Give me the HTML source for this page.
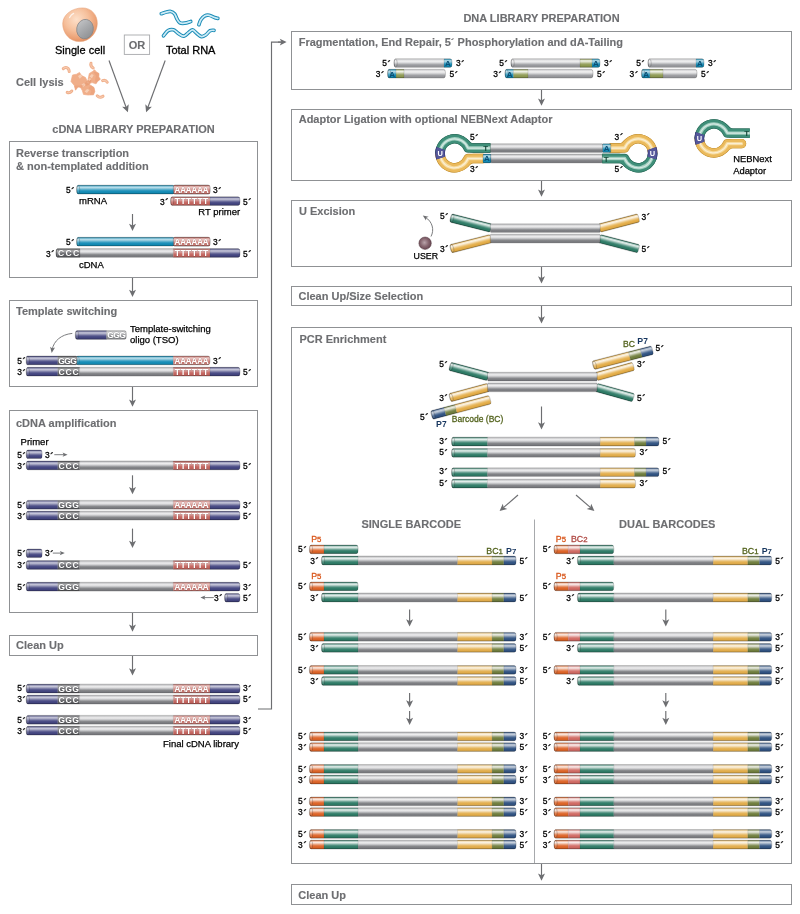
<!DOCTYPE html>
<html><head><meta charset="utf-8"><title>Library preparation workflow</title>
<style>
html,body{margin:0;padding:0;background:#fff;}
svg{display:block;}
text{font-family:"Liberation Sans",Arial,Helvetica,sans-serif;}
</style></head><body>
<svg width="800" height="914" viewBox="0 0 800 914">
<defs><linearGradient id="g_green" x1="0" y1="0" x2="0" y2="1"><stop offset="0" stop-color="#639d8d"/><stop offset="0.12" stop-color="#a1c4bb"/><stop offset="0.26" stop-color="#e2edea"/><stop offset="0.4" stop-color="#accbc2"/><stop offset="0.52" stop-color="#6da395"/><stop offset="0.64" stop-color="#408673"/><stop offset="0.76" stop-color="#2f7c67"/><stop offset="1" stop-color="#2b725f"/></linearGradient>
<linearGradient id="g_orange" x1="0" y1="0" x2="0" y2="1"><stop offset="0" stop-color="#e68b5e"/><stop offset="0.12" stop-color="#f0b99e"/><stop offset="0.26" stop-color="#fae9e1"/><stop offset="0.4" stop-color="#f1c1a9"/><stop offset="0.52" stop-color="#e79268"/><stop offset="0.64" stop-color="#e07039"/><stop offset="0.76" stop-color="#dd6428"/><stop offset="1" stop-color="#cb5c25"/></linearGradient>
<linearGradient id="g_grey" x1="0" y1="0" x2="0" y2="1"><stop offset="0" stop-color="#aaabae"/><stop offset="0.12" stop-color="#ceced0"/><stop offset="0.28" stop-color="#ededee"/><stop offset="0.42" stop-color="#d8d8da"/><stop offset="0.56" stop-color="#aeafb2"/><stop offset="0.68" stop-color="#8a8b8e"/><stop offset="0.78" stop-color="#7d7e82"/><stop offset="1" stop-color="#78797d"/></linearGradient>
<linearGradient id="g_yellow" x1="0" y1="0" x2="0" y2="1"><stop offset="0" stop-color="#ebc682"/><stop offset="0.12" stop-color="#f3ddb4"/><stop offset="0.27" stop-color="#faf2e2"/><stop offset="0.4" stop-color="#f4e0bb"/><stop offset="0.53" stop-color="#ebc682"/><stop offset="0.65" stop-color="#e4b45a"/><stop offset="0.76" stop-color="#e2ad4c"/><stop offset="1" stop-color="#d7a448"/></linearGradient>
<linearGradient id="g_olive" x1="0" y1="0" x2="0" y2="1"><stop offset="0" stop-color="#949e6e"/><stop offset="0.12" stop-color="#bfc5a8"/><stop offset="0.26" stop-color="#ebede4"/><stop offset="0.4" stop-color="#c6cbb2"/><stop offset="0.52" stop-color="#9ba578"/><stop offset="0.64" stop-color="#7b884d"/><stop offset="0.76" stop-color="#707e3e"/><stop offset="1" stop-color="#677439"/></linearGradient>
<linearGradient id="g_p7" x1="0" y1="0" x2="0" y2="1"><stop offset="0" stop-color="#5d789d"/><stop offset="0.12" stop-color="#91a3bc"/><stop offset="0.26" stop-color="#c8d1dd"/><stop offset="0.4" stop-color="#9aabc2"/><stop offset="0.52" stop-color="#667fa2"/><stop offset="0.64" stop-color="#3f5f8a"/><stop offset="0.76" stop-color="#315382"/><stop offset="1" stop-color="#2d4c78"/></linearGradient>
<linearGradient id="g_bc2" x1="0" y1="0" x2="0" y2="1"><stop offset="0" stop-color="#dc8f8b"/><stop offset="0.12" stop-color="#eabcb9"/><stop offset="0.26" stop-color="#f8eae9"/><stop offset="0.4" stop-color="#ecc3c1"/><stop offset="0.52" stop-color="#de9792"/><stop offset="0.64" stop-color="#d47670"/><stop offset="0.76" stop-color="#d06a64"/><stop offset="1" stop-color="#bf625c"/></linearGradient>
<linearGradient id="g_navy" x1="0" y1="0" x2="0" y2="1"><stop offset="0" stop-color="#696b9a"/><stop offset="0.12" stop-color="#9697b8"/><stop offset="0.26" stop-color="#c5c5d8"/><stop offset="0.4" stop-color="#9e9fbd"/><stop offset="0.52" stop-color="#71729f"/><stop offset="0.64" stop-color="#505289"/><stop offset="0.76" stop-color="#444681"/><stop offset="1" stop-color="#3f4077"/></linearGradient>
<linearGradient id="g_blue" x1="0" y1="0" x2="0" y2="1"><stop offset="0" stop-color="#43a3c5"/><stop offset="0.12" stop-color="#7bbfd6"/><stop offset="0.26" stop-color="#b6dbe8"/><stop offset="0.4" stop-color="#85c3d9"/><stop offset="0.52" stop-color="#4ca8c8"/><stop offset="0.64" stop-color="#2393bb"/><stop offset="0.76" stop-color="#148cb6"/><stop offset="1" stop-color="#1281a7"/></linearGradient>
<linearGradient id="g_pinkA" x1="0" y1="0" x2="0" y2="1"><stop offset="0" stop-color="#d6918b"/><stop offset="0.12" stop-color="#dfa9a5"/><stop offset="0.26" stop-color="#e9c2bf"/><stop offset="0.4" stop-color="#e1ada9"/><stop offset="0.52" stop-color="#d8958f"/><stop offset="0.64" stop-color="#d1837d"/><stop offset="0.76" stop-color="#cf7d76"/><stop offset="1" stop-color="#be736d"/></linearGradient>
<linearGradient id="g_pinkT" x1="0" y1="0" x2="0" y2="1"><stop offset="0" stop-color="#cd7c77"/><stop offset="0.12" stop-color="#d79894"/><stop offset="0.26" stop-color="#e2b4b2"/><stop offset="0.4" stop-color="#d99c99"/><stop offset="0.52" stop-color="#cf817c"/><stop offset="0.64" stop-color="#c76c67"/><stop offset="0.76" stop-color="#c4655f"/><stop offset="1" stop-color="#b45d57"/></linearGradient>
<linearGradient id="g_dgrey" x1="0" y1="0" x2="0" y2="1"><stop offset="0" stop-color="#757679"/><stop offset="0.12" stop-color="#8f9093"/><stop offset="0.26" stop-color="#ababad"/><stop offset="0.4" stop-color="#949497"/><stop offset="0.52" stop-color="#797a7e"/><stop offset="0.64" stop-color="#66676b"/><stop offset="0.76" stop-color="#5f6064"/><stop offset="1" stop-color="#57585c"/></linearGradient>
<linearGradient id="g_lgrey" x1="0" y1="0" x2="0" y2="1"><stop offset="0" stop-color="#a3a4a7"/><stop offset="0.12" stop-color="#bfbfc1"/><stop offset="0.26" stop-color="#dbdbdd"/><stop offset="0.4" stop-color="#c3c4c6"/><stop offset="0.52" stop-color="#a8a8ab"/><stop offset="0.64" stop-color="#939498"/><stop offset="0.76" stop-color="#8c8d91"/><stop offset="1" stop-color="#818285"/></linearGradient>
<linearGradient id="g_fgrey" x1="0" y1="0" x2="0" y2="1"><stop offset="0" stop-color="#bcbdbf"/><stop offset="0.12" stop-color="#d8d8da"/><stop offset="0.28" stop-color="#f1f1f1"/><stop offset="0.42" stop-color="#e0e0e2"/><stop offset="0.56" stop-color="#bfc0c2"/><stop offset="0.68" stop-color="#a2a3a7"/><stop offset="0.78" stop-color="#98999d"/><stop offset="1" stop-color="#929397"/></linearGradient>
<linearGradient id="g_folive" x1="0" y1="0" x2="0" y2="1"><stop offset="0" stop-color="#aab37d"/><stop offset="0.12" stop-color="#ccd2b1"/><stop offset="0.26" stop-color="#eff1e7"/><stop offset="0.4" stop-color="#d2d7ba"/><stop offset="0.52" stop-color="#b0b886"/><stop offset="0.64" stop-color="#97a260"/><stop offset="0.76" stop-color="#8e9a52"/><stop offset="1" stop-color="#838e4b"/></linearGradient>
<linearGradient id="g_yarm" x1="0" y1="0" x2="0" y2="1"><stop offset="0" stop-color="#ebc276"/><stop offset="0.12" stop-color="#f3daad"/><stop offset="0.26" stop-color="#fbf4e5"/><stop offset="0.4" stop-color="#f4deb6"/><stop offset="0.52" stop-color="#ecc67f"/><stop offset="0.64" stop-color="#e6b457"/><stop offset="0.76" stop-color="#e4ad48"/><stop offset="1" stop-color="#d29f42"/></linearGradient>

<linearGradient id="shade" x1="0" y1="0" x2="0" y2="1">
<stop offset="0" stop-color="#fff" stop-opacity="0.30"/>
<stop offset="0.12" stop-color="#fff" stop-opacity="0.60"/>
<stop offset="0.28" stop-color="#fff" stop-opacity="0.84"/>
<stop offset="0.42" stop-color="#fff" stop-opacity="0.66"/>
<stop offset="0.56" stop-color="#fff" stop-opacity="0.34"/>
<stop offset="0.68" stop-color="#fff" stop-opacity="0.08"/>
<stop offset="0.78" stop-color="#000" stop-opacity="0.0"/>
<stop offset="1" stop-color="#000" stop-opacity="0.05"/>
</linearGradient>
<radialGradient id="cellg" cx="0.40" cy="0.34" r="0.68">
<stop offset="0" stop-color="#fde0ca"/>
<stop offset="0.5" stop-color="#f6c09c"/>
<stop offset="0.85" stop-color="#eb9f73"/>
<stop offset="1" stop-color="#e08d5e"/>
</radialGradient>
<linearGradient id="nucg" x1="0" y1="0" x2="1" y2="1">
<stop offset="0" stop-color="#c9cacc"/>
<stop offset="0.45" stop-color="#a9abae"/>
<stop offset="1" stop-color="#87898c"/>
</linearGradient>
<radialGradient id="userg" cx="0.45" cy="0.45" r="0.6">
<stop offset="0" stop-color="#b9a3aa"/>
<stop offset="0.55" stop-color="#86656f"/>
<stop offset="1" stop-color="#64434e"/>
</radialGradient>
<clipPath id="c1"><rect x="173.00" y="185.20" width="37.00" height="8.80" rx="2.00" ry="3.20"/></clipPath>
<clipPath id="c2"><rect x="76.50" y="185.20" width="98.00" height="8.80" rx="2.00" ry="3.20"/></clipPath>
<clipPath id="c3"><rect x="173.30" y="185.20" width="36.70" height="8.80" rx="1.20" ry="1.92"/></clipPath>
<clipPath id="c4"><rect x="170.50" y="196.70" width="69.50" height="8.80" rx="2.00" ry="3.20"/></clipPath>
<clipPath id="c5"><rect x="173.00" y="237.30" width="37.00" height="8.80" rx="2.00" ry="3.20"/></clipPath>
<clipPath id="c6"><rect x="76.50" y="237.30" width="98.00" height="8.80" rx="2.00" ry="3.20"/></clipPath>
<clipPath id="c7"><rect x="173.30" y="237.30" width="36.70" height="8.80" rx="1.20" ry="1.92"/></clipPath>
<clipPath id="c8"><rect x="56.00" y="248.60" width="184.00" height="8.80" rx="2.00" ry="3.20"/></clipPath>
<clipPath id="c9"><rect x="75.30" y="330.60" width="51.10" height="8.80" rx="2.00" ry="3.20"/></clipPath>
<clipPath id="c10"><rect x="76.00" y="356.00" width="134.00" height="8.80" rx="2.00" ry="3.20"/></clipPath>
<clipPath id="c11"><rect x="26.20" y="356.00" width="51.00" height="8.80" rx="1.40" ry="2.24"/></clipPath>
<clipPath id="c12"><rect x="26.20" y="367.30" width="213.80" height="8.80" rx="2.00" ry="3.20"/></clipPath>
<clipPath id="c13"><rect x="26.20" y="450.00" width="16.00" height="8.60" rx="2.00" ry="3.20"/></clipPath>
<clipPath id="c14"><rect x="26.20" y="461.00" width="213.80" height="8.80" rx="2.00" ry="3.20"/></clipPath>
<clipPath id="c15"><rect x="26.20" y="500.40" width="213.80" height="8.80" rx="2.00" ry="3.20"/></clipPath>
<clipPath id="c16"><rect x="26.20" y="511.20" width="213.80" height="8.80" rx="2.00" ry="3.20"/></clipPath>
<clipPath id="c17"><rect x="26.20" y="549.00" width="16.00" height="8.60" rx="2.00" ry="3.20"/></clipPath>
<clipPath id="c18"><rect x="26.20" y="560.60" width="213.80" height="8.80" rx="2.00" ry="3.20"/></clipPath>
<clipPath id="c19"><rect x="26.20" y="582.30" width="213.80" height="8.80" rx="2.00" ry="3.20"/></clipPath>
<clipPath id="c20"><rect x="224.50" y="593.40" width="15.50" height="8.60" rx="2.00" ry="3.20"/></clipPath>
<clipPath id="c21"><rect x="26.20" y="684.20" width="213.80" height="8.80" rx="2.00" ry="3.20"/></clipPath>
<clipPath id="c22"><rect x="26.20" y="695.20" width="213.80" height="8.80" rx="2.00" ry="3.20"/></clipPath>
<clipPath id="c23"><rect x="26.20" y="715.40" width="213.80" height="8.80" rx="2.00" ry="3.20"/></clipPath>
<clipPath id="c24"><rect x="26.20" y="726.30" width="213.80" height="8.80" rx="2.00" ry="3.20"/></clipPath>
<clipPath id="c25"><rect x="394.00" y="58.70" width="58.00" height="8.70" rx="2.00" ry="3.20"/></clipPath>
<clipPath id="c26"><rect x="387.50" y="69.30" width="58.00" height="8.70" rx="2.00" ry="3.20"/></clipPath>
<clipPath id="c27"><rect x="511.00" y="58.70" width="89.00" height="8.70" rx="2.00" ry="3.20"/></clipPath>
<clipPath id="c28"><rect x="505.00" y="69.30" width="88.00" height="8.70" rx="2.00" ry="3.20"/></clipPath>
<clipPath id="c29"><rect x="648.00" y="58.70" width="56.00" height="8.70" rx="2.00" ry="3.20"/></clipPath>
<clipPath id="c30"><rect x="641.40" y="69.30" width="55.60" height="8.70" rx="2.00" ry="3.20"/></clipPath>
<clipPath id="c31"><rect x="483.00" y="154.10" width="8.00" height="8.80" rx="0.80" ry="1.28"/></clipPath>
<clipPath id="c32"><rect x="602.30" y="143.70" width="8.50" height="8.80" rx="0.80" ry="1.28"/></clipPath>
<clipPath id="c33"><rect x="490.30" y="143.70" width="112.30" height="8.80" rx="0.80" ry="1.28"/></clipPath>
<clipPath id="c34"><rect x="490.80" y="154.10" width="111.50" height="8.80" rx="0.80" ry="1.28"/></clipPath>
<clipPath id="c35"><rect x="450.50" y="213.55" width="42.08" height="8.60" rx="1.60" ry="2.56"/></clipPath>
<clipPath id="c36"><rect x="450.50" y="244.55" width="42.08" height="8.60" rx="1.60" ry="2.56"/></clipPath>
<clipPath id="c37"><rect x="599.20" y="223.85" width="40.92" height="8.60" rx="1.60" ry="2.56"/></clipPath>
<clipPath id="c38"><rect x="599.20" y="234.25" width="40.92" height="8.60" rx="1.60" ry="2.56"/></clipPath>
<clipPath id="c39"><rect x="490.30" y="223.80" width="109.90" height="8.70" rx="0.80" ry="1.28"/></clipPath>
<clipPath id="c40"><rect x="490.30" y="234.20" width="109.90" height="8.70" rx="0.80" ry="1.28"/></clipPath>
<clipPath id="c41"><rect x="431.50" y="410.75" width="60.83" height="8.90" rx="1.60" ry="2.56"/></clipPath>
<clipPath id="c42"><rect x="593.00" y="360.95" width="61.53" height="8.90" rx="1.60" ry="2.56"/></clipPath>
<clipPath id="c43"><rect x="449.70" y="361.95" width="40.17" height="8.60" rx="1.60" ry="2.56"/></clipPath>
<clipPath id="c44"><rect x="449.70" y="393.45" width="40.17" height="8.60" rx="1.60" ry="2.56"/></clipPath>
<clipPath id="c45"><rect x="596.20" y="372.35" width="38.82" height="8.60" rx="1.60" ry="2.56"/></clipPath>
<clipPath id="c46"><rect x="596.20" y="383.05" width="38.82" height="8.60" rx="1.60" ry="2.56"/></clipPath>
<clipPath id="c47"><rect x="487.50" y="372.30" width="109.70" height="8.70" rx="0.80" ry="1.28"/></clipPath>
<clipPath id="c48"><rect x="487.50" y="383.00" width="109.70" height="8.70" rx="0.80" ry="1.28"/></clipPath>
<clipPath id="c49"><rect x="451.50" y="437.20" width="207.50" height="8.80" rx="2.00" ry="3.20"/></clipPath>
<clipPath id="c50"><rect x="451.50" y="448.50" width="184.10" height="8.80" rx="2.00" ry="3.20"/></clipPath>
<clipPath id="c51"><rect x="451.50" y="467.80" width="207.50" height="8.80" rx="2.00" ry="3.20"/></clipPath>
<clipPath id="c52"><rect x="451.50" y="479.20" width="184.10" height="8.80" rx="2.00" ry="3.20"/></clipPath>
<clipPath id="c53"><rect x="309.40" y="545.00" width="48.70" height="8.70" rx="2.00" ry="3.20"/></clipPath>
<clipPath id="c54"><rect x="321.40" y="556.10" width="194.70" height="8.80" rx="2.00" ry="3.20"/></clipPath>
<clipPath id="c55"><rect x="309.40" y="582.00" width="48.70" height="8.70" rx="2.00" ry="3.20"/></clipPath>
<clipPath id="c56"><rect x="321.40" y="593.10" width="194.70" height="8.80" rx="2.00" ry="3.20"/></clipPath>
<clipPath id="c57"><rect x="309.40" y="632.40" width="206.70" height="8.80" rx="2.00" ry="3.20"/></clipPath>
<clipPath id="c58"><rect x="321.40" y="643.50" width="194.70" height="8.80" rx="2.00" ry="3.20"/></clipPath>
<clipPath id="c59"><rect x="309.40" y="665.50" width="206.70" height="8.80" rx="2.00" ry="3.20"/></clipPath>
<clipPath id="c60"><rect x="321.40" y="676.60" width="194.70" height="8.80" rx="2.00" ry="3.20"/></clipPath>
<clipPath id="c61"><rect x="309.40" y="732.00" width="206.70" height="8.80" rx="2.00" ry="3.20"/></clipPath>
<clipPath id="c62"><rect x="309.40" y="742.70" width="206.70" height="8.80" rx="2.00" ry="3.20"/></clipPath>
<clipPath id="c63"><rect x="309.40" y="764.50" width="206.70" height="8.80" rx="2.00" ry="3.20"/></clipPath>
<clipPath id="c64"><rect x="309.40" y="775.20" width="206.70" height="8.80" rx="2.00" ry="3.20"/></clipPath>
<clipPath id="c65"><rect x="309.40" y="797.00" width="206.70" height="8.80" rx="2.00" ry="3.20"/></clipPath>
<clipPath id="c66"><rect x="309.40" y="807.70" width="206.70" height="8.80" rx="2.00" ry="3.20"/></clipPath>
<clipPath id="c67"><rect x="309.40" y="829.50" width="206.70" height="8.80" rx="2.00" ry="3.20"/></clipPath>
<clipPath id="c68"><rect x="309.40" y="840.20" width="206.70" height="8.80" rx="2.00" ry="3.20"/></clipPath>
<clipPath id="c69"><rect x="554.00" y="545.00" width="59.80" height="8.70" rx="2.00" ry="3.20"/></clipPath>
<clipPath id="c70"><rect x="577.40" y="556.10" width="194.40" height="8.80" rx="2.00" ry="3.20"/></clipPath>
<clipPath id="c71"><rect x="554.00" y="582.00" width="59.80" height="8.70" rx="2.00" ry="3.20"/></clipPath>
<clipPath id="c72"><rect x="577.40" y="593.10" width="194.40" height="8.80" rx="2.00" ry="3.20"/></clipPath>
<clipPath id="c73"><rect x="554.00" y="632.40" width="217.80" height="8.80" rx="2.00" ry="3.20"/></clipPath>
<clipPath id="c74"><rect x="577.40" y="643.50" width="194.40" height="8.80" rx="2.00" ry="3.20"/></clipPath>
<clipPath id="c75"><rect x="554.00" y="665.50" width="217.80" height="8.80" rx="2.00" ry="3.20"/></clipPath>
<clipPath id="c76"><rect x="577.40" y="676.60" width="194.40" height="8.80" rx="2.00" ry="3.20"/></clipPath>
<clipPath id="c77"><rect x="554.00" y="732.00" width="217.80" height="8.80" rx="2.00" ry="3.20"/></clipPath>
<clipPath id="c78"><rect x="554.00" y="742.70" width="217.80" height="8.80" rx="2.00" ry="3.20"/></clipPath>
<clipPath id="c79"><rect x="554.00" y="764.50" width="217.80" height="8.80" rx="2.00" ry="3.20"/></clipPath>
<clipPath id="c80"><rect x="554.00" y="775.20" width="217.80" height="8.80" rx="2.00" ry="3.20"/></clipPath>
<clipPath id="c81"><rect x="554.00" y="797.00" width="217.80" height="8.80" rx="2.00" ry="3.20"/></clipPath>
<clipPath id="c82"><rect x="554.00" y="807.70" width="217.80" height="8.80" rx="2.00" ry="3.20"/></clipPath>
<clipPath id="c83"><rect x="554.00" y="829.50" width="217.80" height="8.80" rx="2.00" ry="3.20"/></clipPath>
<clipPath id="c84"><rect x="554.00" y="840.20" width="217.80" height="8.80" rx="2.00" ry="3.20"/></clipPath></defs>
<rect width="800" height="914" fill="#fff"/>
<path d="M82.5 7.9 C91 7.9 97.4 14.5 97.3 23.5 C97.2 32 90.5 41.6 79.5 41.6 C69.5 41.6 62.6 33 62.7 23.5 C62.8 14.5 72.5 7.9 82.5 7.9 Z" fill="url(#cellg)" stroke="#e59a6f" stroke-width="0.5"/>
<path d="M69.6 17.6 Q71 14.4 73.6 13.4" fill="none" stroke="#fff" stroke-width="1.3" stroke-linecap="round" opacity="0.75"/>
<ellipse cx="85" cy="29.1" rx="8.3" ry="9.8" transform="rotate(10 85 29.1)" fill="url(#nucg)" stroke="#808285" stroke-width="0.7"/>
<text x="55.00" y="54.00" font-size="11" fill="#000" stroke="#000" stroke-width="0.3">Single cell</text>
<rect x="124.3" y="35" width="25.3" height="19.4" fill="#fff" stroke="#a7a9ac" stroke-width="0.9"/>
<text x="137.00" y="49.00" font-size="10.0" fill="#6d6e71" text-anchor="middle" font-weight="bold" textLength="16.5" lengthAdjust="spacingAndGlyphs" stroke="#6d6e71" stroke-width="0.12">OR</text>
<text x="165.90" y="54.00" font-size="11" fill="#000" stroke="#000" stroke-width="0.3">Total RNA</text>
<path d="M161.30 13.70 C162.00 13.47 163.93 12.67 165.50 12.30 C167.07 11.93 169.17 11.22 170.70 11.50 C172.23 11.78 173.67 12.78 174.70 14.00 C175.73 15.22 176.03 17.33 176.90 18.80 C177.77 20.27 178.60 22.07 179.90 22.80 C181.20 23.53 182.90 23.42 184.70 23.20 C186.50 22.98 189.70 21.78 190.70 21.50" fill="none" stroke="#1a8cb6" stroke-width="3.7" stroke-linecap="round" stroke-linejoin="round"/>
<path d="M161.30 13.70 C162.00 13.47 163.93 12.67 165.50 12.30 C167.07 11.93 169.17 11.22 170.70 11.50 C172.23 11.78 173.67 12.78 174.70 14.00 C175.73 15.22 176.03 17.33 176.90 18.80 C177.77 20.27 178.60 22.07 179.90 22.80 C181.20 23.53 182.90 23.42 184.70 23.20 C186.50 22.98 189.70 21.78 190.70 21.50" fill="none" stroke="#cdebf6" stroke-width="1.7" stroke-linecap="round" stroke-linejoin="round"/>
<path d="M198.90 24.70 C199.23 23.87 199.90 21.18 200.90 19.70 C201.90 18.22 203.52 16.53 204.90 15.80 C206.28 15.07 207.60 15.02 209.20 15.30 C210.80 15.58 213.07 16.98 214.50 17.50 C215.93 18.02 217.25 18.25 217.80 18.40" fill="none" stroke="#1a8cb6" stroke-width="3.7" stroke-linecap="round" stroke-linejoin="round"/>
<path d="M198.90 24.70 C199.23 23.87 199.90 21.18 200.90 19.70 C201.90 18.22 203.52 16.53 204.90 15.80 C206.28 15.07 207.60 15.02 209.20 15.30 C210.80 15.58 213.07 16.98 214.50 17.50 C215.93 18.02 217.25 18.25 217.80 18.40" fill="none" stroke="#cdebf6" stroke-width="1.7" stroke-linecap="round" stroke-linejoin="round"/>
<path d="M163.50 35.80 C164.27 34.93 166.45 31.60 168.10 30.60 C169.75 29.60 171.65 29.28 173.40 29.80 C175.15 30.32 176.85 32.63 178.60 33.70 C180.35 34.77 182.22 36.42 183.90 36.20 C185.58 35.98 187.25 33.47 188.70 32.40 C190.15 31.33 191.28 29.67 192.60 29.80 C193.92 29.93 195.13 32.07 196.60 33.20 C198.07 34.33 199.88 36.30 201.40 36.60 C202.92 36.90 204.25 35.98 205.70 35.00 C207.15 34.02 208.72 31.48 210.10 30.70 C211.48 29.92 213.35 30.37 214.00 30.30" fill="none" stroke="#1a8cb6" stroke-width="3.7" stroke-linecap="round" stroke-linejoin="round"/>
<path d="M163.50 35.80 C164.27 34.93 166.45 31.60 168.10 30.60 C169.75 29.60 171.65 29.28 173.40 29.80 C175.15 30.32 176.85 32.63 178.60 33.70 C180.35 34.77 182.22 36.42 183.90 36.20 C185.58 35.98 187.25 33.47 188.70 32.40 C190.15 31.33 191.28 29.67 192.60 29.80 C193.92 29.93 195.13 32.07 196.60 33.20 C198.07 34.33 199.88 36.30 201.40 36.60 C202.92 36.90 204.25 35.98 205.70 35.00 C207.15 34.02 208.72 31.48 210.10 30.70 C211.48 29.92 213.35 30.37 214.00 30.30" fill="none" stroke="#cdebf6" stroke-width="1.7" stroke-linecap="round" stroke-linejoin="round"/>
<text x="16.00" y="85.60" font-size="10.0" fill="#6d6e71" font-weight="bold" textLength="47.7" lengthAdjust="spacingAndGlyphs" stroke="#6d6e71" stroke-width="0.12">Cell lysis</text>
<path d="M71 81.5 L72.5 75 L76.5 74.2 L79.5 72.4 L81.5 75.5 L85.5 77.5 L87.3 81.5 L84.5 84.5 L82 87.5 L78 87 L75.5 90.2 L74.3 85.5 Z" fill="#f0ae89" stroke="#f0ae89" stroke-width="0.7" stroke-linejoin="round"/>
<path d="M88 80 L89.3 73.5 L92.5 71.5 L94.6 69.8 L96.4 72 L99 73.5 L98.8 77 L100.4 79.2 L97.5 81.5 L96 83.8 L92 82.6 L89.5 83.6 Z" fill="#f0ae89" stroke="#f0ae89" stroke-width="0.7" stroke-linejoin="round"/>
<path d="M80 86.5 L83.5 83.2 L87.5 83 L91 85.5 L94 87.5 L94.8 91.5 L93.5 94.8 L88 95 L83.5 94.4 L82.3 90.5 Z" fill="#f0ae89" stroke="#f0ae89" stroke-width="0.7" stroke-linejoin="round"/>
<path d="M86.5 81.5 L89 78.5 L91.5 80.5 L89.5 84.5 L86 86 L83 84.5 Z" fill="#e99c74" opacity="0.8"/>
<path d="M78 76 l2.5 -1.5 l1.6 2 l-2.4 2.2 z M89.5 76.5 l2.2 -2.4 l2 1 l-1.8 3.2 z M81.5 84.5 l2.6 -1.4 l1.6 1.8 l-2.8 2 z M84.5 91.5 l2.6 -2.4 l2.4 0.8 l-2.6 3 z M88 79.5 l1.8 -1.6 l1.4 1.2 l-2 1.8 z" fill="#f8d3bc" opacity="0.85"/>
<path d="M63.3 68.6 Q65.4 66.4 68 68.4 Q69.2 69.6 69.2 71.6" fill="none" stroke="#f0ae89" stroke-width="3" stroke-linecap="round"/>
<path d="M63.3 68.6 Q65.4 66.4 68 68.4 Q69.2 69.6 69.2 71.6" fill="none" stroke="#f8d3bc" stroke-width="1.1" stroke-linecap="round" opacity="0.75"/>
<path d="M91 63.2 Q90 66 93.2 68" fill="none" stroke="#f0ae89" stroke-width="3" stroke-linecap="round"/>
<path d="M91 63.2 Q90 66 93.2 68" fill="none" stroke="#f8d3bc" stroke-width="1.1" stroke-linecap="round" opacity="0.75"/>
<path d="M102.6 80.6 Q105.6 79.6 107.2 82.2" fill="none" stroke="#f0ae89" stroke-width="3" stroke-linecap="round"/>
<path d="M102.6 80.6 Q105.6 79.6 107.2 82.2" fill="none" stroke="#f8d3bc" stroke-width="1.1" stroke-linecap="round" opacity="0.75"/>
<path d="M67.2 92.4 Q69.6 93.6 71.8 91" fill="none" stroke="#f0ae89" stroke-width="3" stroke-linecap="round"/>
<path d="M67.2 92.4 Q69.6 93.6 71.8 91" fill="none" stroke="#f8d3bc" stroke-width="1.1" stroke-linecap="round" opacity="0.75"/>
<path d="M97.2 95.8 Q99.8 98.6 103 96.2" fill="none" stroke="#f0ae89" stroke-width="3" stroke-linecap="round"/>
<path d="M97.2 95.8 Q99.8 98.6 103 96.2" fill="none" stroke="#f8d3bc" stroke-width="1.1" stroke-linecap="round" opacity="0.75"/>
<path d="M93.5 72 L96.4 72 L99 73.5 L98.8 77 L100.4 79.2 L97.5 81.5 L96 83.8 L95 80 L96 76 Z" fill="#e99c74" opacity="0.55"/>
<path d="M88.5 88 L91 85.5 L94 87.5 L94.8 91.5 L93.5 94.8 L90 94.9 L91.5 91 Z" fill="#e99c74" opacity="0.5"/>
<path d="M74.3 85.5 L75.5 90.2 L78 87 L82 87.5 L84.5 84.5 L80 85.5 Z" fill="#e99c74" opacity="0.45"/>
<line x1="109.00" y1="60.50" x2="126.17" y2="107.47" stroke="#6d6e71" stroke-width="1.15"/>
<polygon points="127.90,112.20 122.14,106.64 126.02,107.06 128.72,104.24" fill="#6d6e71"/>
<line x1="165.20" y1="60.50" x2="147.85" y2="107.47" stroke="#6d6e71" stroke-width="1.15"/>
<polygon points="146.10,112.20 145.31,104.23 148.00,107.07 151.88,106.66" fill="#6d6e71"/>
<text x="52.30" y="132.50" font-size="10.0" fill="#6d6e71" font-weight="bold" textLength="162.4" lengthAdjust="spacingAndGlyphs" stroke="#6d6e71" stroke-width="0.12">cDNA LIBRARY PREPARATION</text>
<rect x="9.50" y="141.50" width="248.00" height="136.00" fill="#fff" stroke="#8f9194" stroke-width="1"/>
<text x="16.00" y="157.00" font-size="10.0" fill="#6d6e71" font-weight="bold" textLength="113.1" lengthAdjust="spacingAndGlyphs" stroke="#6d6e71" stroke-width="0.12">Reverse transcription</text>
<text x="16.00" y="169.50" font-size="10.0" fill="#6d6e71" font-weight="bold" textLength="132.6" lengthAdjust="spacingAndGlyphs" stroke="#6d6e71" stroke-width="0.12">&amp; non-templated addition</text>
<g><g clip-path="url(#c1)"><rect x="173.00" y="185.20" width="37.00" height="8.80" fill="url(#g_pinkA)"/><path d="M173.00 185.50 H210.00 M173.00 193.70 H210.00" stroke="#955a55" stroke-width="0.9" stroke-opacity="0.75" fill="none"/></g><rect x="173.00" y="185.20" width="37.00" height="8.80" rx="2.00" ry="3.20" fill="none" stroke="#000" stroke-opacity="0.27" stroke-width="0.7"/></g>
<g><g clip-path="url(#c2)"><rect x="76.50" y="185.20" width="98.00" height="8.80" fill="url(#g_blue)"/><path d="M76.50 185.50 H174.50 M76.50 193.70 H174.50" stroke="#0e6583" stroke-width="0.9" stroke-opacity="0.75" fill="none"/></g><ellipse cx="78.20" cy="189.60" rx="1.50" ry="4.00" fill="#fff" fill-opacity="0.14" stroke="#000" stroke-opacity="0.32" stroke-width="0.6"/><rect x="76.50" y="185.20" width="98.00" height="8.80" rx="2.00" ry="3.20" fill="none" stroke="#000" stroke-opacity="0.27" stroke-width="0.7"/></g>
<g><g clip-path="url(#c3)"><rect x="173.30" y="185.20" width="36.70" height="8.80" fill="url(#g_pinkA)"/><path d="M173.30 185.50 H210.00 M173.30 193.70 H210.00" stroke="#955a55" stroke-width="0.9" stroke-opacity="0.75" fill="none"/></g><rect x="173.30" y="185.20" width="36.70" height="8.80" rx="1.20" ry="1.92" fill="none" stroke="#000" stroke-opacity="0.27" stroke-width="0.7"/></g>
<text x="177.33 183.00 188.67 194.33 200.00 205.67" y="192.70" font-size="8.6" font-weight="bold" fill="#fff" text-anchor="middle" stroke="#000" stroke-opacity="0.3" stroke-width="0.35" paint-order="stroke">AAAAAA</text>
<text x="66.00" y="193.00" font-size="8.4" fill="#000" stroke="#000" stroke-width="0.28">5<tspan font-size="10.5" dx="0.7" dy="2.7">´</tspan></text>
<text x="213.00" y="193.00" font-size="8.4" fill="#000" stroke="#000" stroke-width="0.28">3<tspan font-size="10.5" dx="0.7" dy="2.7">´</tspan></text>
<g><g clip-path="url(#c4)"><rect x="170.50" y="196.70" width="39.50" height="8.80" fill="url(#g_pinkT)"/><rect x="210.00" y="196.70" width="30.00" height="8.80" fill="url(#g_navy)"/><path d="M170.50 197.00 H210.00 M170.50 205.20 H210.00" stroke="#8d4944" stroke-width="0.9" stroke-opacity="0.75" fill="none"/><path d="M210.00 197.00 H240.00 M210.00 205.20 H240.00" stroke="#31325d" stroke-width="0.9" stroke-opacity="0.75" fill="none"/><line x1="210.00" y1="196.70" x2="210.00" y2="205.50" stroke="#000" stroke-opacity="0.18" stroke-width="0.6"/></g><ellipse cx="172.20" cy="201.10" rx="1.50" ry="4.00" fill="#fff" fill-opacity="0.14" stroke="#000" stroke-opacity="0.32" stroke-width="0.6"/><rect x="170.50" y="196.70" width="69.50" height="8.80" rx="2.00" ry="3.20" fill="none" stroke="#000" stroke-opacity="0.27" stroke-width="0.7"/></g>
<text x="177.33 183.00 188.67 194.33 200.00 205.67" y="204.20" font-size="8.6" font-weight="bold" fill="#fff" text-anchor="middle" stroke="#000" stroke-opacity="0.3" stroke-width="0.35" paint-order="stroke">TTTTTT</text>
<text x="160.00" y="204.50" font-size="8.4" fill="#000" stroke="#000" stroke-width="0.28">3<tspan font-size="10.5" dx="0.7" dy="2.7">´</tspan></text>
<text x="243.00" y="204.50" font-size="8.4" fill="#000" stroke="#000" stroke-width="0.28">5<tspan font-size="10.5" dx="0.7" dy="2.7">´</tspan></text>
<text x="79.00" y="204.30" font-size="9.5" fill="#000" stroke="#000" stroke-width="0.25">mRNA</text>
<text x="198.30" y="215.30" font-size="9.5" fill="#000" stroke="#000" stroke-width="0.25">RT primer</text>
<line x1="132.50" y1="214.00" x2="132.50" y2="225.96" stroke="#6d6e71" stroke-width="1.15"/>
<polygon points="132.50,231.00 129.00,223.80 132.50,225.53 136.00,223.80" fill="#6d6e71"/>
<g><g clip-path="url(#c5)"><rect x="173.00" y="237.30" width="37.00" height="8.80" fill="url(#g_pinkA)"/><path d="M173.00 237.60 H210.00 M173.00 245.80 H210.00" stroke="#955a55" stroke-width="0.9" stroke-opacity="0.75" fill="none"/></g><rect x="173.00" y="237.30" width="37.00" height="8.80" rx="2.00" ry="3.20" fill="none" stroke="#000" stroke-opacity="0.27" stroke-width="0.7"/></g>
<g><g clip-path="url(#c6)"><rect x="76.50" y="237.30" width="98.00" height="8.80" fill="url(#g_blue)"/><path d="M76.50 237.60 H174.50 M76.50 245.80 H174.50" stroke="#0e6583" stroke-width="0.9" stroke-opacity="0.75" fill="none"/></g><ellipse cx="78.20" cy="241.70" rx="1.50" ry="4.00" fill="#fff" fill-opacity="0.14" stroke="#000" stroke-opacity="0.32" stroke-width="0.6"/><rect x="76.50" y="237.30" width="98.00" height="8.80" rx="2.00" ry="3.20" fill="none" stroke="#000" stroke-opacity="0.27" stroke-width="0.7"/></g>
<g><g clip-path="url(#c7)"><rect x="173.30" y="237.30" width="36.70" height="8.80" fill="url(#g_pinkA)"/><path d="M173.30 237.60 H210.00 M173.30 245.80 H210.00" stroke="#955a55" stroke-width="0.9" stroke-opacity="0.75" fill="none"/></g><rect x="173.30" y="237.30" width="36.70" height="8.80" rx="1.20" ry="1.92" fill="none" stroke="#000" stroke-opacity="0.27" stroke-width="0.7"/></g>
<text x="177.33 183.00 188.67 194.33 200.00 205.67" y="244.80" font-size="8.6" font-weight="bold" fill="#fff" text-anchor="middle" stroke="#000" stroke-opacity="0.3" stroke-width="0.35" paint-order="stroke">AAAAAA</text>
<text x="66.00" y="245.20" font-size="8.4" fill="#000" stroke="#000" stroke-width="0.28">5<tspan font-size="10.5" dx="0.7" dy="2.7">´</tspan></text>
<text x="213.00" y="245.20" font-size="8.4" fill="#000" stroke="#000" stroke-width="0.28">3<tspan font-size="10.5" dx="0.7" dy="2.7">´</tspan></text>
<g><g clip-path="url(#c8)"><rect x="56.00" y="248.60" width="24.00" height="8.80" fill="url(#g_dgrey)"/><rect x="80.00" y="248.60" width="93.30" height="8.80" fill="url(#g_grey)"/><rect x="173.30" y="248.60" width="36.70" height="8.80" fill="url(#g_pinkT)"/><rect x="210.00" y="248.60" width="30.00" height="8.80" fill="url(#g_navy)"/><path d="M56.00 248.90 H80.00 M56.00 257.10 H80.00" stroke="#444548" stroke-width="0.9" stroke-opacity="0.75" fill="none"/><path d="M173.30 248.90 H210.00 M173.30 257.10 H210.00" stroke="#8d4944" stroke-width="0.9" stroke-opacity="0.75" fill="none"/><path d="M210.00 248.90 H240.00 M210.00 257.10 H240.00" stroke="#31325d" stroke-width="0.9" stroke-opacity="0.75" fill="none"/><line x1="80.00" y1="248.60" x2="80.00" y2="257.40" stroke="#000" stroke-opacity="0.18" stroke-width="0.6"/><line x1="173.30" y1="248.60" x2="173.30" y2="257.40" stroke="#000" stroke-opacity="0.18" stroke-width="0.6"/><line x1="210.00" y1="248.60" x2="210.00" y2="257.40" stroke="#000" stroke-opacity="0.18" stroke-width="0.6"/></g><ellipse cx="57.70" cy="253.00" rx="1.50" ry="4.00" fill="#fff" fill-opacity="0.14" stroke="#000" stroke-opacity="0.32" stroke-width="0.6"/><rect x="56.00" y="248.60" width="184.00" height="8.80" rx="2.00" ry="3.20" fill="none" stroke="#000" stroke-opacity="0.27" stroke-width="0.7"/></g>
<text x="61.00 68.60 76.20" y="256.10" font-size="8.6" font-weight="bold" fill="#fff" text-anchor="middle" stroke="#000" stroke-opacity="0.3" stroke-width="0.35" paint-order="stroke">CCC</text>
<text x="177.33 183.00 188.67 194.33 200.00 205.67" y="256.10" font-size="8.6" font-weight="bold" fill="#fff" text-anchor="middle" stroke="#000" stroke-opacity="0.3" stroke-width="0.35" paint-order="stroke">TTTTTT</text>
<text x="46.00" y="256.50" font-size="8.4" fill="#000" stroke="#000" stroke-width="0.28">3<tspan font-size="10.5" dx="0.7" dy="2.7">´</tspan></text>
<text x="243.00" y="256.50" font-size="8.4" fill="#000" stroke="#000" stroke-width="0.28">5<tspan font-size="10.5" dx="0.7" dy="2.7">´</tspan></text>
<text x="79.00" y="268.30" font-size="9.5" fill="#000" stroke="#000" stroke-width="0.25">cDNA</text>
<line x1="132.50" y1="278.00" x2="132.50" y2="291.96" stroke="#6d6e71" stroke-width="1.15"/>
<polygon points="132.50,297.00 129.00,289.80 132.50,291.53 136.00,289.80" fill="#6d6e71"/>
<rect x="9.50" y="300.50" width="248.00" height="86.00" fill="#fff" stroke="#8f9194" stroke-width="1"/>
<text x="16.00" y="315.30" font-size="10.0" fill="#6d6e71" font-weight="bold" textLength="101.2" lengthAdjust="spacingAndGlyphs" stroke="#6d6e71" stroke-width="0.12">Template switching</text>
<g><g clip-path="url(#c9)"><rect x="75.30" y="330.60" width="31.20" height="8.80" fill="url(#g_navy)"/><rect x="106.50" y="330.60" width="19.90" height="8.80" fill="url(#g_lgrey)"/><path d="M75.30 330.90 H106.50 M75.30 339.10 H106.50" stroke="#31325d" stroke-width="0.9" stroke-opacity="0.75" fill="none"/><line x1="106.50" y1="330.60" x2="106.50" y2="339.40" stroke="#000" stroke-opacity="0.18" stroke-width="0.6"/></g><ellipse cx="77.00" cy="335.00" rx="1.50" ry="4.00" fill="#fff" fill-opacity="0.14" stroke="#000" stroke-opacity="0.32" stroke-width="0.6"/><rect x="75.30" y="330.60" width="51.10" height="8.80" rx="2.00" ry="3.20" fill="none" stroke="#000" stroke-opacity="0.27" stroke-width="0.7"/></g>
<text x="110.50 116.50 122.50" y="338.10" font-size="8.6" font-weight="bold" fill="#fff" text-anchor="middle" stroke="#000" stroke-opacity="0.3" stroke-width="0.35" paint-order="stroke">GGG</text>
<text x="130.00" y="331.50" font-size="9.5" fill="#000" stroke="#000" stroke-width="0.25">Template-switching</text>
<text x="130.00" y="343.00" font-size="9.5" fill="#000" stroke="#000" stroke-width="0.25">oligo (TSO)</text>
<path d="M72.3 333.4 C61 334.5, 53.8 341, 52.2 349.5" fill="none" stroke="#6d6e71" stroke-width="0.9"/>
<line x1="52.50" y1="347.50" x2="52.30" y2="348.84" stroke="#6d6e71" stroke-width="0.1"/>
<polygon points="51.70,353.00 50.09,346.70 52.36,348.49 55.04,347.42" fill="#6d6e71"/>
<g><g clip-path="url(#c10)"><rect x="76.00" y="356.00" width="97.30" height="8.80" fill="url(#g_blue)"/><rect x="173.30" y="356.00" width="36.70" height="8.80" fill="url(#g_pinkA)"/><path d="M76.00 356.30 H173.30 M76.00 364.50 H173.30" stroke="#0e6583" stroke-width="0.9" stroke-opacity="0.75" fill="none"/><path d="M173.30 356.30 H210.00 M173.30 364.50 H210.00" stroke="#955a55" stroke-width="0.9" stroke-opacity="0.75" fill="none"/><line x1="173.30" y1="356.00" x2="173.30" y2="364.80" stroke="#000" stroke-opacity="0.18" stroke-width="0.6"/></g><ellipse cx="77.70" cy="360.40" rx="1.50" ry="4.00" fill="#fff" fill-opacity="0.14" stroke="#000" stroke-opacity="0.32" stroke-width="0.6"/><rect x="76.00" y="356.00" width="134.00" height="8.80" rx="2.00" ry="3.20" fill="none" stroke="#000" stroke-opacity="0.27" stroke-width="0.7"/></g>
<g><g clip-path="url(#c11)"><rect x="26.20" y="356.00" width="31.60" height="8.80" fill="url(#g_navy)"/><rect x="57.80" y="356.00" width="19.40" height="8.80" fill="url(#g_dgrey)"/><path d="M26.20 356.30 H57.80 M26.20 364.50 H57.80" stroke="#31325d" stroke-width="0.9" stroke-opacity="0.75" fill="none"/><path d="M57.80 356.30 H77.20 M57.80 364.50 H77.20" stroke="#444548" stroke-width="0.9" stroke-opacity="0.75" fill="none"/><line x1="57.80" y1="356.00" x2="57.80" y2="364.80" stroke="#000" stroke-opacity="0.18" stroke-width="0.6"/></g><ellipse cx="27.90" cy="360.40" rx="1.50" ry="4.00" fill="#fff" fill-opacity="0.14" stroke="#000" stroke-opacity="0.32" stroke-width="0.6"/><rect x="26.20" y="356.00" width="51.00" height="8.80" rx="1.40" ry="2.24" fill="none" stroke="#000" stroke-opacity="0.27" stroke-width="0.7"/></g>

<text x="61.50 67.50 73.50" y="363.50" font-size="8.6" font-weight="bold" fill="#fff" text-anchor="middle" stroke="#000" stroke-opacity="0.3" stroke-width="0.35" paint-order="stroke">GGG</text>
<text x="177.33 183.00 188.67 194.33 200.00 205.67" y="363.50" font-size="8.6" font-weight="bold" fill="#fff" text-anchor="middle" stroke="#000" stroke-opacity="0.3" stroke-width="0.35" paint-order="stroke">AAAAAA</text>
<text x="17.20" y="363.60" font-size="8.4" fill="#000" stroke="#000" stroke-width="0.28">5<tspan font-size="10.5" dx="0.7" dy="2.7">´</tspan></text>
<text x="213.00" y="363.60" font-size="8.4" fill="#000" stroke="#000" stroke-width="0.28">3<tspan font-size="10.5" dx="0.7" dy="2.7">´</tspan></text>
<g><g clip-path="url(#c12)"><rect x="26.20" y="367.30" width="31.60" height="8.80" fill="url(#g_navy)"/><rect x="57.80" y="367.30" width="21.80" height="8.80" fill="url(#g_dgrey)"/><rect x="79.60" y="367.30" width="93.70" height="8.80" fill="url(#g_grey)"/><rect x="173.30" y="367.30" width="36.70" height="8.80" fill="url(#g_pinkT)"/><rect x="210.00" y="367.30" width="30.00" height="8.80" fill="url(#g_navy)"/><path d="M26.20 367.60 H57.80 M26.20 375.80 H57.80" stroke="#31325d" stroke-width="0.9" stroke-opacity="0.75" fill="none"/><path d="M57.80 367.60 H79.60 M57.80 375.80 H79.60" stroke="#444548" stroke-width="0.9" stroke-opacity="0.75" fill="none"/><path d="M173.30 367.60 H210.00 M173.30 375.80 H210.00" stroke="#8d4944" stroke-width="0.9" stroke-opacity="0.75" fill="none"/><path d="M210.00 367.60 H240.00 M210.00 375.80 H240.00" stroke="#31325d" stroke-width="0.9" stroke-opacity="0.75" fill="none"/><line x1="57.80" y1="367.30" x2="57.80" y2="376.10" stroke="#000" stroke-opacity="0.18" stroke-width="0.6"/><line x1="79.60" y1="367.30" x2="79.60" y2="376.10" stroke="#000" stroke-opacity="0.18" stroke-width="0.6"/><line x1="173.30" y1="367.30" x2="173.30" y2="376.10" stroke="#000" stroke-opacity="0.18" stroke-width="0.6"/><line x1="210.00" y1="367.30" x2="210.00" y2="376.10" stroke="#000" stroke-opacity="0.18" stroke-width="0.6"/></g><ellipse cx="27.90" cy="371.70" rx="1.50" ry="4.00" fill="#fff" fill-opacity="0.14" stroke="#000" stroke-opacity="0.32" stroke-width="0.6"/><rect x="26.20" y="367.30" width="213.80" height="8.80" rx="2.00" ry="3.20" fill="none" stroke="#000" stroke-opacity="0.27" stroke-width="0.7"/></g>
<text x="61.50 68.50 75.50" y="374.80" font-size="8.6" font-weight="bold" fill="#fff" text-anchor="middle" stroke="#000" stroke-opacity="0.3" stroke-width="0.35" paint-order="stroke">CCC</text>
<text x="177.33 183.00 188.67 194.33 200.00 205.67" y="374.80" font-size="8.6" font-weight="bold" fill="#fff" text-anchor="middle" stroke="#000" stroke-opacity="0.3" stroke-width="0.35" paint-order="stroke">TTTTTT</text>
<text x="17.20" y="375.00" font-size="8.4" fill="#000" stroke="#000" stroke-width="0.28">3<tspan font-size="10.5" dx="0.7" dy="2.7">´</tspan></text>
<text x="243.00" y="375.00" font-size="8.4" fill="#000" stroke="#000" stroke-width="0.28">5<tspan font-size="10.5" dx="0.7" dy="2.7">´</tspan></text>
<line x1="132.50" y1="387.00" x2="132.50" y2="401.76" stroke="#6d6e71" stroke-width="1.15"/>
<polygon points="132.50,406.80 129.00,399.60 132.50,401.33 136.00,399.60" fill="#6d6e71"/>
<rect x="9.50" y="410.50" width="248.00" height="202.00" fill="#fff" stroke="#8f9194" stroke-width="1"/>
<text x="16.00" y="426.50" font-size="10.0" fill="#6d6e71" font-weight="bold" textLength="100.4" lengthAdjust="spacingAndGlyphs" stroke="#6d6e71" stroke-width="0.12">cDNA amplification</text>
<text x="20.60" y="445.20" font-size="9.5" fill="#000" stroke="#000" stroke-width="0.25">Primer</text>
<g><g clip-path="url(#c13)"><rect x="26.20" y="450.00" width="16.00" height="8.60" fill="url(#g_navy)"/><path d="M26.20 450.30 H42.20 M26.20 458.30 H42.20" stroke="#31325d" stroke-width="0.9" stroke-opacity="0.75" fill="none"/></g><ellipse cx="27.90" cy="454.30" rx="1.50" ry="3.90" fill="#fff" fill-opacity="0.14" stroke="#000" stroke-opacity="0.32" stroke-width="0.6"/><rect x="26.20" y="450.00" width="16.00" height="8.60" rx="2.00" ry="3.20" fill="none" stroke="#000" stroke-opacity="0.27" stroke-width="0.7"/></g>
<text x="17.20" y="457.80" font-size="8.4" fill="#000" stroke="#000" stroke-width="0.28">5<tspan font-size="10.5" dx="0.7" dy="2.7">´</tspan></text>
<text x="45.00" y="457.80" font-size="8.4" fill="#000" stroke="#000" stroke-width="0.28">3<tspan font-size="10.5" dx="0.7" dy="2.7">´</tspan></text>
<line x1="54.30" y1="454.70" x2="64.10" y2="454.70" stroke="#6d6e71" stroke-width="0.9"/>
<polygon points="67.60,454.70 62.60,456.80 63.80,454.70 62.60,452.60" fill="#6d6e71"/>
<g><g clip-path="url(#c14)"><rect x="26.20" y="461.00" width="31.60" height="8.80" fill="url(#g_navy)"/><rect x="57.80" y="461.00" width="21.80" height="8.80" fill="url(#g_dgrey)"/><rect x="79.60" y="461.00" width="93.70" height="8.80" fill="url(#g_grey)"/><rect x="173.30" y="461.00" width="36.70" height="8.80" fill="url(#g_pinkT)"/><rect x="210.00" y="461.00" width="30.00" height="8.80" fill="url(#g_navy)"/><path d="M26.20 461.30 H57.80 M26.20 469.50 H57.80" stroke="#31325d" stroke-width="0.9" stroke-opacity="0.75" fill="none"/><path d="M57.80 461.30 H79.60 M57.80 469.50 H79.60" stroke="#444548" stroke-width="0.9" stroke-opacity="0.75" fill="none"/><path d="M173.30 461.30 H210.00 M173.30 469.50 H210.00" stroke="#8d4944" stroke-width="0.9" stroke-opacity="0.75" fill="none"/><path d="M210.00 461.30 H240.00 M210.00 469.50 H240.00" stroke="#31325d" stroke-width="0.9" stroke-opacity="0.75" fill="none"/><line x1="57.80" y1="461.00" x2="57.80" y2="469.80" stroke="#000" stroke-opacity="0.18" stroke-width="0.6"/><line x1="79.60" y1="461.00" x2="79.60" y2="469.80" stroke="#000" stroke-opacity="0.18" stroke-width="0.6"/><line x1="173.30" y1="461.00" x2="173.30" y2="469.80" stroke="#000" stroke-opacity="0.18" stroke-width="0.6"/><line x1="210.00" y1="461.00" x2="210.00" y2="469.80" stroke="#000" stroke-opacity="0.18" stroke-width="0.6"/></g><ellipse cx="27.90" cy="465.40" rx="1.50" ry="4.00" fill="#fff" fill-opacity="0.14" stroke="#000" stroke-opacity="0.32" stroke-width="0.6"/><rect x="26.20" y="461.00" width="213.80" height="8.80" rx="2.00" ry="3.20" fill="none" stroke="#000" stroke-opacity="0.27" stroke-width="0.7"/></g>
<text x="61.50 68.50 75.50" y="468.50" font-size="8.6" font-weight="bold" fill="#fff" text-anchor="middle" stroke="#000" stroke-opacity="0.3" stroke-width="0.35" paint-order="stroke">CCC</text>
<text x="177.33 183.00 188.67 194.33 200.00 205.67" y="468.50" font-size="8.6" font-weight="bold" fill="#fff" text-anchor="middle" stroke="#000" stroke-opacity="0.3" stroke-width="0.35" paint-order="stroke">TTTTTT</text>
<text x="17.20" y="468.80" font-size="8.4" fill="#000" stroke="#000" stroke-width="0.28">3<tspan font-size="10.5" dx="0.7" dy="2.7">´</tspan></text>
<text x="243.00" y="468.80" font-size="8.4" fill="#000" stroke="#000" stroke-width="0.28">5<tspan font-size="10.5" dx="0.7" dy="2.7">´</tspan></text>
<line x1="132.50" y1="475.30" x2="132.50" y2="489.16" stroke="#6d6e71" stroke-width="1.15"/>
<polygon points="132.50,494.20 129.00,487.00 132.50,488.73 136.00,487.00" fill="#6d6e71"/>
<g><g clip-path="url(#c15)"><rect x="26.20" y="500.40" width="31.60" height="8.80" fill="url(#g_navy)"/><rect x="57.80" y="500.40" width="21.80" height="8.80" fill="url(#g_dgrey)"/><rect x="79.60" y="500.40" width="93.70" height="8.80" fill="url(#g_grey)"/><rect x="173.30" y="500.40" width="36.70" height="8.80" fill="url(#g_pinkA)"/><rect x="210.00" y="500.40" width="30.00" height="8.80" fill="url(#g_navy)"/><path d="M26.20 500.70 H57.80 M26.20 508.90 H57.80" stroke="#31325d" stroke-width="0.9" stroke-opacity="0.75" fill="none"/><path d="M57.80 500.70 H79.60 M57.80 508.90 H79.60" stroke="#444548" stroke-width="0.9" stroke-opacity="0.75" fill="none"/><path d="M173.30 500.70 H210.00 M173.30 508.90 H210.00" stroke="#955a55" stroke-width="0.9" stroke-opacity="0.75" fill="none"/><path d="M210.00 500.70 H240.00 M210.00 508.90 H240.00" stroke="#31325d" stroke-width="0.9" stroke-opacity="0.75" fill="none"/><line x1="57.80" y1="500.40" x2="57.80" y2="509.20" stroke="#000" stroke-opacity="0.18" stroke-width="0.6"/><line x1="79.60" y1="500.40" x2="79.60" y2="509.20" stroke="#000" stroke-opacity="0.18" stroke-width="0.6"/><line x1="173.30" y1="500.40" x2="173.30" y2="509.20" stroke="#000" stroke-opacity="0.18" stroke-width="0.6"/><line x1="210.00" y1="500.40" x2="210.00" y2="509.20" stroke="#000" stroke-opacity="0.18" stroke-width="0.6"/></g><ellipse cx="27.90" cy="504.80" rx="1.50" ry="4.00" fill="#fff" fill-opacity="0.14" stroke="#000" stroke-opacity="0.32" stroke-width="0.6"/><rect x="26.20" y="500.40" width="213.80" height="8.80" rx="2.00" ry="3.20" fill="none" stroke="#000" stroke-opacity="0.27" stroke-width="0.7"/></g>
<text x="61.50 68.50 75.50" y="507.90" font-size="8.6" font-weight="bold" fill="#fff" text-anchor="middle" stroke="#000" stroke-opacity="0.3" stroke-width="0.35" paint-order="stroke">GGG</text>
<text x="177.33 183.00 188.67 194.33 200.00 205.67" y="507.90" font-size="8.6" font-weight="bold" fill="#fff" text-anchor="middle" stroke="#000" stroke-opacity="0.3" stroke-width="0.35" paint-order="stroke">AAAAAA</text>
<text x="17.20" y="508.00" font-size="8.4" fill="#000" stroke="#000" stroke-width="0.28">5<tspan font-size="10.5" dx="0.7" dy="2.7">´</tspan></text>
<text x="243.00" y="508.00" font-size="8.4" fill="#000" stroke="#000" stroke-width="0.28">3<tspan font-size="10.5" dx="0.7" dy="2.7">´</tspan></text>
<g><g clip-path="url(#c16)"><rect x="26.20" y="511.20" width="31.60" height="8.80" fill="url(#g_navy)"/><rect x="57.80" y="511.20" width="21.80" height="8.80" fill="url(#g_dgrey)"/><rect x="79.60" y="511.20" width="93.70" height="8.80" fill="url(#g_grey)"/><rect x="173.30" y="511.20" width="36.70" height="8.80" fill="url(#g_pinkT)"/><rect x="210.00" y="511.20" width="30.00" height="8.80" fill="url(#g_navy)"/><path d="M26.20 511.50 H57.80 M26.20 519.70 H57.80" stroke="#31325d" stroke-width="0.9" stroke-opacity="0.75" fill="none"/><path d="M57.80 511.50 H79.60 M57.80 519.70 H79.60" stroke="#444548" stroke-width="0.9" stroke-opacity="0.75" fill="none"/><path d="M173.30 511.50 H210.00 M173.30 519.70 H210.00" stroke="#8d4944" stroke-width="0.9" stroke-opacity="0.75" fill="none"/><path d="M210.00 511.50 H240.00 M210.00 519.70 H240.00" stroke="#31325d" stroke-width="0.9" stroke-opacity="0.75" fill="none"/><line x1="57.80" y1="511.20" x2="57.80" y2="520.00" stroke="#000" stroke-opacity="0.18" stroke-width="0.6"/><line x1="79.60" y1="511.20" x2="79.60" y2="520.00" stroke="#000" stroke-opacity="0.18" stroke-width="0.6"/><line x1="173.30" y1="511.20" x2="173.30" y2="520.00" stroke="#000" stroke-opacity="0.18" stroke-width="0.6"/><line x1="210.00" y1="511.20" x2="210.00" y2="520.00" stroke="#000" stroke-opacity="0.18" stroke-width="0.6"/></g><ellipse cx="27.90" cy="515.60" rx="1.50" ry="4.00" fill="#fff" fill-opacity="0.14" stroke="#000" stroke-opacity="0.32" stroke-width="0.6"/><rect x="26.20" y="511.20" width="213.80" height="8.80" rx="2.00" ry="3.20" fill="none" stroke="#000" stroke-opacity="0.27" stroke-width="0.7"/></g>
<text x="61.50 68.50 75.50" y="518.70" font-size="8.6" font-weight="bold" fill="#fff" text-anchor="middle" stroke="#000" stroke-opacity="0.3" stroke-width="0.35" paint-order="stroke">CCC</text>
<text x="177.33 183.00 188.67 194.33 200.00 205.67" y="518.70" font-size="8.6" font-weight="bold" fill="#fff" text-anchor="middle" stroke="#000" stroke-opacity="0.3" stroke-width="0.35" paint-order="stroke">TTTTTT</text>
<text x="17.20" y="519.30" font-size="8.4" fill="#000" stroke="#000" stroke-width="0.28">3<tspan font-size="10.5" dx="0.7" dy="2.7">´</tspan></text>
<text x="243.00" y="519.30" font-size="8.4" fill="#000" stroke="#000" stroke-width="0.28">5<tspan font-size="10.5" dx="0.7" dy="2.7">´</tspan></text>
<line x1="132.50" y1="528.60" x2="132.50" y2="542.86" stroke="#6d6e71" stroke-width="1.15"/>
<polygon points="132.50,547.90 129.00,540.70 132.50,542.43 136.00,540.70" fill="#6d6e71"/>
<g><g clip-path="url(#c17)"><rect x="26.20" y="549.00" width="16.00" height="8.60" fill="url(#g_navy)"/><path d="M26.20 549.30 H42.20 M26.20 557.30 H42.20" stroke="#31325d" stroke-width="0.9" stroke-opacity="0.75" fill="none"/></g><ellipse cx="27.90" cy="553.30" rx="1.50" ry="3.90" fill="#fff" fill-opacity="0.14" stroke="#000" stroke-opacity="0.32" stroke-width="0.6"/><rect x="26.20" y="549.00" width="16.00" height="8.60" rx="2.00" ry="3.20" fill="none" stroke="#000" stroke-opacity="0.27" stroke-width="0.7"/></g>
<text x="17.20" y="556.00" font-size="8.4" fill="#000" stroke="#000" stroke-width="0.28">5<tspan font-size="10.5" dx="0.7" dy="2.7">´</tspan></text>
<text x="45.00" y="556.00" font-size="8.4" fill="#000" stroke="#000" stroke-width="0.28">3<tspan font-size="10.5" dx="0.7" dy="2.7">´</tspan></text>
<line x1="52.80" y1="553.10" x2="61.30" y2="553.10" stroke="#6d6e71" stroke-width="0.9"/>
<polygon points="64.80,553.10 59.80,555.20 61.00,553.10 59.80,551.00" fill="#6d6e71"/>
<g><g clip-path="url(#c18)"><rect x="26.20" y="560.60" width="31.60" height="8.80" fill="url(#g_navy)"/><rect x="57.80" y="560.60" width="21.80" height="8.80" fill="url(#g_dgrey)"/><rect x="79.60" y="560.60" width="93.70" height="8.80" fill="url(#g_grey)"/><rect x="173.30" y="560.60" width="36.70" height="8.80" fill="url(#g_pinkT)"/><rect x="210.00" y="560.60" width="30.00" height="8.80" fill="url(#g_navy)"/><path d="M26.20 560.90 H57.80 M26.20 569.10 H57.80" stroke="#31325d" stroke-width="0.9" stroke-opacity="0.75" fill="none"/><path d="M57.80 560.90 H79.60 M57.80 569.10 H79.60" stroke="#444548" stroke-width="0.9" stroke-opacity="0.75" fill="none"/><path d="M173.30 560.90 H210.00 M173.30 569.10 H210.00" stroke="#8d4944" stroke-width="0.9" stroke-opacity="0.75" fill="none"/><path d="M210.00 560.90 H240.00 M210.00 569.10 H240.00" stroke="#31325d" stroke-width="0.9" stroke-opacity="0.75" fill="none"/><line x1="57.80" y1="560.60" x2="57.80" y2="569.40" stroke="#000" stroke-opacity="0.18" stroke-width="0.6"/><line x1="79.60" y1="560.60" x2="79.60" y2="569.40" stroke="#000" stroke-opacity="0.18" stroke-width="0.6"/><line x1="173.30" y1="560.60" x2="173.30" y2="569.40" stroke="#000" stroke-opacity="0.18" stroke-width="0.6"/><line x1="210.00" y1="560.60" x2="210.00" y2="569.40" stroke="#000" stroke-opacity="0.18" stroke-width="0.6"/></g><ellipse cx="27.90" cy="565.00" rx="1.50" ry="4.00" fill="#fff" fill-opacity="0.14" stroke="#000" stroke-opacity="0.32" stroke-width="0.6"/><rect x="26.20" y="560.60" width="213.80" height="8.80" rx="2.00" ry="3.20" fill="none" stroke="#000" stroke-opacity="0.27" stroke-width="0.7"/></g>
<text x="61.50 68.50 75.50" y="568.10" font-size="8.6" font-weight="bold" fill="#fff" text-anchor="middle" stroke="#000" stroke-opacity="0.3" stroke-width="0.35" paint-order="stroke">CCC</text>
<text x="177.33 183.00 188.67 194.33 200.00 205.67" y="568.10" font-size="8.6" font-weight="bold" fill="#fff" text-anchor="middle" stroke="#000" stroke-opacity="0.3" stroke-width="0.35" paint-order="stroke">TTTTTT</text>
<text x="17.20" y="568.20" font-size="8.4" fill="#000" stroke="#000" stroke-width="0.28">3<tspan font-size="10.5" dx="0.7" dy="2.7">´</tspan></text>
<text x="243.00" y="568.20" font-size="8.4" fill="#000" stroke="#000" stroke-width="0.28">5<tspan font-size="10.5" dx="0.7" dy="2.7">´</tspan></text>
<g><g clip-path="url(#c19)"><rect x="26.20" y="582.30" width="31.60" height="8.80" fill="url(#g_navy)"/><rect x="57.80" y="582.30" width="21.80" height="8.80" fill="url(#g_dgrey)"/><rect x="79.60" y="582.30" width="93.70" height="8.80" fill="url(#g_grey)"/><rect x="173.30" y="582.30" width="36.70" height="8.80" fill="url(#g_pinkA)"/><rect x="210.00" y="582.30" width="30.00" height="8.80" fill="url(#g_navy)"/><path d="M26.20 582.60 H57.80 M26.20 590.80 H57.80" stroke="#31325d" stroke-width="0.9" stroke-opacity="0.75" fill="none"/><path d="M57.80 582.60 H79.60 M57.80 590.80 H79.60" stroke="#444548" stroke-width="0.9" stroke-opacity="0.75" fill="none"/><path d="M173.30 582.60 H210.00 M173.30 590.80 H210.00" stroke="#955a55" stroke-width="0.9" stroke-opacity="0.75" fill="none"/><path d="M210.00 582.60 H240.00 M210.00 590.80 H240.00" stroke="#31325d" stroke-width="0.9" stroke-opacity="0.75" fill="none"/><line x1="57.80" y1="582.30" x2="57.80" y2="591.10" stroke="#000" stroke-opacity="0.18" stroke-width="0.6"/><line x1="79.60" y1="582.30" x2="79.60" y2="591.10" stroke="#000" stroke-opacity="0.18" stroke-width="0.6"/><line x1="173.30" y1="582.30" x2="173.30" y2="591.10" stroke="#000" stroke-opacity="0.18" stroke-width="0.6"/><line x1="210.00" y1="582.30" x2="210.00" y2="591.10" stroke="#000" stroke-opacity="0.18" stroke-width="0.6"/></g><ellipse cx="27.90" cy="586.70" rx="1.50" ry="4.00" fill="#fff" fill-opacity="0.14" stroke="#000" stroke-opacity="0.32" stroke-width="0.6"/><rect x="26.20" y="582.30" width="213.80" height="8.80" rx="2.00" ry="3.20" fill="none" stroke="#000" stroke-opacity="0.27" stroke-width="0.7"/></g>
<text x="61.50 68.50 75.50" y="589.80" font-size="8.6" font-weight="bold" fill="#fff" text-anchor="middle" stroke="#000" stroke-opacity="0.3" stroke-width="0.35" paint-order="stroke">GGG</text>
<text x="177.33 183.00 188.67 194.33 200.00 205.67" y="589.80" font-size="8.6" font-weight="bold" fill="#fff" text-anchor="middle" stroke="#000" stroke-opacity="0.3" stroke-width="0.35" paint-order="stroke">AAAAAA</text>
<text x="17.20" y="589.90" font-size="8.4" fill="#000" stroke="#000" stroke-width="0.28">5<tspan font-size="10.5" dx="0.7" dy="2.7">´</tspan></text>
<text x="243.00" y="589.90" font-size="8.4" fill="#000" stroke="#000" stroke-width="0.28">3<tspan font-size="10.5" dx="0.7" dy="2.7">´</tspan></text>
<g><g clip-path="url(#c20)"><rect x="224.50" y="593.40" width="15.50" height="8.60" fill="url(#g_navy)"/><path d="M224.50 593.70 H240.00 M224.50 601.70 H240.00" stroke="#31325d" stroke-width="0.9" stroke-opacity="0.75" fill="none"/></g><ellipse cx="226.20" cy="597.70" rx="1.50" ry="3.90" fill="#fff" fill-opacity="0.14" stroke="#000" stroke-opacity="0.32" stroke-width="0.6"/><rect x="224.50" y="593.40" width="15.50" height="8.60" rx="2.00" ry="3.20" fill="none" stroke="#000" stroke-opacity="0.27" stroke-width="0.7"/></g>
<line x1="213.80" y1="597.60" x2="203.90" y2="597.60" stroke="#6d6e71" stroke-width="0.9"/>
<polygon points="200.40,597.60 205.40,595.50 204.20,597.60 205.40,599.70" fill="#6d6e71"/>
<text x="214.00" y="600.60" font-size="8.4" fill="#000" stroke="#000" stroke-width="0.28">3<tspan font-size="10.5" dx="0.7" dy="2.7">´</tspan></text>
<text x="243.00" y="600.60" font-size="8.4" fill="#000" stroke="#000" stroke-width="0.28">5<tspan font-size="10.5" dx="0.7" dy="2.7">´</tspan></text>
<line x1="132.50" y1="613.00" x2="132.50" y2="626.76" stroke="#6d6e71" stroke-width="1.15"/>
<polygon points="132.50,631.80 129.00,624.60 132.50,626.33 136.00,624.60" fill="#6d6e71"/>
<rect x="9.50" y="635.50" width="248.00" height="20.00" fill="#fff" stroke="#8f9194" stroke-width="1"/>
<text x="16.00" y="648.80" font-size="10.0" fill="#6d6e71" font-weight="bold" textLength="47.7" lengthAdjust="spacingAndGlyphs" stroke="#6d6e71" stroke-width="0.12">Clean Up</text>
<line x1="132.50" y1="656.00" x2="132.50" y2="670.46" stroke="#6d6e71" stroke-width="1.15"/>
<polygon points="132.50,675.50 129.00,668.30 132.50,670.03 136.00,668.30" fill="#6d6e71"/>
<g><g clip-path="url(#c21)"><rect x="26.20" y="684.20" width="31.60" height="8.80" fill="url(#g_navy)"/><rect x="57.80" y="684.20" width="21.80" height="8.80" fill="url(#g_dgrey)"/><rect x="79.60" y="684.20" width="93.70" height="8.80" fill="url(#g_grey)"/><rect x="173.30" y="684.20" width="36.70" height="8.80" fill="url(#g_pinkA)"/><rect x="210.00" y="684.20" width="30.00" height="8.80" fill="url(#g_navy)"/><path d="M26.20 684.50 H57.80 M26.20 692.70 H57.80" stroke="#31325d" stroke-width="0.9" stroke-opacity="0.75" fill="none"/><path d="M57.80 684.50 H79.60 M57.80 692.70 H79.60" stroke="#444548" stroke-width="0.9" stroke-opacity="0.75" fill="none"/><path d="M173.30 684.50 H210.00 M173.30 692.70 H210.00" stroke="#955a55" stroke-width="0.9" stroke-opacity="0.75" fill="none"/><path d="M210.00 684.50 H240.00 M210.00 692.70 H240.00" stroke="#31325d" stroke-width="0.9" stroke-opacity="0.75" fill="none"/><line x1="57.80" y1="684.20" x2="57.80" y2="693.00" stroke="#000" stroke-opacity="0.18" stroke-width="0.6"/><line x1="79.60" y1="684.20" x2="79.60" y2="693.00" stroke="#000" stroke-opacity="0.18" stroke-width="0.6"/><line x1="173.30" y1="684.20" x2="173.30" y2="693.00" stroke="#000" stroke-opacity="0.18" stroke-width="0.6"/><line x1="210.00" y1="684.20" x2="210.00" y2="693.00" stroke="#000" stroke-opacity="0.18" stroke-width="0.6"/></g><ellipse cx="27.90" cy="688.60" rx="1.50" ry="4.00" fill="#fff" fill-opacity="0.14" stroke="#000" stroke-opacity="0.32" stroke-width="0.6"/><rect x="26.20" y="684.20" width="213.80" height="8.80" rx="2.00" ry="3.20" fill="none" stroke="#000" stroke-opacity="0.27" stroke-width="0.7"/></g>
<text x="61.50 68.50 75.50" y="691.70" font-size="8.6" font-weight="bold" fill="#fff" text-anchor="middle" stroke="#000" stroke-opacity="0.3" stroke-width="0.35" paint-order="stroke">GGG</text>
<text x="177.33 183.00 188.67 194.33 200.00 205.67" y="691.70" font-size="8.6" font-weight="bold" fill="#fff" text-anchor="middle" stroke="#000" stroke-opacity="0.3" stroke-width="0.35" paint-order="stroke">AAAAAA</text>
<text x="17.20" y="691.20" font-size="8.4" fill="#000" stroke="#000" stroke-width="0.28">5<tspan font-size="10.5" dx="0.7" dy="2.7">´</tspan></text>
<text x="243.00" y="691.20" font-size="8.4" fill="#000" stroke="#000" stroke-width="0.28">3<tspan font-size="10.5" dx="0.7" dy="2.7">´</tspan></text>
<g><g clip-path="url(#c22)"><rect x="26.20" y="695.20" width="31.60" height="8.80" fill="url(#g_navy)"/><rect x="57.80" y="695.20" width="21.80" height="8.80" fill="url(#g_dgrey)"/><rect x="79.60" y="695.20" width="93.70" height="8.80" fill="url(#g_grey)"/><rect x="173.30" y="695.20" width="36.70" height="8.80" fill="url(#g_pinkT)"/><rect x="210.00" y="695.20" width="30.00" height="8.80" fill="url(#g_navy)"/><path d="M26.20 695.50 H57.80 M26.20 703.70 H57.80" stroke="#31325d" stroke-width="0.9" stroke-opacity="0.75" fill="none"/><path d="M57.80 695.50 H79.60 M57.80 703.70 H79.60" stroke="#444548" stroke-width="0.9" stroke-opacity="0.75" fill="none"/><path d="M173.30 695.50 H210.00 M173.30 703.70 H210.00" stroke="#8d4944" stroke-width="0.9" stroke-opacity="0.75" fill="none"/><path d="M210.00 695.50 H240.00 M210.00 703.70 H240.00" stroke="#31325d" stroke-width="0.9" stroke-opacity="0.75" fill="none"/><line x1="57.80" y1="695.20" x2="57.80" y2="704.00" stroke="#000" stroke-opacity="0.18" stroke-width="0.6"/><line x1="79.60" y1="695.20" x2="79.60" y2="704.00" stroke="#000" stroke-opacity="0.18" stroke-width="0.6"/><line x1="173.30" y1="695.20" x2="173.30" y2="704.00" stroke="#000" stroke-opacity="0.18" stroke-width="0.6"/><line x1="210.00" y1="695.20" x2="210.00" y2="704.00" stroke="#000" stroke-opacity="0.18" stroke-width="0.6"/></g><ellipse cx="27.90" cy="699.60" rx="1.50" ry="4.00" fill="#fff" fill-opacity="0.14" stroke="#000" stroke-opacity="0.32" stroke-width="0.6"/><rect x="26.20" y="695.20" width="213.80" height="8.80" rx="2.00" ry="3.20" fill="none" stroke="#000" stroke-opacity="0.27" stroke-width="0.7"/></g>
<text x="61.50 68.50 75.50" y="702.70" font-size="8.6" font-weight="bold" fill="#fff" text-anchor="middle" stroke="#000" stroke-opacity="0.3" stroke-width="0.35" paint-order="stroke">CCC</text>
<text x="177.33 183.00 188.67 194.33 200.00 205.67" y="702.70" font-size="8.6" font-weight="bold" fill="#fff" text-anchor="middle" stroke="#000" stroke-opacity="0.3" stroke-width="0.35" paint-order="stroke">TTTTTT</text>
<text x="17.20" y="702.30" font-size="8.4" fill="#000" stroke="#000" stroke-width="0.28">3<tspan font-size="10.5" dx="0.7" dy="2.7">´</tspan></text>
<text x="243.00" y="702.30" font-size="8.4" fill="#000" stroke="#000" stroke-width="0.28">5<tspan font-size="10.5" dx="0.7" dy="2.7">´</tspan></text>
<g><g clip-path="url(#c23)"><rect x="26.20" y="715.40" width="31.60" height="8.80" fill="url(#g_navy)"/><rect x="57.80" y="715.40" width="21.80" height="8.80" fill="url(#g_dgrey)"/><rect x="79.60" y="715.40" width="93.70" height="8.80" fill="url(#g_grey)"/><rect x="173.30" y="715.40" width="36.70" height="8.80" fill="url(#g_pinkA)"/><rect x="210.00" y="715.40" width="30.00" height="8.80" fill="url(#g_navy)"/><path d="M26.20 715.70 H57.80 M26.20 723.90 H57.80" stroke="#31325d" stroke-width="0.9" stroke-opacity="0.75" fill="none"/><path d="M57.80 715.70 H79.60 M57.80 723.90 H79.60" stroke="#444548" stroke-width="0.9" stroke-opacity="0.75" fill="none"/><path d="M173.30 715.70 H210.00 M173.30 723.90 H210.00" stroke="#955a55" stroke-width="0.9" stroke-opacity="0.75" fill="none"/><path d="M210.00 715.70 H240.00 M210.00 723.90 H240.00" stroke="#31325d" stroke-width="0.9" stroke-opacity="0.75" fill="none"/><line x1="57.80" y1="715.40" x2="57.80" y2="724.20" stroke="#000" stroke-opacity="0.18" stroke-width="0.6"/><line x1="79.60" y1="715.40" x2="79.60" y2="724.20" stroke="#000" stroke-opacity="0.18" stroke-width="0.6"/><line x1="173.30" y1="715.40" x2="173.30" y2="724.20" stroke="#000" stroke-opacity="0.18" stroke-width="0.6"/><line x1="210.00" y1="715.40" x2="210.00" y2="724.20" stroke="#000" stroke-opacity="0.18" stroke-width="0.6"/></g><ellipse cx="27.90" cy="719.80" rx="1.50" ry="4.00" fill="#fff" fill-opacity="0.14" stroke="#000" stroke-opacity="0.32" stroke-width="0.6"/><rect x="26.20" y="715.40" width="213.80" height="8.80" rx="2.00" ry="3.20" fill="none" stroke="#000" stroke-opacity="0.27" stroke-width="0.7"/></g>
<text x="61.50 68.50 75.50" y="722.90" font-size="8.6" font-weight="bold" fill="#fff" text-anchor="middle" stroke="#000" stroke-opacity="0.3" stroke-width="0.35" paint-order="stroke">GGG</text>
<text x="177.33 183.00 188.67 194.33 200.00 205.67" y="722.90" font-size="8.6" font-weight="bold" fill="#fff" text-anchor="middle" stroke="#000" stroke-opacity="0.3" stroke-width="0.35" paint-order="stroke">AAAAAA</text>
<text x="17.20" y="723.00" font-size="8.4" fill="#000" stroke="#000" stroke-width="0.28">5<tspan font-size="10.5" dx="0.7" dy="2.7">´</tspan></text>
<text x="243.00" y="723.00" font-size="8.4" fill="#000" stroke="#000" stroke-width="0.28">3<tspan font-size="10.5" dx="0.7" dy="2.7">´</tspan></text>
<g><g clip-path="url(#c24)"><rect x="26.20" y="726.30" width="31.60" height="8.80" fill="url(#g_navy)"/><rect x="57.80" y="726.30" width="21.80" height="8.80" fill="url(#g_dgrey)"/><rect x="79.60" y="726.30" width="93.70" height="8.80" fill="url(#g_grey)"/><rect x="173.30" y="726.30" width="36.70" height="8.80" fill="url(#g_pinkT)"/><rect x="210.00" y="726.30" width="30.00" height="8.80" fill="url(#g_navy)"/><path d="M26.20 726.60 H57.80 M26.20 734.80 H57.80" stroke="#31325d" stroke-width="0.9" stroke-opacity="0.75" fill="none"/><path d="M57.80 726.60 H79.60 M57.80 734.80 H79.60" stroke="#444548" stroke-width="0.9" stroke-opacity="0.75" fill="none"/><path d="M173.30 726.60 H210.00 M173.30 734.80 H210.00" stroke="#8d4944" stroke-width="0.9" stroke-opacity="0.75" fill="none"/><path d="M210.00 726.60 H240.00 M210.00 734.80 H240.00" stroke="#31325d" stroke-width="0.9" stroke-opacity="0.75" fill="none"/><line x1="57.80" y1="726.30" x2="57.80" y2="735.10" stroke="#000" stroke-opacity="0.18" stroke-width="0.6"/><line x1="79.60" y1="726.30" x2="79.60" y2="735.10" stroke="#000" stroke-opacity="0.18" stroke-width="0.6"/><line x1="173.30" y1="726.30" x2="173.30" y2="735.10" stroke="#000" stroke-opacity="0.18" stroke-width="0.6"/><line x1="210.00" y1="726.30" x2="210.00" y2="735.10" stroke="#000" stroke-opacity="0.18" stroke-width="0.6"/></g><ellipse cx="27.90" cy="730.70" rx="1.50" ry="4.00" fill="#fff" fill-opacity="0.14" stroke="#000" stroke-opacity="0.32" stroke-width="0.6"/><rect x="26.20" y="726.30" width="213.80" height="8.80" rx="2.00" ry="3.20" fill="none" stroke="#000" stroke-opacity="0.27" stroke-width="0.7"/></g>
<text x="61.50 68.50 75.50" y="733.80" font-size="8.6" font-weight="bold" fill="#fff" text-anchor="middle" stroke="#000" stroke-opacity="0.3" stroke-width="0.35" paint-order="stroke">CCC</text>
<text x="177.33 183.00 188.67 194.33 200.00 205.67" y="733.80" font-size="8.6" font-weight="bold" fill="#fff" text-anchor="middle" stroke="#000" stroke-opacity="0.3" stroke-width="0.35" paint-order="stroke">TTTTTT</text>
<text x="17.20" y="734.00" font-size="8.4" fill="#000" stroke="#000" stroke-width="0.28">3<tspan font-size="10.5" dx="0.7" dy="2.7">´</tspan></text>
<text x="243.00" y="734.00" font-size="8.4" fill="#000" stroke="#000" stroke-width="0.28">5<tspan font-size="10.5" dx="0.7" dy="2.7">´</tspan></text>
<text x="163.00" y="747.00" font-size="9.5" fill="#000" stroke="#000" stroke-width="0.25">Final cDNA library</text>
<path d="M258 709 H271.5 V42.1 H282" fill="none" stroke="#6d6e71" stroke-width="1.15"/>
<line x1="278.00" y1="42.10" x2="281.84" y2="42.10" stroke="#6d6e71" stroke-width="1.15"/>
<polygon points="286.60,42.10 279.80,45.40 281.43,42.10 279.80,38.80" fill="#6d6e71"/>
<text x="463.40" y="21.90" font-size="10.0" fill="#6d6e71" font-weight="bold" textLength="156.2" lengthAdjust="spacingAndGlyphs" stroke="#6d6e71" stroke-width="0.12">DNA LIBRARY PREPARATION</text>
<rect x="291.50" y="31.50" width="500.00" height="58.00" fill="#fff" stroke="#8f9194" stroke-width="1"/>
<text x="298.70" y="45.50" font-size="10.0" fill="#6d6e71" font-weight="bold" textLength="324.3" lengthAdjust="spacingAndGlyphs" stroke="#6d6e71" stroke-width="0.12">Fragmentation, End Repair, 5´ Phosphorylation and dA-Tailing</text>
<g><g clip-path="url(#c25)"><rect x="394.00" y="58.70" width="50.00" height="8.70" fill="url(#g_fgrey)"/><rect x="444.00" y="58.70" width="8.00" height="8.70" fill="url(#g_blue)"/><path d="M444.00 59.00 H452.00 M444.00 67.10 H452.00" stroke="#0e6583" stroke-width="0.9" stroke-opacity="0.75" fill="none"/><line x1="444.00" y1="58.70" x2="444.00" y2="67.40" stroke="#000" stroke-opacity="0.18" stroke-width="0.6"/></g><ellipse cx="395.70" cy="63.05" rx="1.50" ry="3.95" fill="#fff" fill-opacity="0.14" stroke="#000" stroke-opacity="0.32" stroke-width="0.6"/><rect x="394.00" y="58.70" width="58.00" height="8.70" rx="2.00" ry="3.20" fill="none" stroke="#000" stroke-opacity="0.27" stroke-width="0.7"/></g>
<text x="447.90" y="65.90" font-size="8" font-weight="bold" fill="#0b4f74" text-anchor="middle">A</text>
<g><g clip-path="url(#c26)"><rect x="387.50" y="69.30" width="8.50" height="8.70" fill="url(#g_blue)"/><rect x="396.00" y="69.30" width="8.00" height="8.70" fill="url(#g_folive)"/><rect x="404.00" y="69.30" width="41.50" height="8.70" fill="url(#g_fgrey)"/><path d="M387.50 69.60 H396.00 M387.50 77.70 H396.00" stroke="#0e6583" stroke-width="0.9" stroke-opacity="0.75" fill="none"/><path d="M396.00 69.60 H404.00 M396.00 77.70 H404.00" stroke="#666f3b" stroke-width="0.9" stroke-opacity="0.75" fill="none"/><line x1="396.00" y1="69.30" x2="396.00" y2="78.00" stroke="#000" stroke-opacity="0.18" stroke-width="0.6"/><line x1="404.00" y1="69.30" x2="404.00" y2="78.00" stroke="#000" stroke-opacity="0.18" stroke-width="0.6"/></g><ellipse cx="389.20" cy="73.65" rx="1.50" ry="3.95" fill="#fff" fill-opacity="0.14" stroke="#000" stroke-opacity="0.32" stroke-width="0.6"/><rect x="387.50" y="69.30" width="58.00" height="8.70" rx="2.00" ry="3.20" fill="none" stroke="#000" stroke-opacity="0.27" stroke-width="0.7"/></g>
<text x="392.20" y="76.50" font-size="8" font-weight="bold" fill="#0b4f74" text-anchor="middle">A</text>
<text x="391.00" y="66.20" font-size="8.4" fill="#000" stroke="#000" stroke-width="0.28" text-anchor="end">5<tspan font-size="10.5" dx="0.7" dy="2.7">´</tspan></text>
<text x="456.00" y="66.20" font-size="8.4" fill="#000" stroke="#000" stroke-width="0.28">3<tspan font-size="10.5" dx="0.7" dy="2.7">´</tspan></text>
<text x="384.50" y="76.80" font-size="8.4" fill="#000" stroke="#000" stroke-width="0.28" text-anchor="end">3<tspan font-size="10.5" dx="0.7" dy="2.7">´</tspan></text>
<text x="449.50" y="76.80" font-size="8.4" fill="#000" stroke="#000" stroke-width="0.28">5<tspan font-size="10.5" dx="0.7" dy="2.7">´</tspan></text>
<g><g clip-path="url(#c27)"><rect x="511.00" y="58.70" width="69.00" height="8.70" fill="url(#g_fgrey)"/><rect x="580.00" y="58.70" width="12.00" height="8.70" fill="url(#g_folive)"/><rect x="592.00" y="58.70" width="8.00" height="8.70" fill="url(#g_blue)"/><path d="M580.00 59.00 H592.00 M580.00 67.10 H592.00" stroke="#666f3b" stroke-width="0.9" stroke-opacity="0.75" fill="none"/><path d="M592.00 59.00 H600.00 M592.00 67.10 H600.00" stroke="#0e6583" stroke-width="0.9" stroke-opacity="0.75" fill="none"/><line x1="580.00" y1="58.70" x2="580.00" y2="67.40" stroke="#000" stroke-opacity="0.18" stroke-width="0.6"/><line x1="592.00" y1="58.70" x2="592.00" y2="67.40" stroke="#000" stroke-opacity="0.18" stroke-width="0.6"/></g><ellipse cx="512.70" cy="63.05" rx="1.50" ry="3.95" fill="#fff" fill-opacity="0.14" stroke="#000" stroke-opacity="0.32" stroke-width="0.6"/><rect x="511.00" y="58.70" width="89.00" height="8.70" rx="2.00" ry="3.20" fill="none" stroke="#000" stroke-opacity="0.27" stroke-width="0.7"/></g>
<text x="595.90" y="65.90" font-size="8" font-weight="bold" fill="#0b4f74" text-anchor="middle">A</text>
<g><g clip-path="url(#c28)"><rect x="505.00" y="69.30" width="8.50" height="8.70" fill="url(#g_blue)"/><rect x="513.50" y="69.30" width="14.50" height="8.70" fill="url(#g_folive)"/><rect x="528.00" y="69.30" width="65.00" height="8.70" fill="url(#g_fgrey)"/><path d="M505.00 69.60 H513.50 M505.00 77.70 H513.50" stroke="#0e6583" stroke-width="0.9" stroke-opacity="0.75" fill="none"/><path d="M513.50 69.60 H528.00 M513.50 77.70 H528.00" stroke="#666f3b" stroke-width="0.9" stroke-opacity="0.75" fill="none"/><line x1="513.50" y1="69.30" x2="513.50" y2="78.00" stroke="#000" stroke-opacity="0.18" stroke-width="0.6"/><line x1="528.00" y1="69.30" x2="528.00" y2="78.00" stroke="#000" stroke-opacity="0.18" stroke-width="0.6"/></g><ellipse cx="506.70" cy="73.65" rx="1.50" ry="3.95" fill="#fff" fill-opacity="0.14" stroke="#000" stroke-opacity="0.32" stroke-width="0.6"/><rect x="505.00" y="69.30" width="88.00" height="8.70" rx="2.00" ry="3.20" fill="none" stroke="#000" stroke-opacity="0.27" stroke-width="0.7"/></g>
<text x="509.70" y="76.50" font-size="8" font-weight="bold" fill="#0b4f74" text-anchor="middle">A</text>
<text x="508.00" y="66.20" font-size="8.4" fill="#000" stroke="#000" stroke-width="0.28" text-anchor="end">5<tspan font-size="10.5" dx="0.7" dy="2.7">´</tspan></text>
<text x="604.00" y="66.20" font-size="8.4" fill="#000" stroke="#000" stroke-width="0.28">3<tspan font-size="10.5" dx="0.7" dy="2.7">´</tspan></text>
<text x="502.00" y="76.80" font-size="8.4" fill="#000" stroke="#000" stroke-width="0.28" text-anchor="end">3<tspan font-size="10.5" dx="0.7" dy="2.7">´</tspan></text>
<text x="597.00" y="76.80" font-size="8.4" fill="#000" stroke="#000" stroke-width="0.28">5<tspan font-size="10.5" dx="0.7" dy="2.7">´</tspan></text>
<g><g clip-path="url(#c29)"><rect x="648.00" y="58.70" width="48.00" height="8.70" fill="url(#g_fgrey)"/><rect x="696.00" y="58.70" width="8.00" height="8.70" fill="url(#g_blue)"/><path d="M696.00 59.00 H704.00 M696.00 67.10 H704.00" stroke="#0e6583" stroke-width="0.9" stroke-opacity="0.75" fill="none"/><line x1="696.00" y1="58.70" x2="696.00" y2="67.40" stroke="#000" stroke-opacity="0.18" stroke-width="0.6"/></g><ellipse cx="649.70" cy="63.05" rx="1.50" ry="3.95" fill="#fff" fill-opacity="0.14" stroke="#000" stroke-opacity="0.32" stroke-width="0.6"/><rect x="648.00" y="58.70" width="56.00" height="8.70" rx="2.00" ry="3.20" fill="none" stroke="#000" stroke-opacity="0.27" stroke-width="0.7"/></g>
<text x="699.90" y="65.90" font-size="8" font-weight="bold" fill="#0b4f74" text-anchor="middle">A</text>
<g><g clip-path="url(#c30)"><rect x="641.40" y="69.30" width="8.50" height="8.70" fill="url(#g_blue)"/><rect x="649.90" y="69.30" width="13.10" height="8.70" fill="url(#g_folive)"/><rect x="663.00" y="69.30" width="34.00" height="8.70" fill="url(#g_fgrey)"/><path d="M641.40 69.60 H649.90 M641.40 77.70 H649.90" stroke="#0e6583" stroke-width="0.9" stroke-opacity="0.75" fill="none"/><path d="M649.90 69.60 H663.00 M649.90 77.70 H663.00" stroke="#666f3b" stroke-width="0.9" stroke-opacity="0.75" fill="none"/><line x1="649.90" y1="69.30" x2="649.90" y2="78.00" stroke="#000" stroke-opacity="0.18" stroke-width="0.6"/><line x1="663.00" y1="69.30" x2="663.00" y2="78.00" stroke="#000" stroke-opacity="0.18" stroke-width="0.6"/></g><ellipse cx="643.10" cy="73.65" rx="1.50" ry="3.95" fill="#fff" fill-opacity="0.14" stroke="#000" stroke-opacity="0.32" stroke-width="0.6"/><rect x="641.40" y="69.30" width="55.60" height="8.70" rx="2.00" ry="3.20" fill="none" stroke="#000" stroke-opacity="0.27" stroke-width="0.7"/></g>
<text x="646.10" y="76.50" font-size="8" font-weight="bold" fill="#0b4f74" text-anchor="middle">A</text>
<text x="645.00" y="66.20" font-size="8.4" fill="#000" stroke="#000" stroke-width="0.28" text-anchor="end">5<tspan font-size="10.5" dx="0.7" dy="2.7">´</tspan></text>
<text x="708.00" y="66.20" font-size="8.4" fill="#000" stroke="#000" stroke-width="0.28">3<tspan font-size="10.5" dx="0.7" dy="2.7">´</tspan></text>
<text x="638.40" y="76.80" font-size="8.4" fill="#000" stroke="#000" stroke-width="0.28" text-anchor="end">3<tspan font-size="10.5" dx="0.7" dy="2.7">´</tspan></text>
<text x="701.00" y="76.80" font-size="8.4" fill="#000" stroke="#000" stroke-width="0.28">5<tspan font-size="10.5" dx="0.7" dy="2.7">´</tspan></text>
<line x1="541.50" y1="90.00" x2="541.50" y2="100.66" stroke="#6d6e71" stroke-width="1.15"/>
<polygon points="541.50,105.70 538.00,98.50 541.50,100.23 545.00,98.50" fill="#6d6e71"/>
<rect x="291.50" y="109.50" width="500.00" height="71.00" fill="#fff" stroke="#8f9194" stroke-width="1"/>
<text x="298.70" y="123.00" font-size="10.0" fill="#6d6e71" font-weight="bold" textLength="253.8" lengthAdjust="spacingAndGlyphs" stroke="#6d6e71" stroke-width="0.12">Adaptor Ligation with optional NEBNext Adaptor</text>
<g fill="none" stroke-linecap="butt" stroke-linejoin="round"><path d="M483.50 158.55 L468.02 158.55 A14.50 14.50 0 0 1 440.00 153.30" stroke="#c8973a" stroke-width="9.40"/><path d="M483.50 158.55 L473.50 158.55 Q469.30 158.55 464.57 163.73 A14.50 14.50 0 0 1 440.00 153.30" stroke="#c8973a" stroke-width="9.40"/><path d="M483.50 158.55 L468.02 158.55 A14.50 14.50 0 0 1 440.00 153.30" stroke="#ebba5c" stroke-width="8.10"/><path d="M483.50 158.55 L473.50 158.55 Q469.30 158.55 464.57 163.73 A14.50 14.50 0 0 1 440.00 153.30" stroke="#ebba5c" stroke-width="8.10"/><path d="M483.50 158.55 L468.02 158.55 A14.50 14.50 0 0 1 440.00 153.30" stroke="#f9e2ab" stroke-width="3.38" stroke-opacity="0.8"/><path d="M483.50 158.55 L468.02 158.55 A14.50 14.50 0 0 1 440.00 153.30" stroke="#fff" stroke-width="1.22" stroke-opacity="0.55"/></g>
<g fill="none" stroke-linecap="butt" stroke-linejoin="round"><path d="M490.50 148.05 L468.02 148.05 A14.50 14.50 0 0 0 440.00 153.30" stroke="#2c6e5c" stroke-width="9.40"/><path d="M490.50 148.05 L473.50 148.05 Q469.30 148.05 464.57 142.87 A14.50 14.50 0 0 0 440.00 153.30" stroke="#2c6e5c" stroke-width="9.40"/><path d="M490.50 148.05 L468.02 148.05 A14.50 14.50 0 0 0 440.00 153.30" stroke="#3f8f79" stroke-width="8.10"/><path d="M490.50 148.05 L473.50 148.05 Q469.30 148.05 464.57 142.87 A14.50 14.50 0 0 0 440.00 153.30" stroke="#3f8f79" stroke-width="8.10"/><path d="M490.50 148.05 L468.02 148.05 A14.50 14.50 0 0 0 440.00 153.30" stroke="#b9ddd1" stroke-width="3.38" stroke-opacity="0.8"/><path d="M490.50 148.05 L468.02 148.05 A14.50 14.50 0 0 0 440.00 153.30" stroke="#fff" stroke-width="1.22" stroke-opacity="0.55"/></g>
<g fill="none"><path d="M440.79 148.58 A14.50 14.50 0 0 0 440.79 158.02" stroke="#33357a" stroke-width="9.6"/><path d="M440.79 148.58 A14.50 14.50 0 0 0 440.79 158.02" stroke="#55579a" stroke-width="8.3"/></g>
<text x="440.20" y="156.00" font-size="7.4" font-weight="bold" fill="#fff" text-anchor="middle">U</text>
<g><g clip-path="url(#c31)"><rect x="483.00" y="154.10" width="8.00" height="8.80" fill="url(#g_blue)"/><path d="M483.00 154.40 H491.00 M483.00 162.60 H491.00" stroke="#0e6583" stroke-width="0.9" stroke-opacity="0.75" fill="none"/></g><rect x="483.00" y="154.10" width="8.00" height="8.80" rx="0.80" ry="1.28" fill="none" stroke="#000" stroke-opacity="0.27" stroke-width="0.7"/></g>
<text x="487.00" y="161.00" font-size="8" font-weight="bold" fill="#0b4f74" text-anchor="middle">A</text>
<text x="485.8" y="151" font-size="8" font-weight="bold" fill="#174a3c" text-anchor="middle">T</text>
<g transform="rotate(180 638.20 153.30)" fill="none" stroke-linecap="butt" stroke-linejoin="round"><path d="M666.70 158.55 L651.72 158.55 A14.50 14.50 0 0 1 623.70 153.30" stroke="#c8973a" stroke-width="9.40"/><path d="M666.70 158.55 L657.20 158.55 Q653.00 158.55 648.27 163.73 A14.50 14.50 0 0 1 623.70 153.30" stroke="#c8973a" stroke-width="9.40"/><path d="M666.70 158.55 L651.72 158.55 A14.50 14.50 0 0 1 623.70 153.30" stroke="#ebba5c" stroke-width="8.10"/><path d="M666.70 158.55 L657.20 158.55 Q653.00 158.55 648.27 163.73 A14.50 14.50 0 0 1 623.70 153.30" stroke="#ebba5c" stroke-width="8.10"/><path d="M666.70 158.55 L651.72 158.55 A14.50 14.50 0 0 1 623.70 153.30" stroke="#f9e2ab" stroke-width="3.38" stroke-opacity="0.8"/><path d="M666.70 158.55 L651.72 158.55 A14.50 14.50 0 0 1 623.70 153.30" stroke="#fff" stroke-width="1.22" stroke-opacity="0.55"/></g>
<g transform="rotate(180 638.20 153.30)" fill="none" stroke-linecap="butt" stroke-linejoin="round"><path d="M674.20 148.05 L651.72 148.05 A14.50 14.50 0 0 0 623.70 153.30" stroke="#2c6e5c" stroke-width="9.40"/><path d="M674.20 148.05 L657.20 148.05 Q653.00 148.05 648.27 142.87 A14.50 14.50 0 0 0 623.70 153.30" stroke="#2c6e5c" stroke-width="9.40"/><path d="M674.20 148.05 L651.72 148.05 A14.50 14.50 0 0 0 623.70 153.30" stroke="#3f8f79" stroke-width="8.10"/><path d="M674.20 148.05 L657.20 148.05 Q653.00 148.05 648.27 142.87 A14.50 14.50 0 0 0 623.70 153.30" stroke="#3f8f79" stroke-width="8.10"/><path d="M674.20 148.05 L651.72 148.05 A14.50 14.50 0 0 0 623.70 153.30" stroke="#b9ddd1" stroke-width="3.38" stroke-opacity="0.8"/><path d="M674.20 148.05 L651.72 148.05 A14.50 14.50 0 0 0 623.70 153.30" stroke="#fff" stroke-width="1.22" stroke-opacity="0.55"/></g>
<g transform="rotate(180 638.20 153.30)" fill="none"><path d="M624.49 148.58 A14.50 14.50 0 0 0 624.49 158.02" stroke="#33357a" stroke-width="9.6"/><path d="M624.49 148.58 A14.50 14.50 0 0 0 624.49 158.02" stroke="#55579a" stroke-width="8.3"/></g>
<text x="652.50" y="156.00" font-size="7.4" font-weight="bold" fill="#fff" text-anchor="middle">U</text>
<g><g clip-path="url(#c32)"><rect x="602.30" y="143.70" width="8.50" height="8.80" fill="url(#g_blue)"/><path d="M602.30 144.00 H610.80 M602.30 152.20 H610.80" stroke="#0e6583" stroke-width="0.9" stroke-opacity="0.75" fill="none"/></g><rect x="602.30" y="143.70" width="8.50" height="8.80" rx="0.80" ry="1.28" fill="none" stroke="#000" stroke-opacity="0.27" stroke-width="0.7"/></g>
<text x="606.60" y="150.60" font-size="8" font-weight="bold" fill="#0b4f74" text-anchor="middle">A</text>
<text x="606.3" y="161.6" font-size="8" font-weight="bold" fill="#174a3c" text-anchor="middle">T</text>
<g><g clip-path="url(#c33)"><rect x="490.30" y="143.70" width="112.30" height="8.80" fill="url(#g_grey)"/></g><rect x="490.30" y="143.70" width="112.30" height="8.80" rx="0.80" ry="1.28" fill="none" stroke="#000" stroke-opacity="0.27" stroke-width="0.7"/></g>
<g><g clip-path="url(#c34)"><rect x="490.80" y="154.10" width="111.50" height="8.80" fill="url(#g_grey)"/></g><rect x="490.80" y="154.10" width="111.50" height="8.80" rx="0.80" ry="1.28" fill="none" stroke="#000" stroke-opacity="0.27" stroke-width="0.7"/></g>
<text x="470.00" y="139.80" font-size="8.4" fill="#000" stroke="#000" stroke-width="0.28">5<tspan font-size="10.5" dx="0.7" dy="2.7">´</tspan></text>
<text x="470.00" y="172.20" font-size="8.4" fill="#000" stroke="#000" stroke-width="0.28">3<tspan font-size="10.5" dx="0.7" dy="2.7">´</tspan></text>
<text x="614.60" y="139.50" font-size="8.4" fill="#000" stroke="#000" stroke-width="0.28">3<tspan font-size="10.5" dx="0.7" dy="2.7">´</tspan></text>
<text x="614.60" y="171.80" font-size="8.4" fill="#000" stroke="#000" stroke-width="0.28">5<tspan font-size="10.5" dx="0.7" dy="2.7">´</tspan></text>
<g fill="none" stroke-linecap="round" stroke-linejoin="round"><path d="M741.50 143.65 L727.32 143.65 A14.50 14.50 0 0 1 699.30 138.40" stroke="#c8973a" stroke-width="9.40"/><path d="M741.50 143.65 L732.80 143.65 Q728.60 143.65 723.87 148.83 A14.50 14.50 0 0 1 699.30 138.40" stroke="#c8973a" stroke-width="9.40"/><path d="M741.50 143.65 L727.32 143.65 A14.50 14.50 0 0 1 699.30 138.40" stroke="#ebba5c" stroke-width="8.10"/><path d="M741.50 143.65 L732.80 143.65 Q728.60 143.65 723.87 148.83 A14.50 14.50 0 0 1 699.30 138.40" stroke="#ebba5c" stroke-width="8.10"/><path d="M741.50 143.65 L727.32 143.65 A14.50 14.50 0 0 1 699.30 138.40" stroke="#f9e2ab" stroke-width="3.38" stroke-opacity="0.8"/><path d="M741.50 143.65 L727.32 143.65 A14.50 14.50 0 0 1 699.30 138.40" stroke="#fff" stroke-width="1.22" stroke-opacity="0.55"/></g>
<g fill="none" stroke-linecap="butt" stroke-linejoin="round"><path d="M749.80 133.15 L727.32 133.15 A14.50 14.50 0 0 0 699.30 138.40" stroke="#2c6e5c" stroke-width="9.40"/><path d="M749.80 133.15 L732.80 133.15 Q728.60 133.15 723.87 127.97 A14.50 14.50 0 0 0 699.30 138.40" stroke="#2c6e5c" stroke-width="9.40"/><path d="M749.80 133.15 L727.32 133.15 A14.50 14.50 0 0 0 699.30 138.40" stroke="#3f8f79" stroke-width="8.10"/><path d="M749.80 133.15 L732.80 133.15 Q728.60 133.15 723.87 127.97 A14.50 14.50 0 0 0 699.30 138.40" stroke="#3f8f79" stroke-width="8.10"/><path d="M749.80 133.15 L727.32 133.15 A14.50 14.50 0 0 0 699.30 138.40" stroke="#b9ddd1" stroke-width="3.38" stroke-opacity="0.8"/><path d="M749.80 133.15 L727.32 133.15 A14.50 14.50 0 0 0 699.30 138.40" stroke="#fff" stroke-width="1.22" stroke-opacity="0.55"/></g>
<g fill="none"><path d="M700.09 133.68 A14.50 14.50 0 0 0 700.09 143.12" stroke="#33357a" stroke-width="9.6"/><path d="M700.09 133.68 A14.50 14.50 0 0 0 700.09 143.12" stroke="#55579a" stroke-width="8.3"/></g>
<text x="699.50" y="141.10" font-size="7.4" font-weight="bold" fill="#fff" text-anchor="middle">U</text>
<text x="746.6" y="135.6" font-size="8" font-weight="bold" fill="#174a3c" text-anchor="middle">T</text>
<text x="733.20" y="161.80" font-size="9.4" fill="#000" stroke="#000" stroke-width="0.25">NEBNext</text>
<text x="733.20" y="173.80" font-size="9.4" fill="#000" stroke="#000" stroke-width="0.25">Adaptor</text>
<line x1="541.50" y1="181.00" x2="541.50" y2="191.66" stroke="#6d6e71" stroke-width="1.15"/>
<polygon points="541.50,196.70 538.00,189.50 541.50,191.23 545.00,189.50" fill="#6d6e71"/>
<rect x="291.50" y="200.50" width="500.00" height="66.00" fill="#fff" stroke="#8f9194" stroke-width="1"/>
<text x="299.00" y="214.60" font-size="10.0" fill="#6d6e71" font-weight="bold" textLength="56.2" lengthAdjust="spacingAndGlyphs" stroke="#6d6e71" stroke-width="0.12">U Excision</text>
<g transform="rotate(14.17 450.50 217.85)"><g clip-path="url(#c35)"><rect x="450.50" y="213.55" width="42.08" height="8.60" fill="url(#g_green)"/><path d="M450.50 213.85 H492.58 M450.50 221.85 H492.58" stroke="#22594a" stroke-width="0.9" stroke-opacity="0.75" fill="none"/></g><ellipse cx="452.20" cy="217.85" rx="1.50" ry="3.90" fill="#fff" fill-opacity="0.14" stroke="#000" stroke-opacity="0.32" stroke-width="0.6"/><rect x="450.50" y="213.55" width="42.08" height="8.60" rx="1.60" ry="2.56" fill="none" stroke="#000" stroke-opacity="0.27" stroke-width="0.7"/></g>
<g transform="rotate(-14.17 450.50 248.85)"><g clip-path="url(#c36)"><rect x="450.50" y="244.55" width="42.08" height="8.60" fill="url(#g_yarm)"/><path d="M450.50 244.85 H492.58 M450.50 252.85 H492.58" stroke="#a47d34" stroke-width="0.9" stroke-opacity="0.75" fill="none"/></g><ellipse cx="452.20" cy="248.85" rx="1.50" ry="3.90" fill="#fff" fill-opacity="0.14" stroke="#000" stroke-opacity="0.32" stroke-width="0.6"/><rect x="450.50" y="244.55" width="42.08" height="8.60" rx="1.60" ry="2.56" fill="none" stroke="#000" stroke-opacity="0.27" stroke-width="0.7"/></g>
<g transform="rotate(-14.58 599.20 228.15)"><g clip-path="url(#c37)"><rect x="599.20" y="223.85" width="40.92" height="8.60" fill="url(#g_yarm)"/><path d="M599.20 224.15 H640.12 M599.20 232.15 H640.12" stroke="#a47d34" stroke-width="0.9" stroke-opacity="0.75" fill="none"/></g><rect x="599.20" y="223.85" width="40.92" height="8.60" rx="1.60" ry="2.56" fill="none" stroke="#000" stroke-opacity="0.27" stroke-width="0.7"/></g>
<g transform="rotate(14.58 599.20 238.55)"><g clip-path="url(#c38)"><rect x="599.20" y="234.25" width="40.92" height="8.60" fill="url(#g_green)"/><path d="M599.20 234.55 H640.12 M599.20 242.55 H640.12" stroke="#22594a" stroke-width="0.9" stroke-opacity="0.75" fill="none"/></g><rect x="599.20" y="234.25" width="40.92" height="8.60" rx="1.60" ry="2.56" fill="none" stroke="#000" stroke-opacity="0.27" stroke-width="0.7"/></g>
<g><g clip-path="url(#c39)"><rect x="490.30" y="223.80" width="109.90" height="8.70" fill="url(#g_grey)"/></g><rect x="490.30" y="223.80" width="109.90" height="8.70" rx="0.80" ry="1.28" fill="none" stroke="#000" stroke-opacity="0.27" stroke-width="0.7"/></g>
<g><g clip-path="url(#c40)"><rect x="490.30" y="234.20" width="109.90" height="8.70" fill="url(#g_grey)"/></g><rect x="490.30" y="234.20" width="109.90" height="8.70" rx="0.80" ry="1.28" fill="none" stroke="#000" stroke-opacity="0.27" stroke-width="0.7"/></g>
<circle cx="425.1" cy="243.2" r="6.2" fill="url(#userg)" stroke="#4e343d" stroke-width="0.5"/>
<text x="413.60" y="258.80" font-size="8.8" fill="#000" stroke="#000" stroke-width="0.25">USER</text>
<path d="M431 236.5 C434.5 230, 432.5 221.5, 425.2 217.2" fill="none" stroke="#6d6e71" stroke-width="0.9"/>
<line x1="426.50" y1="218.00" x2="425.95" y2="217.61" stroke="#6d6e71" stroke-width="0.1"/>
<polygon points="422.80,215.40 428.62,216.68 426.22,217.80 425.98,220.44" fill="#6d6e71"/>
<text x="440.00" y="219.00" font-size="8.4" fill="#000" stroke="#000" stroke-width="0.28">5<tspan font-size="10.5" dx="0.7" dy="2.7">´</tspan></text>
<text x="440.00" y="251.60" font-size="8.4" fill="#000" stroke="#000" stroke-width="0.28">3<tspan font-size="10.5" dx="0.7" dy="2.7">´</tspan></text>
<text x="641.50" y="219.50" font-size="8.4" fill="#000" stroke="#000" stroke-width="0.28">3<tspan font-size="10.5" dx="0.7" dy="2.7">´</tspan></text>
<text x="641.50" y="252.00" font-size="8.4" fill="#000" stroke="#000" stroke-width="0.28">5<tspan font-size="10.5" dx="0.7" dy="2.7">´</tspan></text>
<line x1="541.50" y1="267.00" x2="541.50" y2="278.36" stroke="#6d6e71" stroke-width="1.15"/>
<polygon points="541.50,283.40 538.00,276.20 541.50,277.93 545.00,276.20" fill="#6d6e71"/>
<rect x="291.50" y="286.50" width="500.00" height="19.00" fill="#fff" stroke="#8f9194" stroke-width="1"/>
<text x="298.50" y="299.60" font-size="10.0" fill="#6d6e71" font-weight="bold" textLength="124.7" lengthAdjust="spacingAndGlyphs" stroke="#6d6e71" stroke-width="0.12">Clean Up/Size Selection</text>
<line x1="541.50" y1="306.00" x2="541.50" y2="318.46" stroke="#6d6e71" stroke-width="1.15"/>
<polygon points="541.50,323.50 538.00,316.30 541.50,318.03 545.00,316.30" fill="#6d6e71"/>
<rect x="291.50" y="327.50" width="500.00" height="536.00" fill="#fff" stroke="#8f9194" stroke-width="1"/>
<text x="299.50" y="343.20" font-size="10.0" fill="#6d6e71" font-weight="bold" textLength="86.8" lengthAdjust="spacingAndGlyphs" stroke="#6d6e71" stroke-width="0.12">PCR Enrichment</text>
<g transform="rotate(-14.86 431.50 415.20)"><g clip-path="url(#c41)"><rect x="431.50" y="410.75" width="14.00" height="8.90" fill="url(#g_p7)"/><rect x="445.50" y="410.75" width="11.20" height="8.90" fill="url(#g_olive)"/><rect x="456.70" y="410.75" width="35.63" height="8.90" fill="url(#g_yarm)"/><path d="M431.50 411.05 H445.50 M431.50 419.35 H445.50" stroke="#233c5e" stroke-width="0.9" stroke-opacity="0.75" fill="none"/><path d="M445.50 411.05 H456.70 M445.50 419.35 H456.70" stroke="#515b2d" stroke-width="0.9" stroke-opacity="0.75" fill="none"/><path d="M456.70 411.05 H492.33 M456.70 419.35 H492.33" stroke="#a47d34" stroke-width="0.9" stroke-opacity="0.75" fill="none"/><line x1="445.50" y1="410.75" x2="445.50" y2="419.65" stroke="#000" stroke-opacity="0.18" stroke-width="0.6"/><line x1="456.70" y1="410.75" x2="456.70" y2="419.65" stroke="#000" stroke-opacity="0.18" stroke-width="0.6"/></g><ellipse cx="433.20" cy="415.20" rx="1.50" ry="4.05" fill="#fff" fill-opacity="0.14" stroke="#000" stroke-opacity="0.32" stroke-width="0.6"/><rect x="431.50" y="410.75" width="60.83" height="8.90" rx="1.60" ry="2.56" fill="none" stroke="#000" stroke-opacity="0.27" stroke-width="0.7"/></g>
<g transform="rotate(-14.40 593.00 365.40)"><g clip-path="url(#c42)"><rect x="593.00" y="360.95" width="37.73" height="8.90" fill="url(#g_yarm)"/><rect x="630.73" y="360.95" width="12.00" height="8.90" fill="url(#g_olive)"/><rect x="642.73" y="360.95" width="11.80" height="8.90" fill="url(#g_p7)"/><path d="M593.00 361.25 H630.73 M593.00 369.55 H630.73" stroke="#a47d34" stroke-width="0.9" stroke-opacity="0.75" fill="none"/><path d="M630.73 361.25 H642.73 M630.73 369.55 H642.73" stroke="#515b2d" stroke-width="0.9" stroke-opacity="0.75" fill="none"/><path d="M642.73 361.25 H654.53 M642.73 369.55 H654.53" stroke="#233c5e" stroke-width="0.9" stroke-opacity="0.75" fill="none"/><line x1="630.73" y1="360.95" x2="630.73" y2="369.85" stroke="#000" stroke-opacity="0.18" stroke-width="0.6"/><line x1="642.73" y1="360.95" x2="642.73" y2="369.85" stroke="#000" stroke-opacity="0.18" stroke-width="0.6"/></g><ellipse cx="594.70" cy="365.40" rx="1.50" ry="4.05" fill="#fff" fill-opacity="0.14" stroke="#000" stroke-opacity="0.32" stroke-width="0.6"/><rect x="593.00" y="360.95" width="61.53" height="8.90" rx="1.60" ry="2.56" fill="none" stroke="#000" stroke-opacity="0.27" stroke-width="0.7"/></g>
<g transform="rotate(15.00 449.70 366.25)"><g clip-path="url(#c43)"><rect x="449.70" y="361.95" width="40.17" height="8.60" fill="url(#g_green)"/><path d="M449.70 362.25 H489.87 M449.70 370.25 H489.87" stroke="#22594a" stroke-width="0.9" stroke-opacity="0.75" fill="none"/></g><ellipse cx="451.40" cy="366.25" rx="1.50" ry="3.90" fill="#fff" fill-opacity="0.14" stroke="#000" stroke-opacity="0.32" stroke-width="0.6"/><rect x="449.70" y="361.95" width="40.17" height="8.60" rx="1.60" ry="2.56" fill="none" stroke="#000" stroke-opacity="0.27" stroke-width="0.7"/></g>
<g transform="rotate(-15.00 449.70 397.75)"><g clip-path="url(#c44)"><rect x="449.70" y="393.45" width="40.17" height="8.60" fill="url(#g_yarm)"/><path d="M449.70 393.75 H489.87 M449.70 401.75 H489.87" stroke="#a47d34" stroke-width="0.9" stroke-opacity="0.75" fill="none"/></g><ellipse cx="451.40" cy="397.75" rx="1.50" ry="3.90" fill="#fff" fill-opacity="0.14" stroke="#000" stroke-opacity="0.32" stroke-width="0.6"/><rect x="449.70" y="393.45" width="40.17" height="8.60" rx="1.60" ry="2.56" fill="none" stroke="#000" stroke-opacity="0.27" stroke-width="0.7"/></g>
<g transform="rotate(-15.54 596.20 376.65)"><g clip-path="url(#c45)"><rect x="596.20" y="372.35" width="38.82" height="8.60" fill="url(#g_yarm)"/><path d="M596.20 372.65 H635.02 M596.20 380.65 H635.02" stroke="#a47d34" stroke-width="0.9" stroke-opacity="0.75" fill="none"/></g><rect x="596.20" y="372.35" width="38.82" height="8.60" rx="1.60" ry="2.56" fill="none" stroke="#000" stroke-opacity="0.27" stroke-width="0.7"/></g>
<g transform="rotate(15.54 596.20 387.35)"><g clip-path="url(#c46)"><rect x="596.20" y="383.05" width="38.82" height="8.60" fill="url(#g_green)"/><path d="M596.20 383.35 H635.02 M596.20 391.35 H635.02" stroke="#22594a" stroke-width="0.9" stroke-opacity="0.75" fill="none"/></g><rect x="596.20" y="383.05" width="38.82" height="8.60" rx="1.60" ry="2.56" fill="none" stroke="#000" stroke-opacity="0.27" stroke-width="0.7"/></g>
<g><g clip-path="url(#c47)"><rect x="487.50" y="372.30" width="109.70" height="8.70" fill="url(#g_grey)"/></g><rect x="487.50" y="372.30" width="109.70" height="8.70" rx="0.80" ry="1.28" fill="none" stroke="#000" stroke-opacity="0.27" stroke-width="0.7"/></g>
<g><g clip-path="url(#c48)"><rect x="487.50" y="383.00" width="109.70" height="8.70" fill="url(#g_grey)"/></g><rect x="487.50" y="383.00" width="109.70" height="8.70" rx="0.80" ry="1.28" fill="none" stroke="#000" stroke-opacity="0.27" stroke-width="0.7"/></g>
<text x="439.20" y="367.30" font-size="8.4" fill="#000" stroke="#000" stroke-width="0.28">5<tspan font-size="10.5" dx="0.7" dy="2.7">´</tspan></text>
<text x="439.20" y="400.60" font-size="8.4" fill="#000" stroke="#000" stroke-width="0.28">3<tspan font-size="10.5" dx="0.7" dy="2.7">´</tspan></text>
<text x="637.00" y="367.30" font-size="8.4" fill="#000" stroke="#000" stroke-width="0.28">3<tspan font-size="10.5" dx="0.7" dy="2.7">´</tspan></text>
<text x="637.00" y="400.60" font-size="8.4" fill="#000" stroke="#000" stroke-width="0.28">5<tspan font-size="10.5" dx="0.7" dy="2.7">´</tspan></text>
<text x="420.00" y="419.60" font-size="8.4" fill="#000" stroke="#000" stroke-width="0.28">5<tspan font-size="10.5" dx="0.7" dy="2.7">´</tspan></text>
<text x="655.50" y="350.80" font-size="8.4" fill="#000" stroke="#000" stroke-width="0.28">5<tspan font-size="10.5" dx="0.7" dy="2.7">´</tspan></text>
<text x="623.00" y="347.30" font-size="8.6" fill="#52621c" stroke="#52621c" stroke-width="0.28">BC</text>
<text x="637.30" y="343.50" font-size="8.8" fill="#17365f" font-weight="bold">P<tspan font-size="8.4">7</tspan></text>
<text x="436.00" y="426.80" font-size="8.8" fill="#17365f" font-weight="bold">P<tspan font-size="8.4">7</tspan></text>
<text x="451.80" y="421.50" font-size="8.5" fill="#52621c" stroke="#52621c" stroke-width="0.28">Barcode (BC)</text>
<line x1="541.50" y1="406.50" x2="541.50" y2="424.46" stroke="#6d6e71" stroke-width="1.15"/>
<polygon points="541.50,429.50 538.00,422.30 541.50,424.03 545.00,422.30" fill="#6d6e71"/>
<g><g clip-path="url(#c49)"><rect x="451.50" y="437.20" width="36.00" height="8.80" fill="url(#g_green)"/><rect x="487.50" y="437.20" width="112.70" height="8.80" fill="url(#g_grey)"/><rect x="600.20" y="437.20" width="34.30" height="8.80" fill="url(#g_yellow)"/><rect x="634.50" y="437.20" width="11.60" height="8.80" fill="url(#g_olive)"/><rect x="646.10" y="437.20" width="12.90" height="8.80" fill="url(#g_p7)"/><path d="M451.50 437.50 H487.50 M451.50 445.70 H487.50" stroke="#22594a" stroke-width="0.9" stroke-opacity="0.75" fill="none"/><path d="M600.20 437.50 H634.50 M600.20 445.70 H634.50" stroke="#a37d37" stroke-width="0.9" stroke-opacity="0.75" fill="none"/><path d="M634.50 437.50 H646.10 M634.50 445.70 H646.10" stroke="#515b2d" stroke-width="0.9" stroke-opacity="0.75" fill="none"/><path d="M646.10 437.50 H659.00 M646.10 445.70 H659.00" stroke="#233c5e" stroke-width="0.9" stroke-opacity="0.75" fill="none"/><line x1="487.50" y1="437.20" x2="487.50" y2="446.00" stroke="#000" stroke-opacity="0.18" stroke-width="0.6"/><line x1="600.20" y1="437.20" x2="600.20" y2="446.00" stroke="#000" stroke-opacity="0.18" stroke-width="0.6"/><line x1="634.50" y1="437.20" x2="634.50" y2="446.00" stroke="#000" stroke-opacity="0.18" stroke-width="0.6"/><line x1="646.10" y1="437.20" x2="646.10" y2="446.00" stroke="#000" stroke-opacity="0.18" stroke-width="0.6"/></g><ellipse cx="453.20" cy="441.60" rx="1.50" ry="4.00" fill="#fff" fill-opacity="0.14" stroke="#000" stroke-opacity="0.32" stroke-width="0.6"/><rect x="451.50" y="437.20" width="207.50" height="8.80" rx="2.00" ry="3.20" fill="none" stroke="#000" stroke-opacity="0.27" stroke-width="0.7"/></g>
<text x="439.20" y="443.80" font-size="8.4" fill="#000" stroke="#000" stroke-width="0.28">3<tspan font-size="10.5" dx="0.7" dy="2.7">´</tspan></text>
<text x="662.50" y="443.80" font-size="8.4" fill="#000" stroke="#000" stroke-width="0.28">5<tspan font-size="10.5" dx="0.7" dy="2.7">´</tspan></text>
<g><g clip-path="url(#c50)"><rect x="451.50" y="448.50" width="36.00" height="8.80" fill="url(#g_green)"/><rect x="487.50" y="448.50" width="112.70" height="8.80" fill="url(#g_grey)"/><rect x="600.20" y="448.50" width="35.40" height="8.80" fill="url(#g_yellow)"/><path d="M451.50 448.80 H487.50 M451.50 457.00 H487.50" stroke="#22594a" stroke-width="0.9" stroke-opacity="0.75" fill="none"/><path d="M600.20 448.80 H635.60 M600.20 457.00 H635.60" stroke="#a37d37" stroke-width="0.9" stroke-opacity="0.75" fill="none"/><line x1="487.50" y1="448.50" x2="487.50" y2="457.30" stroke="#000" stroke-opacity="0.18" stroke-width="0.6"/><line x1="600.20" y1="448.50" x2="600.20" y2="457.30" stroke="#000" stroke-opacity="0.18" stroke-width="0.6"/></g><ellipse cx="453.20" cy="452.90" rx="1.50" ry="4.00" fill="#fff" fill-opacity="0.14" stroke="#000" stroke-opacity="0.32" stroke-width="0.6"/><rect x="451.50" y="448.50" width="184.10" height="8.80" rx="2.00" ry="3.20" fill="none" stroke="#000" stroke-opacity="0.27" stroke-width="0.7"/></g>
<text x="439.20" y="455.30" font-size="8.4" fill="#000" stroke="#000" stroke-width="0.28">5<tspan font-size="10.5" dx="0.7" dy="2.7">´</tspan></text>
<text x="639.40" y="455.30" font-size="8.4" fill="#000" stroke="#000" stroke-width="0.28">3<tspan font-size="10.5" dx="0.7" dy="2.7">´</tspan></text>
<g><g clip-path="url(#c51)"><rect x="451.50" y="467.80" width="36.00" height="8.80" fill="url(#g_green)"/><rect x="487.50" y="467.80" width="112.70" height="8.80" fill="url(#g_grey)"/><rect x="600.20" y="467.80" width="34.30" height="8.80" fill="url(#g_yellow)"/><rect x="634.50" y="467.80" width="11.60" height="8.80" fill="url(#g_olive)"/><rect x="646.10" y="467.80" width="12.90" height="8.80" fill="url(#g_p7)"/><path d="M451.50 468.10 H487.50 M451.50 476.30 H487.50" stroke="#22594a" stroke-width="0.9" stroke-opacity="0.75" fill="none"/><path d="M600.20 468.10 H634.50 M600.20 476.30 H634.50" stroke="#a37d37" stroke-width="0.9" stroke-opacity="0.75" fill="none"/><path d="M634.50 468.10 H646.10 M634.50 476.30 H646.10" stroke="#515b2d" stroke-width="0.9" stroke-opacity="0.75" fill="none"/><path d="M646.10 468.10 H659.00 M646.10 476.30 H659.00" stroke="#233c5e" stroke-width="0.9" stroke-opacity="0.75" fill="none"/><line x1="487.50" y1="467.80" x2="487.50" y2="476.60" stroke="#000" stroke-opacity="0.18" stroke-width="0.6"/><line x1="600.20" y1="467.80" x2="600.20" y2="476.60" stroke="#000" stroke-opacity="0.18" stroke-width="0.6"/><line x1="634.50" y1="467.80" x2="634.50" y2="476.60" stroke="#000" stroke-opacity="0.18" stroke-width="0.6"/><line x1="646.10" y1="467.80" x2="646.10" y2="476.60" stroke="#000" stroke-opacity="0.18" stroke-width="0.6"/></g><ellipse cx="453.20" cy="472.20" rx="1.50" ry="4.00" fill="#fff" fill-opacity="0.14" stroke="#000" stroke-opacity="0.32" stroke-width="0.6"/><rect x="451.50" y="467.80" width="207.50" height="8.80" rx="2.00" ry="3.20" fill="none" stroke="#000" stroke-opacity="0.27" stroke-width="0.7"/></g>
<text x="439.20" y="474.40" font-size="8.4" fill="#000" stroke="#000" stroke-width="0.28">3<tspan font-size="10.5" dx="0.7" dy="2.7">´</tspan></text>
<text x="662.50" y="474.40" font-size="8.4" fill="#000" stroke="#000" stroke-width="0.28">5<tspan font-size="10.5" dx="0.7" dy="2.7">´</tspan></text>
<g><g clip-path="url(#c52)"><rect x="451.50" y="479.20" width="36.00" height="8.80" fill="url(#g_green)"/><rect x="487.50" y="479.20" width="112.70" height="8.80" fill="url(#g_grey)"/><rect x="600.20" y="479.20" width="35.40" height="8.80" fill="url(#g_yellow)"/><path d="M451.50 479.50 H487.50 M451.50 487.70 H487.50" stroke="#22594a" stroke-width="0.9" stroke-opacity="0.75" fill="none"/><path d="M600.20 479.50 H635.60 M600.20 487.70 H635.60" stroke="#a37d37" stroke-width="0.9" stroke-opacity="0.75" fill="none"/><line x1="487.50" y1="479.20" x2="487.50" y2="488.00" stroke="#000" stroke-opacity="0.18" stroke-width="0.6"/><line x1="600.20" y1="479.20" x2="600.20" y2="488.00" stroke="#000" stroke-opacity="0.18" stroke-width="0.6"/></g><ellipse cx="453.20" cy="483.60" rx="1.50" ry="4.00" fill="#fff" fill-opacity="0.14" stroke="#000" stroke-opacity="0.32" stroke-width="0.6"/><rect x="451.50" y="479.20" width="184.10" height="8.80" rx="2.00" ry="3.20" fill="none" stroke="#000" stroke-opacity="0.27" stroke-width="0.7"/></g>
<text x="439.20" y="486.00" font-size="8.4" fill="#000" stroke="#000" stroke-width="0.28">5<tspan font-size="10.5" dx="0.7" dy="2.7">´</tspan></text>
<text x="639.40" y="486.00" font-size="8.4" fill="#000" stroke="#000" stroke-width="0.28">3<tspan font-size="10.5" dx="0.7" dy="2.7">´</tspan></text>
<line x1="518.00" y1="495.00" x2="503.40" y2="507.69" stroke="#6d6e71" stroke-width="1.15"/>
<polygon points="499.60,511.00 502.74,503.63 503.73,507.41 507.33,508.92" fill="#6d6e71"/>
<line x1="576.00" y1="495.00" x2="590.60" y2="507.69" stroke="#6d6e71" stroke-width="1.15"/>
<polygon points="594.40,511.00 586.67,508.92 590.27,507.41 591.26,503.63" fill="#6d6e71"/>
<text x="361.40" y="527.80" font-size="10.0" fill="#6d6e71" font-weight="bold" textLength="99.6" lengthAdjust="spacingAndGlyphs" stroke="#6d6e71" stroke-width="0.12">SINGLE BARCODE</text>
<text x="619.00" y="527.80" font-size="10.0" fill="#6d6e71" font-weight="bold" textLength="96.4" lengthAdjust="spacingAndGlyphs" stroke="#6d6e71" stroke-width="0.12">DUAL BARCODES</text>
<line x1="534.5" y1="519.5" x2="534.5" y2="863" stroke="#a7a9ac" stroke-width="1"/>
<g><g clip-path="url(#c53)"><rect x="309.40" y="545.00" width="14.60" height="8.70" fill="url(#g_orange)"/><rect x="324.00" y="545.00" width="34.10" height="8.70" fill="url(#g_green)"/><path d="M309.40 545.30 H324.00 M309.40 553.40 H324.00" stroke="#9f481d" stroke-width="0.9" stroke-opacity="0.75" fill="none"/><path d="M324.00 545.30 H358.10 M324.00 553.40 H358.10" stroke="#22594a" stroke-width="0.9" stroke-opacity="0.75" fill="none"/><line x1="324.00" y1="545.00" x2="324.00" y2="553.70" stroke="#000" stroke-opacity="0.18" stroke-width="0.6"/></g><ellipse cx="311.10" cy="549.35" rx="1.50" ry="3.95" fill="#fff" fill-opacity="0.14" stroke="#000" stroke-opacity="0.32" stroke-width="0.6"/><rect x="309.40" y="545.00" width="48.70" height="8.70" rx="2.00" ry="3.20" fill="none" stroke="#000" stroke-opacity="0.27" stroke-width="0.7"/></g>
<g><g clip-path="url(#c54)"><rect x="321.40" y="556.10" width="36.70" height="8.80" fill="url(#g_green)"/><rect x="358.10" y="556.10" width="99.40" height="8.80" fill="url(#g_grey)"/><rect x="457.50" y="556.10" width="34.60" height="8.80" fill="url(#g_yellow)"/><rect x="492.10" y="556.10" width="11.70" height="8.80" fill="url(#g_olive)"/><rect x="503.80" y="556.10" width="12.30" height="8.80" fill="url(#g_p7)"/><path d="M321.40 556.40 H358.10 M321.40 564.60 H358.10" stroke="#22594a" stroke-width="0.9" stroke-opacity="0.75" fill="none"/><path d="M457.50 556.40 H492.10 M457.50 564.60 H492.10" stroke="#a37d37" stroke-width="0.9" stroke-opacity="0.75" fill="none"/><path d="M492.10 556.40 H503.80 M492.10 564.60 H503.80" stroke="#515b2d" stroke-width="0.9" stroke-opacity="0.75" fill="none"/><path d="M503.80 556.40 H516.10 M503.80 564.60 H516.10" stroke="#233c5e" stroke-width="0.9" stroke-opacity="0.75" fill="none"/><line x1="358.10" y1="556.10" x2="358.10" y2="564.90" stroke="#000" stroke-opacity="0.18" stroke-width="0.6"/><line x1="457.50" y1="556.10" x2="457.50" y2="564.90" stroke="#000" stroke-opacity="0.18" stroke-width="0.6"/><line x1="492.10" y1="556.10" x2="492.10" y2="564.90" stroke="#000" stroke-opacity="0.18" stroke-width="0.6"/><line x1="503.80" y1="556.10" x2="503.80" y2="564.90" stroke="#000" stroke-opacity="0.18" stroke-width="0.6"/></g><ellipse cx="323.10" cy="560.50" rx="1.50" ry="4.00" fill="#fff" fill-opacity="0.14" stroke="#000" stroke-opacity="0.32" stroke-width="0.6"/><rect x="321.40" y="556.10" width="194.70" height="8.80" rx="2.00" ry="3.20" fill="none" stroke="#000" stroke-opacity="0.27" stroke-width="0.7"/></g>
<text x="298.10" y="552.20" font-size="8.4" fill="#000" stroke="#000" stroke-width="0.28">5<tspan font-size="10.5" dx="0.7" dy="2.7">´</tspan></text>
<text x="310.20" y="563.60" font-size="8.4" fill="#000" stroke="#000" stroke-width="0.28">3<tspan font-size="10.5" dx="0.7" dy="2.7">´</tspan></text>
<text x="519.50" y="563.60" font-size="8.4" fill="#000" stroke="#000" stroke-width="0.28">5<tspan font-size="10.5" dx="0.7" dy="2.7">´</tspan></text>
<text x="311.20" y="542.40" font-size="8.8" fill="#d9571c" stroke="#d9571c" stroke-width="0.3">P<tspan font-size="7.8">5</tspan></text>
<g><g clip-path="url(#c55)"><rect x="309.40" y="582.00" width="14.60" height="8.70" fill="url(#g_orange)"/><rect x="324.00" y="582.00" width="34.10" height="8.70" fill="url(#g_green)"/><path d="M309.40 582.30 H324.00 M309.40 590.40 H324.00" stroke="#9f481d" stroke-width="0.9" stroke-opacity="0.75" fill="none"/><path d="M324.00 582.30 H358.10 M324.00 590.40 H358.10" stroke="#22594a" stroke-width="0.9" stroke-opacity="0.75" fill="none"/><line x1="324.00" y1="582.00" x2="324.00" y2="590.70" stroke="#000" stroke-opacity="0.18" stroke-width="0.6"/></g><ellipse cx="311.10" cy="586.35" rx="1.50" ry="3.95" fill="#fff" fill-opacity="0.14" stroke="#000" stroke-opacity="0.32" stroke-width="0.6"/><rect x="309.40" y="582.00" width="48.70" height="8.70" rx="2.00" ry="3.20" fill="none" stroke="#000" stroke-opacity="0.27" stroke-width="0.7"/></g>
<g><g clip-path="url(#c56)"><rect x="321.40" y="593.10" width="36.70" height="8.80" fill="url(#g_green)"/><rect x="358.10" y="593.10" width="99.40" height="8.80" fill="url(#g_grey)"/><rect x="457.50" y="593.10" width="34.60" height="8.80" fill="url(#g_yellow)"/><rect x="492.10" y="593.10" width="11.70" height="8.80" fill="url(#g_olive)"/><rect x="503.80" y="593.10" width="12.30" height="8.80" fill="url(#g_p7)"/><path d="M321.40 593.40 H358.10 M321.40 601.60 H358.10" stroke="#22594a" stroke-width="0.9" stroke-opacity="0.75" fill="none"/><path d="M457.50 593.40 H492.10 M457.50 601.60 H492.10" stroke="#a37d37" stroke-width="0.9" stroke-opacity="0.75" fill="none"/><path d="M492.10 593.40 H503.80 M492.10 601.60 H503.80" stroke="#515b2d" stroke-width="0.9" stroke-opacity="0.75" fill="none"/><path d="M503.80 593.40 H516.10 M503.80 601.60 H516.10" stroke="#233c5e" stroke-width="0.9" stroke-opacity="0.75" fill="none"/><line x1="358.10" y1="593.10" x2="358.10" y2="601.90" stroke="#000" stroke-opacity="0.18" stroke-width="0.6"/><line x1="457.50" y1="593.10" x2="457.50" y2="601.90" stroke="#000" stroke-opacity="0.18" stroke-width="0.6"/><line x1="492.10" y1="593.10" x2="492.10" y2="601.90" stroke="#000" stroke-opacity="0.18" stroke-width="0.6"/><line x1="503.80" y1="593.10" x2="503.80" y2="601.90" stroke="#000" stroke-opacity="0.18" stroke-width="0.6"/></g><ellipse cx="323.10" cy="597.50" rx="1.50" ry="4.00" fill="#fff" fill-opacity="0.14" stroke="#000" stroke-opacity="0.32" stroke-width="0.6"/><rect x="321.40" y="593.10" width="194.70" height="8.80" rx="2.00" ry="3.20" fill="none" stroke="#000" stroke-opacity="0.27" stroke-width="0.7"/></g>
<text x="298.10" y="589.20" font-size="8.4" fill="#000" stroke="#000" stroke-width="0.28">5<tspan font-size="10.5" dx="0.7" dy="2.7">´</tspan></text>
<text x="310.20" y="600.60" font-size="8.4" fill="#000" stroke="#000" stroke-width="0.28">3<tspan font-size="10.5" dx="0.7" dy="2.7">´</tspan></text>
<text x="519.50" y="600.60" font-size="8.4" fill="#000" stroke="#000" stroke-width="0.28">5<tspan font-size="10.5" dx="0.7" dy="2.7">´</tspan></text>
<text x="311.20" y="579.40" font-size="8.8" fill="#d9571c" stroke="#d9571c" stroke-width="0.3">P<tspan font-size="7.8">5</tspan></text>
<text x="486.30" y="553.80" font-size="8.8" fill="#52621c" stroke="#52621c" stroke-width="0.28">BC<tspan font-size="7.8">1</tspan></text>
<text x="506.00" y="553.80" font-size="8.8" fill="#17365f" font-weight="bold">P<tspan font-size="7.8">7</tspan></text>
<line x1="409.60" y1="609.50" x2="409.60" y2="621.46" stroke="#6d6e71" stroke-width="1.15"/>
<polygon points="409.60,626.50 406.10,619.30 409.60,621.03 413.10,619.30" fill="#6d6e71"/>
<g><g clip-path="url(#c57)"><rect x="309.40" y="632.40" width="14.60" height="8.80" fill="url(#g_orange)"/><rect x="324.00" y="632.40" width="34.10" height="8.80" fill="url(#g_green)"/><rect x="358.10" y="632.40" width="99.40" height="8.80" fill="url(#g_grey)"/><rect x="457.50" y="632.40" width="34.60" height="8.80" fill="url(#g_yellow)"/><rect x="492.10" y="632.40" width="11.70" height="8.80" fill="url(#g_olive)"/><rect x="503.80" y="632.40" width="12.30" height="8.80" fill="url(#g_p7)"/><path d="M309.40 632.70 H324.00 M309.40 640.90 H324.00" stroke="#9f481d" stroke-width="0.9" stroke-opacity="0.75" fill="none"/><path d="M324.00 632.70 H358.10 M324.00 640.90 H358.10" stroke="#22594a" stroke-width="0.9" stroke-opacity="0.75" fill="none"/><path d="M457.50 632.70 H492.10 M457.50 640.90 H492.10" stroke="#a37d37" stroke-width="0.9" stroke-opacity="0.75" fill="none"/><path d="M492.10 632.70 H503.80 M492.10 640.90 H503.80" stroke="#515b2d" stroke-width="0.9" stroke-opacity="0.75" fill="none"/><path d="M503.80 632.70 H516.10 M503.80 640.90 H516.10" stroke="#233c5e" stroke-width="0.9" stroke-opacity="0.75" fill="none"/><line x1="324.00" y1="632.40" x2="324.00" y2="641.20" stroke="#000" stroke-opacity="0.18" stroke-width="0.6"/><line x1="358.10" y1="632.40" x2="358.10" y2="641.20" stroke="#000" stroke-opacity="0.18" stroke-width="0.6"/><line x1="457.50" y1="632.40" x2="457.50" y2="641.20" stroke="#000" stroke-opacity="0.18" stroke-width="0.6"/><line x1="492.10" y1="632.40" x2="492.10" y2="641.20" stroke="#000" stroke-opacity="0.18" stroke-width="0.6"/><line x1="503.80" y1="632.40" x2="503.80" y2="641.20" stroke="#000" stroke-opacity="0.18" stroke-width="0.6"/></g><ellipse cx="311.10" cy="636.80" rx="1.50" ry="4.00" fill="#fff" fill-opacity="0.14" stroke="#000" stroke-opacity="0.32" stroke-width="0.6"/><rect x="309.40" y="632.40" width="206.70" height="8.80" rx="2.00" ry="3.20" fill="none" stroke="#000" stroke-opacity="0.27" stroke-width="0.7"/></g>
<g><g clip-path="url(#c58)"><rect x="321.40" y="643.50" width="36.70" height="8.80" fill="url(#g_green)"/><rect x="358.10" y="643.50" width="99.40" height="8.80" fill="url(#g_grey)"/><rect x="457.50" y="643.50" width="34.60" height="8.80" fill="url(#g_yellow)"/><rect x="492.10" y="643.50" width="11.70" height="8.80" fill="url(#g_olive)"/><rect x="503.80" y="643.50" width="12.30" height="8.80" fill="url(#g_p7)"/><path d="M321.40 643.80 H358.10 M321.40 652.00 H358.10" stroke="#22594a" stroke-width="0.9" stroke-opacity="0.75" fill="none"/><path d="M457.50 643.80 H492.10 M457.50 652.00 H492.10" stroke="#a37d37" stroke-width="0.9" stroke-opacity="0.75" fill="none"/><path d="M492.10 643.80 H503.80 M492.10 652.00 H503.80" stroke="#515b2d" stroke-width="0.9" stroke-opacity="0.75" fill="none"/><path d="M503.80 643.80 H516.10 M503.80 652.00 H516.10" stroke="#233c5e" stroke-width="0.9" stroke-opacity="0.75" fill="none"/><line x1="358.10" y1="643.50" x2="358.10" y2="652.30" stroke="#000" stroke-opacity="0.18" stroke-width="0.6"/><line x1="457.50" y1="643.50" x2="457.50" y2="652.30" stroke="#000" stroke-opacity="0.18" stroke-width="0.6"/><line x1="492.10" y1="643.50" x2="492.10" y2="652.30" stroke="#000" stroke-opacity="0.18" stroke-width="0.6"/><line x1="503.80" y1="643.50" x2="503.80" y2="652.30" stroke="#000" stroke-opacity="0.18" stroke-width="0.6"/></g><ellipse cx="323.10" cy="647.90" rx="1.50" ry="4.00" fill="#fff" fill-opacity="0.14" stroke="#000" stroke-opacity="0.32" stroke-width="0.6"/><rect x="321.40" y="643.50" width="194.70" height="8.80" rx="2.00" ry="3.20" fill="none" stroke="#000" stroke-opacity="0.27" stroke-width="0.7"/></g>
<text x="298.10" y="639.70" font-size="8.4" fill="#000" stroke="#000" stroke-width="0.28">5<tspan font-size="10.5" dx="0.7" dy="2.7">´</tspan></text>
<text x="310.20" y="651.00" font-size="8.4" fill="#000" stroke="#000" stroke-width="0.28">3<tspan font-size="10.5" dx="0.7" dy="2.7">´</tspan></text>
<text x="519.50" y="639.70" font-size="8.4" fill="#000" stroke="#000" stroke-width="0.28">3<tspan font-size="10.5" dx="0.7" dy="2.7">´</tspan></text>
<text x="519.50" y="651.00" font-size="8.4" fill="#000" stroke="#000" stroke-width="0.28">5<tspan font-size="10.5" dx="0.7" dy="2.7">´</tspan></text>
<g><g clip-path="url(#c59)"><rect x="309.40" y="665.50" width="14.60" height="8.80" fill="url(#g_orange)"/><rect x="324.00" y="665.50" width="34.10" height="8.80" fill="url(#g_green)"/><rect x="358.10" y="665.50" width="99.40" height="8.80" fill="url(#g_grey)"/><rect x="457.50" y="665.50" width="34.60" height="8.80" fill="url(#g_yellow)"/><rect x="492.10" y="665.50" width="11.70" height="8.80" fill="url(#g_olive)"/><rect x="503.80" y="665.50" width="12.30" height="8.80" fill="url(#g_p7)"/><path d="M309.40 665.80 H324.00 M309.40 674.00 H324.00" stroke="#9f481d" stroke-width="0.9" stroke-opacity="0.75" fill="none"/><path d="M324.00 665.80 H358.10 M324.00 674.00 H358.10" stroke="#22594a" stroke-width="0.9" stroke-opacity="0.75" fill="none"/><path d="M457.50 665.80 H492.10 M457.50 674.00 H492.10" stroke="#a37d37" stroke-width="0.9" stroke-opacity="0.75" fill="none"/><path d="M492.10 665.80 H503.80 M492.10 674.00 H503.80" stroke="#515b2d" stroke-width="0.9" stroke-opacity="0.75" fill="none"/><path d="M503.80 665.80 H516.10 M503.80 674.00 H516.10" stroke="#233c5e" stroke-width="0.9" stroke-opacity="0.75" fill="none"/><line x1="324.00" y1="665.50" x2="324.00" y2="674.30" stroke="#000" stroke-opacity="0.18" stroke-width="0.6"/><line x1="358.10" y1="665.50" x2="358.10" y2="674.30" stroke="#000" stroke-opacity="0.18" stroke-width="0.6"/><line x1="457.50" y1="665.50" x2="457.50" y2="674.30" stroke="#000" stroke-opacity="0.18" stroke-width="0.6"/><line x1="492.10" y1="665.50" x2="492.10" y2="674.30" stroke="#000" stroke-opacity="0.18" stroke-width="0.6"/><line x1="503.80" y1="665.50" x2="503.80" y2="674.30" stroke="#000" stroke-opacity="0.18" stroke-width="0.6"/></g><ellipse cx="311.10" cy="669.90" rx="1.50" ry="4.00" fill="#fff" fill-opacity="0.14" stroke="#000" stroke-opacity="0.32" stroke-width="0.6"/><rect x="309.40" y="665.50" width="206.70" height="8.80" rx="2.00" ry="3.20" fill="none" stroke="#000" stroke-opacity="0.27" stroke-width="0.7"/></g>
<g><g clip-path="url(#c60)"><rect x="321.40" y="676.60" width="36.70" height="8.80" fill="url(#g_green)"/><rect x="358.10" y="676.60" width="99.40" height="8.80" fill="url(#g_grey)"/><rect x="457.50" y="676.60" width="34.60" height="8.80" fill="url(#g_yellow)"/><rect x="492.10" y="676.60" width="11.70" height="8.80" fill="url(#g_olive)"/><rect x="503.80" y="676.60" width="12.30" height="8.80" fill="url(#g_p7)"/><path d="M321.40 676.90 H358.10 M321.40 685.10 H358.10" stroke="#22594a" stroke-width="0.9" stroke-opacity="0.75" fill="none"/><path d="M457.50 676.90 H492.10 M457.50 685.10 H492.10" stroke="#a37d37" stroke-width="0.9" stroke-opacity="0.75" fill="none"/><path d="M492.10 676.90 H503.80 M492.10 685.10 H503.80" stroke="#515b2d" stroke-width="0.9" stroke-opacity="0.75" fill="none"/><path d="M503.80 676.90 H516.10 M503.80 685.10 H516.10" stroke="#233c5e" stroke-width="0.9" stroke-opacity="0.75" fill="none"/><line x1="358.10" y1="676.60" x2="358.10" y2="685.40" stroke="#000" stroke-opacity="0.18" stroke-width="0.6"/><line x1="457.50" y1="676.60" x2="457.50" y2="685.40" stroke="#000" stroke-opacity="0.18" stroke-width="0.6"/><line x1="492.10" y1="676.60" x2="492.10" y2="685.40" stroke="#000" stroke-opacity="0.18" stroke-width="0.6"/><line x1="503.80" y1="676.60" x2="503.80" y2="685.40" stroke="#000" stroke-opacity="0.18" stroke-width="0.6"/></g><ellipse cx="323.10" cy="681.00" rx="1.50" ry="4.00" fill="#fff" fill-opacity="0.14" stroke="#000" stroke-opacity="0.32" stroke-width="0.6"/><rect x="321.40" y="676.60" width="194.70" height="8.80" rx="2.00" ry="3.20" fill="none" stroke="#000" stroke-opacity="0.27" stroke-width="0.7"/></g>
<text x="298.10" y="672.80" font-size="8.4" fill="#000" stroke="#000" stroke-width="0.28">5<tspan font-size="10.5" dx="0.7" dy="2.7">´</tspan></text>
<text x="310.20" y="684.10" font-size="8.4" fill="#000" stroke="#000" stroke-width="0.28">3<tspan font-size="10.5" dx="0.7" dy="2.7">´</tspan></text>
<text x="519.50" y="672.80" font-size="8.4" fill="#000" stroke="#000" stroke-width="0.28">3<tspan font-size="10.5" dx="0.7" dy="2.7">´</tspan></text>
<text x="519.50" y="684.10" font-size="8.4" fill="#000" stroke="#000" stroke-width="0.28">5<tspan font-size="10.5" dx="0.7" dy="2.7">´</tspan></text>
<line x1="409.60" y1="693.00" x2="409.60" y2="702.46" stroke="#6d6e71" stroke-width="1.15"/>
<polygon points="409.60,707.50 406.10,700.30 409.60,702.03 413.10,700.30" fill="#6d6e71"/>
<line x1="409.60" y1="711.00" x2="409.60" y2="719.96" stroke="#6d6e71" stroke-width="1.15"/>
<polygon points="409.60,725.00 406.10,717.80 409.60,719.53 413.10,717.80" fill="#6d6e71"/>
<g><g clip-path="url(#c61)"><rect x="309.40" y="732.00" width="14.60" height="8.80" fill="url(#g_orange)"/><rect x="324.00" y="732.00" width="34.10" height="8.80" fill="url(#g_green)"/><rect x="358.10" y="732.00" width="99.40" height="8.80" fill="url(#g_grey)"/><rect x="457.50" y="732.00" width="34.60" height="8.80" fill="url(#g_yellow)"/><rect x="492.10" y="732.00" width="11.70" height="8.80" fill="url(#g_olive)"/><rect x="503.80" y="732.00" width="12.30" height="8.80" fill="url(#g_p7)"/><path d="M309.40 732.30 H324.00 M309.40 740.50 H324.00" stroke="#9f481d" stroke-width="0.9" stroke-opacity="0.75" fill="none"/><path d="M324.00 732.30 H358.10 M324.00 740.50 H358.10" stroke="#22594a" stroke-width="0.9" stroke-opacity="0.75" fill="none"/><path d="M457.50 732.30 H492.10 M457.50 740.50 H492.10" stroke="#a37d37" stroke-width="0.9" stroke-opacity="0.75" fill="none"/><path d="M492.10 732.30 H503.80 M492.10 740.50 H503.80" stroke="#515b2d" stroke-width="0.9" stroke-opacity="0.75" fill="none"/><path d="M503.80 732.30 H516.10 M503.80 740.50 H516.10" stroke="#233c5e" stroke-width="0.9" stroke-opacity="0.75" fill="none"/><line x1="324.00" y1="732.00" x2="324.00" y2="740.80" stroke="#000" stroke-opacity="0.18" stroke-width="0.6"/><line x1="358.10" y1="732.00" x2="358.10" y2="740.80" stroke="#000" stroke-opacity="0.18" stroke-width="0.6"/><line x1="457.50" y1="732.00" x2="457.50" y2="740.80" stroke="#000" stroke-opacity="0.18" stroke-width="0.6"/><line x1="492.10" y1="732.00" x2="492.10" y2="740.80" stroke="#000" stroke-opacity="0.18" stroke-width="0.6"/><line x1="503.80" y1="732.00" x2="503.80" y2="740.80" stroke="#000" stroke-opacity="0.18" stroke-width="0.6"/></g><ellipse cx="311.10" cy="736.40" rx="1.50" ry="4.00" fill="#fff" fill-opacity="0.14" stroke="#000" stroke-opacity="0.32" stroke-width="0.6"/><rect x="309.40" y="732.00" width="206.70" height="8.80" rx="2.00" ry="3.20" fill="none" stroke="#000" stroke-opacity="0.27" stroke-width="0.7"/></g>
<g><g clip-path="url(#c62)"><rect x="309.40" y="742.70" width="14.60" height="8.80" fill="url(#g_orange)"/><rect x="324.00" y="742.70" width="34.10" height="8.80" fill="url(#g_green)"/><rect x="358.10" y="742.70" width="99.40" height="8.80" fill="url(#g_grey)"/><rect x="457.50" y="742.70" width="34.60" height="8.80" fill="url(#g_yellow)"/><rect x="492.10" y="742.70" width="11.70" height="8.80" fill="url(#g_olive)"/><rect x="503.80" y="742.70" width="12.30" height="8.80" fill="url(#g_p7)"/><path d="M309.40 743.00 H324.00 M309.40 751.20 H324.00" stroke="#9f481d" stroke-width="0.9" stroke-opacity="0.75" fill="none"/><path d="M324.00 743.00 H358.10 M324.00 751.20 H358.10" stroke="#22594a" stroke-width="0.9" stroke-opacity="0.75" fill="none"/><path d="M457.50 743.00 H492.10 M457.50 751.20 H492.10" stroke="#a37d37" stroke-width="0.9" stroke-opacity="0.75" fill="none"/><path d="M492.10 743.00 H503.80 M492.10 751.20 H503.80" stroke="#515b2d" stroke-width="0.9" stroke-opacity="0.75" fill="none"/><path d="M503.80 743.00 H516.10 M503.80 751.20 H516.10" stroke="#233c5e" stroke-width="0.9" stroke-opacity="0.75" fill="none"/><line x1="324.00" y1="742.70" x2="324.00" y2="751.50" stroke="#000" stroke-opacity="0.18" stroke-width="0.6"/><line x1="358.10" y1="742.70" x2="358.10" y2="751.50" stroke="#000" stroke-opacity="0.18" stroke-width="0.6"/><line x1="457.50" y1="742.70" x2="457.50" y2="751.50" stroke="#000" stroke-opacity="0.18" stroke-width="0.6"/><line x1="492.10" y1="742.70" x2="492.10" y2="751.50" stroke="#000" stroke-opacity="0.18" stroke-width="0.6"/><line x1="503.80" y1="742.70" x2="503.80" y2="751.50" stroke="#000" stroke-opacity="0.18" stroke-width="0.6"/></g><ellipse cx="311.10" cy="747.10" rx="1.50" ry="4.00" fill="#fff" fill-opacity="0.14" stroke="#000" stroke-opacity="0.32" stroke-width="0.6"/><rect x="309.40" y="742.70" width="206.70" height="8.80" rx="2.00" ry="3.20" fill="none" stroke="#000" stroke-opacity="0.27" stroke-width="0.7"/></g>
<text x="298.10" y="739.30" font-size="8.4" fill="#000" stroke="#000" stroke-width="0.28">5<tspan font-size="10.5" dx="0.7" dy="2.7">´</tspan></text>
<text x="298.10" y="750.20" font-size="8.4" fill="#000" stroke="#000" stroke-width="0.28">3<tspan font-size="10.5" dx="0.7" dy="2.7">´</tspan></text>
<text x="519.50" y="739.30" font-size="8.4" fill="#000" stroke="#000" stroke-width="0.28">3<tspan font-size="10.5" dx="0.7" dy="2.7">´</tspan></text>
<text x="519.50" y="750.20" font-size="8.4" fill="#000" stroke="#000" stroke-width="0.28">5<tspan font-size="10.5" dx="0.7" dy="2.7">´</tspan></text>
<g><g clip-path="url(#c63)"><rect x="309.40" y="764.50" width="14.60" height="8.80" fill="url(#g_orange)"/><rect x="324.00" y="764.50" width="34.10" height="8.80" fill="url(#g_green)"/><rect x="358.10" y="764.50" width="99.40" height="8.80" fill="url(#g_grey)"/><rect x="457.50" y="764.50" width="34.60" height="8.80" fill="url(#g_yellow)"/><rect x="492.10" y="764.50" width="11.70" height="8.80" fill="url(#g_olive)"/><rect x="503.80" y="764.50" width="12.30" height="8.80" fill="url(#g_p7)"/><path d="M309.40 764.80 H324.00 M309.40 773.00 H324.00" stroke="#9f481d" stroke-width="0.9" stroke-opacity="0.75" fill="none"/><path d="M324.00 764.80 H358.10 M324.00 773.00 H358.10" stroke="#22594a" stroke-width="0.9" stroke-opacity="0.75" fill="none"/><path d="M457.50 764.80 H492.10 M457.50 773.00 H492.10" stroke="#a37d37" stroke-width="0.9" stroke-opacity="0.75" fill="none"/><path d="M492.10 764.80 H503.80 M492.10 773.00 H503.80" stroke="#515b2d" stroke-width="0.9" stroke-opacity="0.75" fill="none"/><path d="M503.80 764.80 H516.10 M503.80 773.00 H516.10" stroke="#233c5e" stroke-width="0.9" stroke-opacity="0.75" fill="none"/><line x1="324.00" y1="764.50" x2="324.00" y2="773.30" stroke="#000" stroke-opacity="0.18" stroke-width="0.6"/><line x1="358.10" y1="764.50" x2="358.10" y2="773.30" stroke="#000" stroke-opacity="0.18" stroke-width="0.6"/><line x1="457.50" y1="764.50" x2="457.50" y2="773.30" stroke="#000" stroke-opacity="0.18" stroke-width="0.6"/><line x1="492.10" y1="764.50" x2="492.10" y2="773.30" stroke="#000" stroke-opacity="0.18" stroke-width="0.6"/><line x1="503.80" y1="764.50" x2="503.80" y2="773.30" stroke="#000" stroke-opacity="0.18" stroke-width="0.6"/></g><ellipse cx="311.10" cy="768.90" rx="1.50" ry="4.00" fill="#fff" fill-opacity="0.14" stroke="#000" stroke-opacity="0.32" stroke-width="0.6"/><rect x="309.40" y="764.50" width="206.70" height="8.80" rx="2.00" ry="3.20" fill="none" stroke="#000" stroke-opacity="0.27" stroke-width="0.7"/></g>
<g><g clip-path="url(#c64)"><rect x="309.40" y="775.20" width="14.60" height="8.80" fill="url(#g_orange)"/><rect x="324.00" y="775.20" width="34.10" height="8.80" fill="url(#g_green)"/><rect x="358.10" y="775.20" width="99.40" height="8.80" fill="url(#g_grey)"/><rect x="457.50" y="775.20" width="34.60" height="8.80" fill="url(#g_yellow)"/><rect x="492.10" y="775.20" width="11.70" height="8.80" fill="url(#g_olive)"/><rect x="503.80" y="775.20" width="12.30" height="8.80" fill="url(#g_p7)"/><path d="M309.40 775.50 H324.00 M309.40 783.70 H324.00" stroke="#9f481d" stroke-width="0.9" stroke-opacity="0.75" fill="none"/><path d="M324.00 775.50 H358.10 M324.00 783.70 H358.10" stroke="#22594a" stroke-width="0.9" stroke-opacity="0.75" fill="none"/><path d="M457.50 775.50 H492.10 M457.50 783.70 H492.10" stroke="#a37d37" stroke-width="0.9" stroke-opacity="0.75" fill="none"/><path d="M492.10 775.50 H503.80 M492.10 783.70 H503.80" stroke="#515b2d" stroke-width="0.9" stroke-opacity="0.75" fill="none"/><path d="M503.80 775.50 H516.10 M503.80 783.70 H516.10" stroke="#233c5e" stroke-width="0.9" stroke-opacity="0.75" fill="none"/><line x1="324.00" y1="775.20" x2="324.00" y2="784.00" stroke="#000" stroke-opacity="0.18" stroke-width="0.6"/><line x1="358.10" y1="775.20" x2="358.10" y2="784.00" stroke="#000" stroke-opacity="0.18" stroke-width="0.6"/><line x1="457.50" y1="775.20" x2="457.50" y2="784.00" stroke="#000" stroke-opacity="0.18" stroke-width="0.6"/><line x1="492.10" y1="775.20" x2="492.10" y2="784.00" stroke="#000" stroke-opacity="0.18" stroke-width="0.6"/><line x1="503.80" y1="775.20" x2="503.80" y2="784.00" stroke="#000" stroke-opacity="0.18" stroke-width="0.6"/></g><ellipse cx="311.10" cy="779.60" rx="1.50" ry="4.00" fill="#fff" fill-opacity="0.14" stroke="#000" stroke-opacity="0.32" stroke-width="0.6"/><rect x="309.40" y="775.20" width="206.70" height="8.80" rx="2.00" ry="3.20" fill="none" stroke="#000" stroke-opacity="0.27" stroke-width="0.7"/></g>
<text x="298.10" y="771.80" font-size="8.4" fill="#000" stroke="#000" stroke-width="0.28">5<tspan font-size="10.5" dx="0.7" dy="2.7">´</tspan></text>
<text x="298.10" y="782.70" font-size="8.4" fill="#000" stroke="#000" stroke-width="0.28">3<tspan font-size="10.5" dx="0.7" dy="2.7">´</tspan></text>
<text x="519.50" y="771.80" font-size="8.4" fill="#000" stroke="#000" stroke-width="0.28">3<tspan font-size="10.5" dx="0.7" dy="2.7">´</tspan></text>
<text x="519.50" y="782.70" font-size="8.4" fill="#000" stroke="#000" stroke-width="0.28">5<tspan font-size="10.5" dx="0.7" dy="2.7">´</tspan></text>
<g><g clip-path="url(#c65)"><rect x="309.40" y="797.00" width="14.60" height="8.80" fill="url(#g_orange)"/><rect x="324.00" y="797.00" width="34.10" height="8.80" fill="url(#g_green)"/><rect x="358.10" y="797.00" width="99.40" height="8.80" fill="url(#g_grey)"/><rect x="457.50" y="797.00" width="34.60" height="8.80" fill="url(#g_yellow)"/><rect x="492.10" y="797.00" width="11.70" height="8.80" fill="url(#g_olive)"/><rect x="503.80" y="797.00" width="12.30" height="8.80" fill="url(#g_p7)"/><path d="M309.40 797.30 H324.00 M309.40 805.50 H324.00" stroke="#9f481d" stroke-width="0.9" stroke-opacity="0.75" fill="none"/><path d="M324.00 797.30 H358.10 M324.00 805.50 H358.10" stroke="#22594a" stroke-width="0.9" stroke-opacity="0.75" fill="none"/><path d="M457.50 797.30 H492.10 M457.50 805.50 H492.10" stroke="#a37d37" stroke-width="0.9" stroke-opacity="0.75" fill="none"/><path d="M492.10 797.30 H503.80 M492.10 805.50 H503.80" stroke="#515b2d" stroke-width="0.9" stroke-opacity="0.75" fill="none"/><path d="M503.80 797.30 H516.10 M503.80 805.50 H516.10" stroke="#233c5e" stroke-width="0.9" stroke-opacity="0.75" fill="none"/><line x1="324.00" y1="797.00" x2="324.00" y2="805.80" stroke="#000" stroke-opacity="0.18" stroke-width="0.6"/><line x1="358.10" y1="797.00" x2="358.10" y2="805.80" stroke="#000" stroke-opacity="0.18" stroke-width="0.6"/><line x1="457.50" y1="797.00" x2="457.50" y2="805.80" stroke="#000" stroke-opacity="0.18" stroke-width="0.6"/><line x1="492.10" y1="797.00" x2="492.10" y2="805.80" stroke="#000" stroke-opacity="0.18" stroke-width="0.6"/><line x1="503.80" y1="797.00" x2="503.80" y2="805.80" stroke="#000" stroke-opacity="0.18" stroke-width="0.6"/></g><ellipse cx="311.10" cy="801.40" rx="1.50" ry="4.00" fill="#fff" fill-opacity="0.14" stroke="#000" stroke-opacity="0.32" stroke-width="0.6"/><rect x="309.40" y="797.00" width="206.70" height="8.80" rx="2.00" ry="3.20" fill="none" stroke="#000" stroke-opacity="0.27" stroke-width="0.7"/></g>
<g><g clip-path="url(#c66)"><rect x="309.40" y="807.70" width="14.60" height="8.80" fill="url(#g_orange)"/><rect x="324.00" y="807.70" width="34.10" height="8.80" fill="url(#g_green)"/><rect x="358.10" y="807.70" width="99.40" height="8.80" fill="url(#g_grey)"/><rect x="457.50" y="807.70" width="34.60" height="8.80" fill="url(#g_yellow)"/><rect x="492.10" y="807.70" width="11.70" height="8.80" fill="url(#g_olive)"/><rect x="503.80" y="807.70" width="12.30" height="8.80" fill="url(#g_p7)"/><path d="M309.40 808.00 H324.00 M309.40 816.20 H324.00" stroke="#9f481d" stroke-width="0.9" stroke-opacity="0.75" fill="none"/><path d="M324.00 808.00 H358.10 M324.00 816.20 H358.10" stroke="#22594a" stroke-width="0.9" stroke-opacity="0.75" fill="none"/><path d="M457.50 808.00 H492.10 M457.50 816.20 H492.10" stroke="#a37d37" stroke-width="0.9" stroke-opacity="0.75" fill="none"/><path d="M492.10 808.00 H503.80 M492.10 816.20 H503.80" stroke="#515b2d" stroke-width="0.9" stroke-opacity="0.75" fill="none"/><path d="M503.80 808.00 H516.10 M503.80 816.20 H516.10" stroke="#233c5e" stroke-width="0.9" stroke-opacity="0.75" fill="none"/><line x1="324.00" y1="807.70" x2="324.00" y2="816.50" stroke="#000" stroke-opacity="0.18" stroke-width="0.6"/><line x1="358.10" y1="807.70" x2="358.10" y2="816.50" stroke="#000" stroke-opacity="0.18" stroke-width="0.6"/><line x1="457.50" y1="807.70" x2="457.50" y2="816.50" stroke="#000" stroke-opacity="0.18" stroke-width="0.6"/><line x1="492.10" y1="807.70" x2="492.10" y2="816.50" stroke="#000" stroke-opacity="0.18" stroke-width="0.6"/><line x1="503.80" y1="807.70" x2="503.80" y2="816.50" stroke="#000" stroke-opacity="0.18" stroke-width="0.6"/></g><ellipse cx="311.10" cy="812.10" rx="1.50" ry="4.00" fill="#fff" fill-opacity="0.14" stroke="#000" stroke-opacity="0.32" stroke-width="0.6"/><rect x="309.40" y="807.70" width="206.70" height="8.80" rx="2.00" ry="3.20" fill="none" stroke="#000" stroke-opacity="0.27" stroke-width="0.7"/></g>
<text x="298.10" y="804.30" font-size="8.4" fill="#000" stroke="#000" stroke-width="0.28">5<tspan font-size="10.5" dx="0.7" dy="2.7">´</tspan></text>
<text x="298.10" y="815.20" font-size="8.4" fill="#000" stroke="#000" stroke-width="0.28">3<tspan font-size="10.5" dx="0.7" dy="2.7">´</tspan></text>
<text x="519.50" y="804.30" font-size="8.4" fill="#000" stroke="#000" stroke-width="0.28">3<tspan font-size="10.5" dx="0.7" dy="2.7">´</tspan></text>
<text x="519.50" y="815.20" font-size="8.4" fill="#000" stroke="#000" stroke-width="0.28">5<tspan font-size="10.5" dx="0.7" dy="2.7">´</tspan></text>
<g><g clip-path="url(#c67)"><rect x="309.40" y="829.50" width="14.60" height="8.80" fill="url(#g_orange)"/><rect x="324.00" y="829.50" width="34.10" height="8.80" fill="url(#g_green)"/><rect x="358.10" y="829.50" width="99.40" height="8.80" fill="url(#g_grey)"/><rect x="457.50" y="829.50" width="34.60" height="8.80" fill="url(#g_yellow)"/><rect x="492.10" y="829.50" width="11.70" height="8.80" fill="url(#g_olive)"/><rect x="503.80" y="829.50" width="12.30" height="8.80" fill="url(#g_p7)"/><path d="M309.40 829.80 H324.00 M309.40 838.00 H324.00" stroke="#9f481d" stroke-width="0.9" stroke-opacity="0.75" fill="none"/><path d="M324.00 829.80 H358.10 M324.00 838.00 H358.10" stroke="#22594a" stroke-width="0.9" stroke-opacity="0.75" fill="none"/><path d="M457.50 829.80 H492.10 M457.50 838.00 H492.10" stroke="#a37d37" stroke-width="0.9" stroke-opacity="0.75" fill="none"/><path d="M492.10 829.80 H503.80 M492.10 838.00 H503.80" stroke="#515b2d" stroke-width="0.9" stroke-opacity="0.75" fill="none"/><path d="M503.80 829.80 H516.10 M503.80 838.00 H516.10" stroke="#233c5e" stroke-width="0.9" stroke-opacity="0.75" fill="none"/><line x1="324.00" y1="829.50" x2="324.00" y2="838.30" stroke="#000" stroke-opacity="0.18" stroke-width="0.6"/><line x1="358.10" y1="829.50" x2="358.10" y2="838.30" stroke="#000" stroke-opacity="0.18" stroke-width="0.6"/><line x1="457.50" y1="829.50" x2="457.50" y2="838.30" stroke="#000" stroke-opacity="0.18" stroke-width="0.6"/><line x1="492.10" y1="829.50" x2="492.10" y2="838.30" stroke="#000" stroke-opacity="0.18" stroke-width="0.6"/><line x1="503.80" y1="829.50" x2="503.80" y2="838.30" stroke="#000" stroke-opacity="0.18" stroke-width="0.6"/></g><ellipse cx="311.10" cy="833.90" rx="1.50" ry="4.00" fill="#fff" fill-opacity="0.14" stroke="#000" stroke-opacity="0.32" stroke-width="0.6"/><rect x="309.40" y="829.50" width="206.70" height="8.80" rx="2.00" ry="3.20" fill="none" stroke="#000" stroke-opacity="0.27" stroke-width="0.7"/></g>
<g><g clip-path="url(#c68)"><rect x="309.40" y="840.20" width="14.60" height="8.80" fill="url(#g_orange)"/><rect x="324.00" y="840.20" width="34.10" height="8.80" fill="url(#g_green)"/><rect x="358.10" y="840.20" width="99.40" height="8.80" fill="url(#g_grey)"/><rect x="457.50" y="840.20" width="34.60" height="8.80" fill="url(#g_yellow)"/><rect x="492.10" y="840.20" width="11.70" height="8.80" fill="url(#g_olive)"/><rect x="503.80" y="840.20" width="12.30" height="8.80" fill="url(#g_p7)"/><path d="M309.40 840.50 H324.00 M309.40 848.70 H324.00" stroke="#9f481d" stroke-width="0.9" stroke-opacity="0.75" fill="none"/><path d="M324.00 840.50 H358.10 M324.00 848.70 H358.10" stroke="#22594a" stroke-width="0.9" stroke-opacity="0.75" fill="none"/><path d="M457.50 840.50 H492.10 M457.50 848.70 H492.10" stroke="#a37d37" stroke-width="0.9" stroke-opacity="0.75" fill="none"/><path d="M492.10 840.50 H503.80 M492.10 848.70 H503.80" stroke="#515b2d" stroke-width="0.9" stroke-opacity="0.75" fill="none"/><path d="M503.80 840.50 H516.10 M503.80 848.70 H516.10" stroke="#233c5e" stroke-width="0.9" stroke-opacity="0.75" fill="none"/><line x1="324.00" y1="840.20" x2="324.00" y2="849.00" stroke="#000" stroke-opacity="0.18" stroke-width="0.6"/><line x1="358.10" y1="840.20" x2="358.10" y2="849.00" stroke="#000" stroke-opacity="0.18" stroke-width="0.6"/><line x1="457.50" y1="840.20" x2="457.50" y2="849.00" stroke="#000" stroke-opacity="0.18" stroke-width="0.6"/><line x1="492.10" y1="840.20" x2="492.10" y2="849.00" stroke="#000" stroke-opacity="0.18" stroke-width="0.6"/><line x1="503.80" y1="840.20" x2="503.80" y2="849.00" stroke="#000" stroke-opacity="0.18" stroke-width="0.6"/></g><ellipse cx="311.10" cy="844.60" rx="1.50" ry="4.00" fill="#fff" fill-opacity="0.14" stroke="#000" stroke-opacity="0.32" stroke-width="0.6"/><rect x="309.40" y="840.20" width="206.70" height="8.80" rx="2.00" ry="3.20" fill="none" stroke="#000" stroke-opacity="0.27" stroke-width="0.7"/></g>
<text x="298.10" y="836.80" font-size="8.4" fill="#000" stroke="#000" stroke-width="0.28">5<tspan font-size="10.5" dx="0.7" dy="2.7">´</tspan></text>
<text x="298.10" y="847.70" font-size="8.4" fill="#000" stroke="#000" stroke-width="0.28">3<tspan font-size="10.5" dx="0.7" dy="2.7">´</tspan></text>
<text x="519.50" y="836.80" font-size="8.4" fill="#000" stroke="#000" stroke-width="0.28">3<tspan font-size="10.5" dx="0.7" dy="2.7">´</tspan></text>
<text x="519.50" y="847.70" font-size="8.4" fill="#000" stroke="#000" stroke-width="0.28">5<tspan font-size="10.5" dx="0.7" dy="2.7">´</tspan></text>
<g><g clip-path="url(#c69)"><rect x="554.00" y="545.00" width="14.30" height="8.70" fill="url(#g_orange)"/><rect x="568.30" y="545.00" width="11.70" height="8.70" fill="url(#g_bc2)"/><rect x="580.00" y="545.00" width="33.80" height="8.70" fill="url(#g_green)"/><path d="M554.00 545.30 H568.30 M554.00 553.40 H568.30" stroke="#9f481d" stroke-width="0.9" stroke-opacity="0.75" fill="none"/><path d="M568.30 545.30 H580.00 M568.30 553.40 H580.00" stroke="#964c48" stroke-width="0.9" stroke-opacity="0.75" fill="none"/><path d="M580.00 545.30 H613.80 M580.00 553.40 H613.80" stroke="#22594a" stroke-width="0.9" stroke-opacity="0.75" fill="none"/><line x1="568.30" y1="545.00" x2="568.30" y2="553.70" stroke="#000" stroke-opacity="0.18" stroke-width="0.6"/><line x1="580.00" y1="545.00" x2="580.00" y2="553.70" stroke="#000" stroke-opacity="0.18" stroke-width="0.6"/></g><ellipse cx="555.70" cy="549.35" rx="1.50" ry="3.95" fill="#fff" fill-opacity="0.14" stroke="#000" stroke-opacity="0.32" stroke-width="0.6"/><rect x="554.00" y="545.00" width="59.80" height="8.70" rx="2.00" ry="3.20" fill="none" stroke="#000" stroke-opacity="0.27" stroke-width="0.7"/></g>
<g><g clip-path="url(#c70)"><rect x="577.40" y="556.10" width="36.40" height="8.80" fill="url(#g_green)"/><rect x="613.80" y="556.10" width="99.40" height="8.80" fill="url(#g_grey)"/><rect x="713.20" y="556.10" width="34.60" height="8.80" fill="url(#g_yellow)"/><rect x="747.80" y="556.10" width="11.70" height="8.80" fill="url(#g_olive)"/><rect x="759.50" y="556.10" width="12.30" height="8.80" fill="url(#g_p7)"/><path d="M577.40 556.40 H613.80 M577.40 564.60 H613.80" stroke="#22594a" stroke-width="0.9" stroke-opacity="0.75" fill="none"/><path d="M713.20 556.40 H747.80 M713.20 564.60 H747.80" stroke="#a37d37" stroke-width="0.9" stroke-opacity="0.75" fill="none"/><path d="M747.80 556.40 H759.50 M747.80 564.60 H759.50" stroke="#515b2d" stroke-width="0.9" stroke-opacity="0.75" fill="none"/><path d="M759.50 556.40 H771.80 M759.50 564.60 H771.80" stroke="#233c5e" stroke-width="0.9" stroke-opacity="0.75" fill="none"/><line x1="613.80" y1="556.10" x2="613.80" y2="564.90" stroke="#000" stroke-opacity="0.18" stroke-width="0.6"/><line x1="713.20" y1="556.10" x2="713.20" y2="564.90" stroke="#000" stroke-opacity="0.18" stroke-width="0.6"/><line x1="747.80" y1="556.10" x2="747.80" y2="564.90" stroke="#000" stroke-opacity="0.18" stroke-width="0.6"/><line x1="759.50" y1="556.10" x2="759.50" y2="564.90" stroke="#000" stroke-opacity="0.18" stroke-width="0.6"/></g><ellipse cx="579.10" cy="560.50" rx="1.50" ry="4.00" fill="#fff" fill-opacity="0.14" stroke="#000" stroke-opacity="0.32" stroke-width="0.6"/><rect x="577.40" y="556.10" width="194.40" height="8.80" rx="2.00" ry="3.20" fill="none" stroke="#000" stroke-opacity="0.27" stroke-width="0.7"/></g>
<text x="542.70" y="552.20" font-size="8.4" fill="#000" stroke="#000" stroke-width="0.28">5<tspan font-size="10.5" dx="0.7" dy="2.7">´</tspan></text>
<text x="566.20" y="563.60" font-size="8.4" fill="#000" stroke="#000" stroke-width="0.28">3<tspan font-size="10.5" dx="0.7" dy="2.7">´</tspan></text>
<text x="775.20" y="563.60" font-size="8.4" fill="#000" stroke="#000" stroke-width="0.28">5<tspan font-size="10.5" dx="0.7" dy="2.7">´</tspan></text>
<text x="555.80" y="542.40" font-size="8.8" fill="#d9571c" stroke="#d9571c" stroke-width="0.3">P<tspan font-size="7.8">5</tspan></text>
<text x="570.90" y="542.40" font-size="8.8" fill="#b04a45" stroke="#b04a45" stroke-width="0.3">BC<tspan font-size="7.8">2</tspan></text>
<g><g clip-path="url(#c71)"><rect x="554.00" y="582.00" width="14.30" height="8.70" fill="url(#g_orange)"/><rect x="568.30" y="582.00" width="11.70" height="8.70" fill="url(#g_bc2)"/><rect x="580.00" y="582.00" width="33.80" height="8.70" fill="url(#g_green)"/><path d="M554.00 582.30 H568.30 M554.00 590.40 H568.30" stroke="#9f481d" stroke-width="0.9" stroke-opacity="0.75" fill="none"/><path d="M568.30 582.30 H580.00 M568.30 590.40 H580.00" stroke="#964c48" stroke-width="0.9" stroke-opacity="0.75" fill="none"/><path d="M580.00 582.30 H613.80 M580.00 590.40 H613.80" stroke="#22594a" stroke-width="0.9" stroke-opacity="0.75" fill="none"/><line x1="568.30" y1="582.00" x2="568.30" y2="590.70" stroke="#000" stroke-opacity="0.18" stroke-width="0.6"/><line x1="580.00" y1="582.00" x2="580.00" y2="590.70" stroke="#000" stroke-opacity="0.18" stroke-width="0.6"/></g><ellipse cx="555.70" cy="586.35" rx="1.50" ry="3.95" fill="#fff" fill-opacity="0.14" stroke="#000" stroke-opacity="0.32" stroke-width="0.6"/><rect x="554.00" y="582.00" width="59.80" height="8.70" rx="2.00" ry="3.20" fill="none" stroke="#000" stroke-opacity="0.27" stroke-width="0.7"/></g>
<g><g clip-path="url(#c72)"><rect x="577.40" y="593.10" width="36.40" height="8.80" fill="url(#g_green)"/><rect x="613.80" y="593.10" width="99.40" height="8.80" fill="url(#g_grey)"/><rect x="713.20" y="593.10" width="34.60" height="8.80" fill="url(#g_yellow)"/><rect x="747.80" y="593.10" width="11.70" height="8.80" fill="url(#g_olive)"/><rect x="759.50" y="593.10" width="12.30" height="8.80" fill="url(#g_p7)"/><path d="M577.40 593.40 H613.80 M577.40 601.60 H613.80" stroke="#22594a" stroke-width="0.9" stroke-opacity="0.75" fill="none"/><path d="M713.20 593.40 H747.80 M713.20 601.60 H747.80" stroke="#a37d37" stroke-width="0.9" stroke-opacity="0.75" fill="none"/><path d="M747.80 593.40 H759.50 M747.80 601.60 H759.50" stroke="#515b2d" stroke-width="0.9" stroke-opacity="0.75" fill="none"/><path d="M759.50 593.40 H771.80 M759.50 601.60 H771.80" stroke="#233c5e" stroke-width="0.9" stroke-opacity="0.75" fill="none"/><line x1="613.80" y1="593.10" x2="613.80" y2="601.90" stroke="#000" stroke-opacity="0.18" stroke-width="0.6"/><line x1="713.20" y1="593.10" x2="713.20" y2="601.90" stroke="#000" stroke-opacity="0.18" stroke-width="0.6"/><line x1="747.80" y1="593.10" x2="747.80" y2="601.90" stroke="#000" stroke-opacity="0.18" stroke-width="0.6"/><line x1="759.50" y1="593.10" x2="759.50" y2="601.90" stroke="#000" stroke-opacity="0.18" stroke-width="0.6"/></g><ellipse cx="579.10" cy="597.50" rx="1.50" ry="4.00" fill="#fff" fill-opacity="0.14" stroke="#000" stroke-opacity="0.32" stroke-width="0.6"/><rect x="577.40" y="593.10" width="194.40" height="8.80" rx="2.00" ry="3.20" fill="none" stroke="#000" stroke-opacity="0.27" stroke-width="0.7"/></g>
<text x="542.70" y="589.20" font-size="8.4" fill="#000" stroke="#000" stroke-width="0.28">5<tspan font-size="10.5" dx="0.7" dy="2.7">´</tspan></text>
<text x="566.20" y="600.60" font-size="8.4" fill="#000" stroke="#000" stroke-width="0.28">3<tspan font-size="10.5" dx="0.7" dy="2.7">´</tspan></text>
<text x="775.20" y="600.60" font-size="8.4" fill="#000" stroke="#000" stroke-width="0.28">5<tspan font-size="10.5" dx="0.7" dy="2.7">´</tspan></text>
<text x="555.80" y="579.40" font-size="8.8" fill="#d9571c" stroke="#d9571c" stroke-width="0.3">P<tspan font-size="7.8">5</tspan></text>
<text x="742.00" y="553.80" font-size="8.8" fill="#52621c" stroke="#52621c" stroke-width="0.28">BC<tspan font-size="7.8">1</tspan></text>
<text x="761.70" y="553.80" font-size="8.8" fill="#17365f" font-weight="bold">P<tspan font-size="7.8">7</tspan></text>
<line x1="665.80" y1="609.50" x2="665.80" y2="621.46" stroke="#6d6e71" stroke-width="1.15"/>
<polygon points="665.80,626.50 662.30,619.30 665.80,621.03 669.30,619.30" fill="#6d6e71"/>
<g><g clip-path="url(#c73)"><rect x="554.00" y="632.40" width="14.30" height="8.80" fill="url(#g_orange)"/><rect x="568.30" y="632.40" width="11.70" height="8.80" fill="url(#g_bc2)"/><rect x="580.00" y="632.40" width="33.80" height="8.80" fill="url(#g_green)"/><rect x="613.80" y="632.40" width="99.40" height="8.80" fill="url(#g_grey)"/><rect x="713.20" y="632.40" width="34.60" height="8.80" fill="url(#g_yellow)"/><rect x="747.80" y="632.40" width="11.70" height="8.80" fill="url(#g_olive)"/><rect x="759.50" y="632.40" width="12.30" height="8.80" fill="url(#g_p7)"/><path d="M554.00 632.70 H568.30 M554.00 640.90 H568.30" stroke="#9f481d" stroke-width="0.9" stroke-opacity="0.75" fill="none"/><path d="M568.30 632.70 H580.00 M568.30 640.90 H580.00" stroke="#964c48" stroke-width="0.9" stroke-opacity="0.75" fill="none"/><path d="M580.00 632.70 H613.80 M580.00 640.90 H613.80" stroke="#22594a" stroke-width="0.9" stroke-opacity="0.75" fill="none"/><path d="M713.20 632.70 H747.80 M713.20 640.90 H747.80" stroke="#a37d37" stroke-width="0.9" stroke-opacity="0.75" fill="none"/><path d="M747.80 632.70 H759.50 M747.80 640.90 H759.50" stroke="#515b2d" stroke-width="0.9" stroke-opacity="0.75" fill="none"/><path d="M759.50 632.70 H771.80 M759.50 640.90 H771.80" stroke="#233c5e" stroke-width="0.9" stroke-opacity="0.75" fill="none"/><line x1="568.30" y1="632.40" x2="568.30" y2="641.20" stroke="#000" stroke-opacity="0.18" stroke-width="0.6"/><line x1="580.00" y1="632.40" x2="580.00" y2="641.20" stroke="#000" stroke-opacity="0.18" stroke-width="0.6"/><line x1="613.80" y1="632.40" x2="613.80" y2="641.20" stroke="#000" stroke-opacity="0.18" stroke-width="0.6"/><line x1="713.20" y1="632.40" x2="713.20" y2="641.20" stroke="#000" stroke-opacity="0.18" stroke-width="0.6"/><line x1="747.80" y1="632.40" x2="747.80" y2="641.20" stroke="#000" stroke-opacity="0.18" stroke-width="0.6"/><line x1="759.50" y1="632.40" x2="759.50" y2="641.20" stroke="#000" stroke-opacity="0.18" stroke-width="0.6"/></g><ellipse cx="555.70" cy="636.80" rx="1.50" ry="4.00" fill="#fff" fill-opacity="0.14" stroke="#000" stroke-opacity="0.32" stroke-width="0.6"/><rect x="554.00" y="632.40" width="217.80" height="8.80" rx="2.00" ry="3.20" fill="none" stroke="#000" stroke-opacity="0.27" stroke-width="0.7"/></g>
<g><g clip-path="url(#c74)"><rect x="577.40" y="643.50" width="36.40" height="8.80" fill="url(#g_green)"/><rect x="613.80" y="643.50" width="99.40" height="8.80" fill="url(#g_grey)"/><rect x="713.20" y="643.50" width="34.60" height="8.80" fill="url(#g_yellow)"/><rect x="747.80" y="643.50" width="11.70" height="8.80" fill="url(#g_olive)"/><rect x="759.50" y="643.50" width="12.30" height="8.80" fill="url(#g_p7)"/><path d="M577.40 643.80 H613.80 M577.40 652.00 H613.80" stroke="#22594a" stroke-width="0.9" stroke-opacity="0.75" fill="none"/><path d="M713.20 643.80 H747.80 M713.20 652.00 H747.80" stroke="#a37d37" stroke-width="0.9" stroke-opacity="0.75" fill="none"/><path d="M747.80 643.80 H759.50 M747.80 652.00 H759.50" stroke="#515b2d" stroke-width="0.9" stroke-opacity="0.75" fill="none"/><path d="M759.50 643.80 H771.80 M759.50 652.00 H771.80" stroke="#233c5e" stroke-width="0.9" stroke-opacity="0.75" fill="none"/><line x1="613.80" y1="643.50" x2="613.80" y2="652.30" stroke="#000" stroke-opacity="0.18" stroke-width="0.6"/><line x1="713.20" y1="643.50" x2="713.20" y2="652.30" stroke="#000" stroke-opacity="0.18" stroke-width="0.6"/><line x1="747.80" y1="643.50" x2="747.80" y2="652.30" stroke="#000" stroke-opacity="0.18" stroke-width="0.6"/><line x1="759.50" y1="643.50" x2="759.50" y2="652.30" stroke="#000" stroke-opacity="0.18" stroke-width="0.6"/></g><ellipse cx="579.10" cy="647.90" rx="1.50" ry="4.00" fill="#fff" fill-opacity="0.14" stroke="#000" stroke-opacity="0.32" stroke-width="0.6"/><rect x="577.40" y="643.50" width="194.40" height="8.80" rx="2.00" ry="3.20" fill="none" stroke="#000" stroke-opacity="0.27" stroke-width="0.7"/></g>
<text x="542.70" y="639.70" font-size="8.4" fill="#000" stroke="#000" stroke-width="0.28">5<tspan font-size="10.5" dx="0.7" dy="2.7">´</tspan></text>
<text x="566.20" y="651.00" font-size="8.4" fill="#000" stroke="#000" stroke-width="0.28">3<tspan font-size="10.5" dx="0.7" dy="2.7">´</tspan></text>
<text x="775.20" y="639.70" font-size="8.4" fill="#000" stroke="#000" stroke-width="0.28">3<tspan font-size="10.5" dx="0.7" dy="2.7">´</tspan></text>
<text x="775.20" y="651.00" font-size="8.4" fill="#000" stroke="#000" stroke-width="0.28">5<tspan font-size="10.5" dx="0.7" dy="2.7">´</tspan></text>
<g><g clip-path="url(#c75)"><rect x="554.00" y="665.50" width="14.30" height="8.80" fill="url(#g_orange)"/><rect x="568.30" y="665.50" width="11.70" height="8.80" fill="url(#g_bc2)"/><rect x="580.00" y="665.50" width="33.80" height="8.80" fill="url(#g_green)"/><rect x="613.80" y="665.50" width="99.40" height="8.80" fill="url(#g_grey)"/><rect x="713.20" y="665.50" width="34.60" height="8.80" fill="url(#g_yellow)"/><rect x="747.80" y="665.50" width="11.70" height="8.80" fill="url(#g_olive)"/><rect x="759.50" y="665.50" width="12.30" height="8.80" fill="url(#g_p7)"/><path d="M554.00 665.80 H568.30 M554.00 674.00 H568.30" stroke="#9f481d" stroke-width="0.9" stroke-opacity="0.75" fill="none"/><path d="M568.30 665.80 H580.00 M568.30 674.00 H580.00" stroke="#964c48" stroke-width="0.9" stroke-opacity="0.75" fill="none"/><path d="M580.00 665.80 H613.80 M580.00 674.00 H613.80" stroke="#22594a" stroke-width="0.9" stroke-opacity="0.75" fill="none"/><path d="M713.20 665.80 H747.80 M713.20 674.00 H747.80" stroke="#a37d37" stroke-width="0.9" stroke-opacity="0.75" fill="none"/><path d="M747.80 665.80 H759.50 M747.80 674.00 H759.50" stroke="#515b2d" stroke-width="0.9" stroke-opacity="0.75" fill="none"/><path d="M759.50 665.80 H771.80 M759.50 674.00 H771.80" stroke="#233c5e" stroke-width="0.9" stroke-opacity="0.75" fill="none"/><line x1="568.30" y1="665.50" x2="568.30" y2="674.30" stroke="#000" stroke-opacity="0.18" stroke-width="0.6"/><line x1="580.00" y1="665.50" x2="580.00" y2="674.30" stroke="#000" stroke-opacity="0.18" stroke-width="0.6"/><line x1="613.80" y1="665.50" x2="613.80" y2="674.30" stroke="#000" stroke-opacity="0.18" stroke-width="0.6"/><line x1="713.20" y1="665.50" x2="713.20" y2="674.30" stroke="#000" stroke-opacity="0.18" stroke-width="0.6"/><line x1="747.80" y1="665.50" x2="747.80" y2="674.30" stroke="#000" stroke-opacity="0.18" stroke-width="0.6"/><line x1="759.50" y1="665.50" x2="759.50" y2="674.30" stroke="#000" stroke-opacity="0.18" stroke-width="0.6"/></g><ellipse cx="555.70" cy="669.90" rx="1.50" ry="4.00" fill="#fff" fill-opacity="0.14" stroke="#000" stroke-opacity="0.32" stroke-width="0.6"/><rect x="554.00" y="665.50" width="217.80" height="8.80" rx="2.00" ry="3.20" fill="none" stroke="#000" stroke-opacity="0.27" stroke-width="0.7"/></g>
<g><g clip-path="url(#c76)"><rect x="577.40" y="676.60" width="36.40" height="8.80" fill="url(#g_green)"/><rect x="613.80" y="676.60" width="99.40" height="8.80" fill="url(#g_grey)"/><rect x="713.20" y="676.60" width="34.60" height="8.80" fill="url(#g_yellow)"/><rect x="747.80" y="676.60" width="11.70" height="8.80" fill="url(#g_olive)"/><rect x="759.50" y="676.60" width="12.30" height="8.80" fill="url(#g_p7)"/><path d="M577.40 676.90 H613.80 M577.40 685.10 H613.80" stroke="#22594a" stroke-width="0.9" stroke-opacity="0.75" fill="none"/><path d="M713.20 676.90 H747.80 M713.20 685.10 H747.80" stroke="#a37d37" stroke-width="0.9" stroke-opacity="0.75" fill="none"/><path d="M747.80 676.90 H759.50 M747.80 685.10 H759.50" stroke="#515b2d" stroke-width="0.9" stroke-opacity="0.75" fill="none"/><path d="M759.50 676.90 H771.80 M759.50 685.10 H771.80" stroke="#233c5e" stroke-width="0.9" stroke-opacity="0.75" fill="none"/><line x1="613.80" y1="676.60" x2="613.80" y2="685.40" stroke="#000" stroke-opacity="0.18" stroke-width="0.6"/><line x1="713.20" y1="676.60" x2="713.20" y2="685.40" stroke="#000" stroke-opacity="0.18" stroke-width="0.6"/><line x1="747.80" y1="676.60" x2="747.80" y2="685.40" stroke="#000" stroke-opacity="0.18" stroke-width="0.6"/><line x1="759.50" y1="676.60" x2="759.50" y2="685.40" stroke="#000" stroke-opacity="0.18" stroke-width="0.6"/></g><ellipse cx="579.10" cy="681.00" rx="1.50" ry="4.00" fill="#fff" fill-opacity="0.14" stroke="#000" stroke-opacity="0.32" stroke-width="0.6"/><rect x="577.40" y="676.60" width="194.40" height="8.80" rx="2.00" ry="3.20" fill="none" stroke="#000" stroke-opacity="0.27" stroke-width="0.7"/></g>
<text x="542.70" y="672.80" font-size="8.4" fill="#000" stroke="#000" stroke-width="0.28">5<tspan font-size="10.5" dx="0.7" dy="2.7">´</tspan></text>
<text x="566.20" y="684.10" font-size="8.4" fill="#000" stroke="#000" stroke-width="0.28">3<tspan font-size="10.5" dx="0.7" dy="2.7">´</tspan></text>
<text x="775.20" y="672.80" font-size="8.4" fill="#000" stroke="#000" stroke-width="0.28">3<tspan font-size="10.5" dx="0.7" dy="2.7">´</tspan></text>
<text x="775.20" y="684.10" font-size="8.4" fill="#000" stroke="#000" stroke-width="0.28">5<tspan font-size="10.5" dx="0.7" dy="2.7">´</tspan></text>
<line x1="665.80" y1="693.00" x2="665.80" y2="702.46" stroke="#6d6e71" stroke-width="1.15"/>
<polygon points="665.80,707.50 662.30,700.30 665.80,702.03 669.30,700.30" fill="#6d6e71"/>
<line x1="665.80" y1="711.00" x2="665.80" y2="719.96" stroke="#6d6e71" stroke-width="1.15"/>
<polygon points="665.80,725.00 662.30,717.80 665.80,719.53 669.30,717.80" fill="#6d6e71"/>
<g><g clip-path="url(#c77)"><rect x="554.00" y="732.00" width="14.30" height="8.80" fill="url(#g_orange)"/><rect x="568.30" y="732.00" width="11.70" height="8.80" fill="url(#g_bc2)"/><rect x="580.00" y="732.00" width="33.80" height="8.80" fill="url(#g_green)"/><rect x="613.80" y="732.00" width="99.40" height="8.80" fill="url(#g_grey)"/><rect x="713.20" y="732.00" width="34.60" height="8.80" fill="url(#g_yellow)"/><rect x="747.80" y="732.00" width="11.70" height="8.80" fill="url(#g_olive)"/><rect x="759.50" y="732.00" width="12.30" height="8.80" fill="url(#g_p7)"/><path d="M554.00 732.30 H568.30 M554.00 740.50 H568.30" stroke="#9f481d" stroke-width="0.9" stroke-opacity="0.75" fill="none"/><path d="M568.30 732.30 H580.00 M568.30 740.50 H580.00" stroke="#964c48" stroke-width="0.9" stroke-opacity="0.75" fill="none"/><path d="M580.00 732.30 H613.80 M580.00 740.50 H613.80" stroke="#22594a" stroke-width="0.9" stroke-opacity="0.75" fill="none"/><path d="M713.20 732.30 H747.80 M713.20 740.50 H747.80" stroke="#a37d37" stroke-width="0.9" stroke-opacity="0.75" fill="none"/><path d="M747.80 732.30 H759.50 M747.80 740.50 H759.50" stroke="#515b2d" stroke-width="0.9" stroke-opacity="0.75" fill="none"/><path d="M759.50 732.30 H771.80 M759.50 740.50 H771.80" stroke="#233c5e" stroke-width="0.9" stroke-opacity="0.75" fill="none"/><line x1="568.30" y1="732.00" x2="568.30" y2="740.80" stroke="#000" stroke-opacity="0.18" stroke-width="0.6"/><line x1="580.00" y1="732.00" x2="580.00" y2="740.80" stroke="#000" stroke-opacity="0.18" stroke-width="0.6"/><line x1="613.80" y1="732.00" x2="613.80" y2="740.80" stroke="#000" stroke-opacity="0.18" stroke-width="0.6"/><line x1="713.20" y1="732.00" x2="713.20" y2="740.80" stroke="#000" stroke-opacity="0.18" stroke-width="0.6"/><line x1="747.80" y1="732.00" x2="747.80" y2="740.80" stroke="#000" stroke-opacity="0.18" stroke-width="0.6"/><line x1="759.50" y1="732.00" x2="759.50" y2="740.80" stroke="#000" stroke-opacity="0.18" stroke-width="0.6"/></g><ellipse cx="555.70" cy="736.40" rx="1.50" ry="4.00" fill="#fff" fill-opacity="0.14" stroke="#000" stroke-opacity="0.32" stroke-width="0.6"/><rect x="554.00" y="732.00" width="217.80" height="8.80" rx="2.00" ry="3.20" fill="none" stroke="#000" stroke-opacity="0.27" stroke-width="0.7"/></g>
<g><g clip-path="url(#c78)"><rect x="554.00" y="742.70" width="14.30" height="8.80" fill="url(#g_orange)"/><rect x="568.30" y="742.70" width="11.70" height="8.80" fill="url(#g_bc2)"/><rect x="580.00" y="742.70" width="33.80" height="8.80" fill="url(#g_green)"/><rect x="613.80" y="742.70" width="99.40" height="8.80" fill="url(#g_grey)"/><rect x="713.20" y="742.70" width="34.60" height="8.80" fill="url(#g_yellow)"/><rect x="747.80" y="742.70" width="11.70" height="8.80" fill="url(#g_olive)"/><rect x="759.50" y="742.70" width="12.30" height="8.80" fill="url(#g_p7)"/><path d="M554.00 743.00 H568.30 M554.00 751.20 H568.30" stroke="#9f481d" stroke-width="0.9" stroke-opacity="0.75" fill="none"/><path d="M568.30 743.00 H580.00 M568.30 751.20 H580.00" stroke="#964c48" stroke-width="0.9" stroke-opacity="0.75" fill="none"/><path d="M580.00 743.00 H613.80 M580.00 751.20 H613.80" stroke="#22594a" stroke-width="0.9" stroke-opacity="0.75" fill="none"/><path d="M713.20 743.00 H747.80 M713.20 751.20 H747.80" stroke="#a37d37" stroke-width="0.9" stroke-opacity="0.75" fill="none"/><path d="M747.80 743.00 H759.50 M747.80 751.20 H759.50" stroke="#515b2d" stroke-width="0.9" stroke-opacity="0.75" fill="none"/><path d="M759.50 743.00 H771.80 M759.50 751.20 H771.80" stroke="#233c5e" stroke-width="0.9" stroke-opacity="0.75" fill="none"/><line x1="568.30" y1="742.70" x2="568.30" y2="751.50" stroke="#000" stroke-opacity="0.18" stroke-width="0.6"/><line x1="580.00" y1="742.70" x2="580.00" y2="751.50" stroke="#000" stroke-opacity="0.18" stroke-width="0.6"/><line x1="613.80" y1="742.70" x2="613.80" y2="751.50" stroke="#000" stroke-opacity="0.18" stroke-width="0.6"/><line x1="713.20" y1="742.70" x2="713.20" y2="751.50" stroke="#000" stroke-opacity="0.18" stroke-width="0.6"/><line x1="747.80" y1="742.70" x2="747.80" y2="751.50" stroke="#000" stroke-opacity="0.18" stroke-width="0.6"/><line x1="759.50" y1="742.70" x2="759.50" y2="751.50" stroke="#000" stroke-opacity="0.18" stroke-width="0.6"/></g><ellipse cx="555.70" cy="747.10" rx="1.50" ry="4.00" fill="#fff" fill-opacity="0.14" stroke="#000" stroke-opacity="0.32" stroke-width="0.6"/><rect x="554.00" y="742.70" width="217.80" height="8.80" rx="2.00" ry="3.20" fill="none" stroke="#000" stroke-opacity="0.27" stroke-width="0.7"/></g>
<text x="542.70" y="739.30" font-size="8.4" fill="#000" stroke="#000" stroke-width="0.28">5<tspan font-size="10.5" dx="0.7" dy="2.7">´</tspan></text>
<text x="542.70" y="750.20" font-size="8.4" fill="#000" stroke="#000" stroke-width="0.28">3<tspan font-size="10.5" dx="0.7" dy="2.7">´</tspan></text>
<text x="775.20" y="739.30" font-size="8.4" fill="#000" stroke="#000" stroke-width="0.28">3<tspan font-size="10.5" dx="0.7" dy="2.7">´</tspan></text>
<text x="775.20" y="750.20" font-size="8.4" fill="#000" stroke="#000" stroke-width="0.28">5<tspan font-size="10.5" dx="0.7" dy="2.7">´</tspan></text>
<g><g clip-path="url(#c79)"><rect x="554.00" y="764.50" width="14.30" height="8.80" fill="url(#g_orange)"/><rect x="568.30" y="764.50" width="11.70" height="8.80" fill="url(#g_bc2)"/><rect x="580.00" y="764.50" width="33.80" height="8.80" fill="url(#g_green)"/><rect x="613.80" y="764.50" width="99.40" height="8.80" fill="url(#g_grey)"/><rect x="713.20" y="764.50" width="34.60" height="8.80" fill="url(#g_yellow)"/><rect x="747.80" y="764.50" width="11.70" height="8.80" fill="url(#g_olive)"/><rect x="759.50" y="764.50" width="12.30" height="8.80" fill="url(#g_p7)"/><path d="M554.00 764.80 H568.30 M554.00 773.00 H568.30" stroke="#9f481d" stroke-width="0.9" stroke-opacity="0.75" fill="none"/><path d="M568.30 764.80 H580.00 M568.30 773.00 H580.00" stroke="#964c48" stroke-width="0.9" stroke-opacity="0.75" fill="none"/><path d="M580.00 764.80 H613.80 M580.00 773.00 H613.80" stroke="#22594a" stroke-width="0.9" stroke-opacity="0.75" fill="none"/><path d="M713.20 764.80 H747.80 M713.20 773.00 H747.80" stroke="#a37d37" stroke-width="0.9" stroke-opacity="0.75" fill="none"/><path d="M747.80 764.80 H759.50 M747.80 773.00 H759.50" stroke="#515b2d" stroke-width="0.9" stroke-opacity="0.75" fill="none"/><path d="M759.50 764.80 H771.80 M759.50 773.00 H771.80" stroke="#233c5e" stroke-width="0.9" stroke-opacity="0.75" fill="none"/><line x1="568.30" y1="764.50" x2="568.30" y2="773.30" stroke="#000" stroke-opacity="0.18" stroke-width="0.6"/><line x1="580.00" y1="764.50" x2="580.00" y2="773.30" stroke="#000" stroke-opacity="0.18" stroke-width="0.6"/><line x1="613.80" y1="764.50" x2="613.80" y2="773.30" stroke="#000" stroke-opacity="0.18" stroke-width="0.6"/><line x1="713.20" y1="764.50" x2="713.20" y2="773.30" stroke="#000" stroke-opacity="0.18" stroke-width="0.6"/><line x1="747.80" y1="764.50" x2="747.80" y2="773.30" stroke="#000" stroke-opacity="0.18" stroke-width="0.6"/><line x1="759.50" y1="764.50" x2="759.50" y2="773.30" stroke="#000" stroke-opacity="0.18" stroke-width="0.6"/></g><ellipse cx="555.70" cy="768.90" rx="1.50" ry="4.00" fill="#fff" fill-opacity="0.14" stroke="#000" stroke-opacity="0.32" stroke-width="0.6"/><rect x="554.00" y="764.50" width="217.80" height="8.80" rx="2.00" ry="3.20" fill="none" stroke="#000" stroke-opacity="0.27" stroke-width="0.7"/></g>
<g><g clip-path="url(#c80)"><rect x="554.00" y="775.20" width="14.30" height="8.80" fill="url(#g_orange)"/><rect x="568.30" y="775.20" width="11.70" height="8.80" fill="url(#g_bc2)"/><rect x="580.00" y="775.20" width="33.80" height="8.80" fill="url(#g_green)"/><rect x="613.80" y="775.20" width="99.40" height="8.80" fill="url(#g_grey)"/><rect x="713.20" y="775.20" width="34.60" height="8.80" fill="url(#g_yellow)"/><rect x="747.80" y="775.20" width="11.70" height="8.80" fill="url(#g_olive)"/><rect x="759.50" y="775.20" width="12.30" height="8.80" fill="url(#g_p7)"/><path d="M554.00 775.50 H568.30 M554.00 783.70 H568.30" stroke="#9f481d" stroke-width="0.9" stroke-opacity="0.75" fill="none"/><path d="M568.30 775.50 H580.00 M568.30 783.70 H580.00" stroke="#964c48" stroke-width="0.9" stroke-opacity="0.75" fill="none"/><path d="M580.00 775.50 H613.80 M580.00 783.70 H613.80" stroke="#22594a" stroke-width="0.9" stroke-opacity="0.75" fill="none"/><path d="M713.20 775.50 H747.80 M713.20 783.70 H747.80" stroke="#a37d37" stroke-width="0.9" stroke-opacity="0.75" fill="none"/><path d="M747.80 775.50 H759.50 M747.80 783.70 H759.50" stroke="#515b2d" stroke-width="0.9" stroke-opacity="0.75" fill="none"/><path d="M759.50 775.50 H771.80 M759.50 783.70 H771.80" stroke="#233c5e" stroke-width="0.9" stroke-opacity="0.75" fill="none"/><line x1="568.30" y1="775.20" x2="568.30" y2="784.00" stroke="#000" stroke-opacity="0.18" stroke-width="0.6"/><line x1="580.00" y1="775.20" x2="580.00" y2="784.00" stroke="#000" stroke-opacity="0.18" stroke-width="0.6"/><line x1="613.80" y1="775.20" x2="613.80" y2="784.00" stroke="#000" stroke-opacity="0.18" stroke-width="0.6"/><line x1="713.20" y1="775.20" x2="713.20" y2="784.00" stroke="#000" stroke-opacity="0.18" stroke-width="0.6"/><line x1="747.80" y1="775.20" x2="747.80" y2="784.00" stroke="#000" stroke-opacity="0.18" stroke-width="0.6"/><line x1="759.50" y1="775.20" x2="759.50" y2="784.00" stroke="#000" stroke-opacity="0.18" stroke-width="0.6"/></g><ellipse cx="555.70" cy="779.60" rx="1.50" ry="4.00" fill="#fff" fill-opacity="0.14" stroke="#000" stroke-opacity="0.32" stroke-width="0.6"/><rect x="554.00" y="775.20" width="217.80" height="8.80" rx="2.00" ry="3.20" fill="none" stroke="#000" stroke-opacity="0.27" stroke-width="0.7"/></g>
<text x="542.70" y="771.80" font-size="8.4" fill="#000" stroke="#000" stroke-width="0.28">5<tspan font-size="10.5" dx="0.7" dy="2.7">´</tspan></text>
<text x="542.70" y="782.70" font-size="8.4" fill="#000" stroke="#000" stroke-width="0.28">3<tspan font-size="10.5" dx="0.7" dy="2.7">´</tspan></text>
<text x="775.20" y="771.80" font-size="8.4" fill="#000" stroke="#000" stroke-width="0.28">3<tspan font-size="10.5" dx="0.7" dy="2.7">´</tspan></text>
<text x="775.20" y="782.70" font-size="8.4" fill="#000" stroke="#000" stroke-width="0.28">5<tspan font-size="10.5" dx="0.7" dy="2.7">´</tspan></text>
<g><g clip-path="url(#c81)"><rect x="554.00" y="797.00" width="14.30" height="8.80" fill="url(#g_orange)"/><rect x="568.30" y="797.00" width="11.70" height="8.80" fill="url(#g_bc2)"/><rect x="580.00" y="797.00" width="33.80" height="8.80" fill="url(#g_green)"/><rect x="613.80" y="797.00" width="99.40" height="8.80" fill="url(#g_grey)"/><rect x="713.20" y="797.00" width="34.60" height="8.80" fill="url(#g_yellow)"/><rect x="747.80" y="797.00" width="11.70" height="8.80" fill="url(#g_olive)"/><rect x="759.50" y="797.00" width="12.30" height="8.80" fill="url(#g_p7)"/><path d="M554.00 797.30 H568.30 M554.00 805.50 H568.30" stroke="#9f481d" stroke-width="0.9" stroke-opacity="0.75" fill="none"/><path d="M568.30 797.30 H580.00 M568.30 805.50 H580.00" stroke="#964c48" stroke-width="0.9" stroke-opacity="0.75" fill="none"/><path d="M580.00 797.30 H613.80 M580.00 805.50 H613.80" stroke="#22594a" stroke-width="0.9" stroke-opacity="0.75" fill="none"/><path d="M713.20 797.30 H747.80 M713.20 805.50 H747.80" stroke="#a37d37" stroke-width="0.9" stroke-opacity="0.75" fill="none"/><path d="M747.80 797.30 H759.50 M747.80 805.50 H759.50" stroke="#515b2d" stroke-width="0.9" stroke-opacity="0.75" fill="none"/><path d="M759.50 797.30 H771.80 M759.50 805.50 H771.80" stroke="#233c5e" stroke-width="0.9" stroke-opacity="0.75" fill="none"/><line x1="568.30" y1="797.00" x2="568.30" y2="805.80" stroke="#000" stroke-opacity="0.18" stroke-width="0.6"/><line x1="580.00" y1="797.00" x2="580.00" y2="805.80" stroke="#000" stroke-opacity="0.18" stroke-width="0.6"/><line x1="613.80" y1="797.00" x2="613.80" y2="805.80" stroke="#000" stroke-opacity="0.18" stroke-width="0.6"/><line x1="713.20" y1="797.00" x2="713.20" y2="805.80" stroke="#000" stroke-opacity="0.18" stroke-width="0.6"/><line x1="747.80" y1="797.00" x2="747.80" y2="805.80" stroke="#000" stroke-opacity="0.18" stroke-width="0.6"/><line x1="759.50" y1="797.00" x2="759.50" y2="805.80" stroke="#000" stroke-opacity="0.18" stroke-width="0.6"/></g><ellipse cx="555.70" cy="801.40" rx="1.50" ry="4.00" fill="#fff" fill-opacity="0.14" stroke="#000" stroke-opacity="0.32" stroke-width="0.6"/><rect x="554.00" y="797.00" width="217.80" height="8.80" rx="2.00" ry="3.20" fill="none" stroke="#000" stroke-opacity="0.27" stroke-width="0.7"/></g>
<g><g clip-path="url(#c82)"><rect x="554.00" y="807.70" width="14.30" height="8.80" fill="url(#g_orange)"/><rect x="568.30" y="807.70" width="11.70" height="8.80" fill="url(#g_bc2)"/><rect x="580.00" y="807.70" width="33.80" height="8.80" fill="url(#g_green)"/><rect x="613.80" y="807.70" width="99.40" height="8.80" fill="url(#g_grey)"/><rect x="713.20" y="807.70" width="34.60" height="8.80" fill="url(#g_yellow)"/><rect x="747.80" y="807.70" width="11.70" height="8.80" fill="url(#g_olive)"/><rect x="759.50" y="807.70" width="12.30" height="8.80" fill="url(#g_p7)"/><path d="M554.00 808.00 H568.30 M554.00 816.20 H568.30" stroke="#9f481d" stroke-width="0.9" stroke-opacity="0.75" fill="none"/><path d="M568.30 808.00 H580.00 M568.30 816.20 H580.00" stroke="#964c48" stroke-width="0.9" stroke-opacity="0.75" fill="none"/><path d="M580.00 808.00 H613.80 M580.00 816.20 H613.80" stroke="#22594a" stroke-width="0.9" stroke-opacity="0.75" fill="none"/><path d="M713.20 808.00 H747.80 M713.20 816.20 H747.80" stroke="#a37d37" stroke-width="0.9" stroke-opacity="0.75" fill="none"/><path d="M747.80 808.00 H759.50 M747.80 816.20 H759.50" stroke="#515b2d" stroke-width="0.9" stroke-opacity="0.75" fill="none"/><path d="M759.50 808.00 H771.80 M759.50 816.20 H771.80" stroke="#233c5e" stroke-width="0.9" stroke-opacity="0.75" fill="none"/><line x1="568.30" y1="807.70" x2="568.30" y2="816.50" stroke="#000" stroke-opacity="0.18" stroke-width="0.6"/><line x1="580.00" y1="807.70" x2="580.00" y2="816.50" stroke="#000" stroke-opacity="0.18" stroke-width="0.6"/><line x1="613.80" y1="807.70" x2="613.80" y2="816.50" stroke="#000" stroke-opacity="0.18" stroke-width="0.6"/><line x1="713.20" y1="807.70" x2="713.20" y2="816.50" stroke="#000" stroke-opacity="0.18" stroke-width="0.6"/><line x1="747.80" y1="807.70" x2="747.80" y2="816.50" stroke="#000" stroke-opacity="0.18" stroke-width="0.6"/><line x1="759.50" y1="807.70" x2="759.50" y2="816.50" stroke="#000" stroke-opacity="0.18" stroke-width="0.6"/></g><ellipse cx="555.70" cy="812.10" rx="1.50" ry="4.00" fill="#fff" fill-opacity="0.14" stroke="#000" stroke-opacity="0.32" stroke-width="0.6"/><rect x="554.00" y="807.70" width="217.80" height="8.80" rx="2.00" ry="3.20" fill="none" stroke="#000" stroke-opacity="0.27" stroke-width="0.7"/></g>
<text x="542.70" y="804.30" font-size="8.4" fill="#000" stroke="#000" stroke-width="0.28">5<tspan font-size="10.5" dx="0.7" dy="2.7">´</tspan></text>
<text x="542.70" y="815.20" font-size="8.4" fill="#000" stroke="#000" stroke-width="0.28">3<tspan font-size="10.5" dx="0.7" dy="2.7">´</tspan></text>
<text x="775.20" y="804.30" font-size="8.4" fill="#000" stroke="#000" stroke-width="0.28">3<tspan font-size="10.5" dx="0.7" dy="2.7">´</tspan></text>
<text x="775.20" y="815.20" font-size="8.4" fill="#000" stroke="#000" stroke-width="0.28">5<tspan font-size="10.5" dx="0.7" dy="2.7">´</tspan></text>
<g><g clip-path="url(#c83)"><rect x="554.00" y="829.50" width="14.30" height="8.80" fill="url(#g_orange)"/><rect x="568.30" y="829.50" width="11.70" height="8.80" fill="url(#g_bc2)"/><rect x="580.00" y="829.50" width="33.80" height="8.80" fill="url(#g_green)"/><rect x="613.80" y="829.50" width="99.40" height="8.80" fill="url(#g_grey)"/><rect x="713.20" y="829.50" width="34.60" height="8.80" fill="url(#g_yellow)"/><rect x="747.80" y="829.50" width="11.70" height="8.80" fill="url(#g_olive)"/><rect x="759.50" y="829.50" width="12.30" height="8.80" fill="url(#g_p7)"/><path d="M554.00 829.80 H568.30 M554.00 838.00 H568.30" stroke="#9f481d" stroke-width="0.9" stroke-opacity="0.75" fill="none"/><path d="M568.30 829.80 H580.00 M568.30 838.00 H580.00" stroke="#964c48" stroke-width="0.9" stroke-opacity="0.75" fill="none"/><path d="M580.00 829.80 H613.80 M580.00 838.00 H613.80" stroke="#22594a" stroke-width="0.9" stroke-opacity="0.75" fill="none"/><path d="M713.20 829.80 H747.80 M713.20 838.00 H747.80" stroke="#a37d37" stroke-width="0.9" stroke-opacity="0.75" fill="none"/><path d="M747.80 829.80 H759.50 M747.80 838.00 H759.50" stroke="#515b2d" stroke-width="0.9" stroke-opacity="0.75" fill="none"/><path d="M759.50 829.80 H771.80 M759.50 838.00 H771.80" stroke="#233c5e" stroke-width="0.9" stroke-opacity="0.75" fill="none"/><line x1="568.30" y1="829.50" x2="568.30" y2="838.30" stroke="#000" stroke-opacity="0.18" stroke-width="0.6"/><line x1="580.00" y1="829.50" x2="580.00" y2="838.30" stroke="#000" stroke-opacity="0.18" stroke-width="0.6"/><line x1="613.80" y1="829.50" x2="613.80" y2="838.30" stroke="#000" stroke-opacity="0.18" stroke-width="0.6"/><line x1="713.20" y1="829.50" x2="713.20" y2="838.30" stroke="#000" stroke-opacity="0.18" stroke-width="0.6"/><line x1="747.80" y1="829.50" x2="747.80" y2="838.30" stroke="#000" stroke-opacity="0.18" stroke-width="0.6"/><line x1="759.50" y1="829.50" x2="759.50" y2="838.30" stroke="#000" stroke-opacity="0.18" stroke-width="0.6"/></g><ellipse cx="555.70" cy="833.90" rx="1.50" ry="4.00" fill="#fff" fill-opacity="0.14" stroke="#000" stroke-opacity="0.32" stroke-width="0.6"/><rect x="554.00" y="829.50" width="217.80" height="8.80" rx="2.00" ry="3.20" fill="none" stroke="#000" stroke-opacity="0.27" stroke-width="0.7"/></g>
<g><g clip-path="url(#c84)"><rect x="554.00" y="840.20" width="14.30" height="8.80" fill="url(#g_orange)"/><rect x="568.30" y="840.20" width="11.70" height="8.80" fill="url(#g_bc2)"/><rect x="580.00" y="840.20" width="33.80" height="8.80" fill="url(#g_green)"/><rect x="613.80" y="840.20" width="99.40" height="8.80" fill="url(#g_grey)"/><rect x="713.20" y="840.20" width="34.60" height="8.80" fill="url(#g_yellow)"/><rect x="747.80" y="840.20" width="11.70" height="8.80" fill="url(#g_olive)"/><rect x="759.50" y="840.20" width="12.30" height="8.80" fill="url(#g_p7)"/><path d="M554.00 840.50 H568.30 M554.00 848.70 H568.30" stroke="#9f481d" stroke-width="0.9" stroke-opacity="0.75" fill="none"/><path d="M568.30 840.50 H580.00 M568.30 848.70 H580.00" stroke="#964c48" stroke-width="0.9" stroke-opacity="0.75" fill="none"/><path d="M580.00 840.50 H613.80 M580.00 848.70 H613.80" stroke="#22594a" stroke-width="0.9" stroke-opacity="0.75" fill="none"/><path d="M713.20 840.50 H747.80 M713.20 848.70 H747.80" stroke="#a37d37" stroke-width="0.9" stroke-opacity="0.75" fill="none"/><path d="M747.80 840.50 H759.50 M747.80 848.70 H759.50" stroke="#515b2d" stroke-width="0.9" stroke-opacity="0.75" fill="none"/><path d="M759.50 840.50 H771.80 M759.50 848.70 H771.80" stroke="#233c5e" stroke-width="0.9" stroke-opacity="0.75" fill="none"/><line x1="568.30" y1="840.20" x2="568.30" y2="849.00" stroke="#000" stroke-opacity="0.18" stroke-width="0.6"/><line x1="580.00" y1="840.20" x2="580.00" y2="849.00" stroke="#000" stroke-opacity="0.18" stroke-width="0.6"/><line x1="613.80" y1="840.20" x2="613.80" y2="849.00" stroke="#000" stroke-opacity="0.18" stroke-width="0.6"/><line x1="713.20" y1="840.20" x2="713.20" y2="849.00" stroke="#000" stroke-opacity="0.18" stroke-width="0.6"/><line x1="747.80" y1="840.20" x2="747.80" y2="849.00" stroke="#000" stroke-opacity="0.18" stroke-width="0.6"/><line x1="759.50" y1="840.20" x2="759.50" y2="849.00" stroke="#000" stroke-opacity="0.18" stroke-width="0.6"/></g><ellipse cx="555.70" cy="844.60" rx="1.50" ry="4.00" fill="#fff" fill-opacity="0.14" stroke="#000" stroke-opacity="0.32" stroke-width="0.6"/><rect x="554.00" y="840.20" width="217.80" height="8.80" rx="2.00" ry="3.20" fill="none" stroke="#000" stroke-opacity="0.27" stroke-width="0.7"/></g>
<text x="542.70" y="836.80" font-size="8.4" fill="#000" stroke="#000" stroke-width="0.28">5<tspan font-size="10.5" dx="0.7" dy="2.7">´</tspan></text>
<text x="542.70" y="847.70" font-size="8.4" fill="#000" stroke="#000" stroke-width="0.28">3<tspan font-size="10.5" dx="0.7" dy="2.7">´</tspan></text>
<text x="775.20" y="836.80" font-size="8.4" fill="#000" stroke="#000" stroke-width="0.28">3<tspan font-size="10.5" dx="0.7" dy="2.7">´</tspan></text>
<text x="775.20" y="847.70" font-size="8.4" fill="#000" stroke="#000" stroke-width="0.28">5<tspan font-size="10.5" dx="0.7" dy="2.7">´</tspan></text>
<line x1="541.50" y1="864.00" x2="541.50" y2="875.76" stroke="#6d6e71" stroke-width="1.15"/>
<polygon points="541.50,880.80 538.00,873.60 541.50,875.33 545.00,873.60" fill="#6d6e71"/>
<rect x="291.50" y="884.50" width="500.00" height="20.00" fill="#fff" stroke="#8f9194" stroke-width="1"/>
<text x="298.30" y="898.80" font-size="10.0" fill="#6d6e71" font-weight="bold" textLength="47.7" lengthAdjust="spacingAndGlyphs" stroke="#6d6e71" stroke-width="0.12">Clean Up</text>
</svg>
</body></html>
